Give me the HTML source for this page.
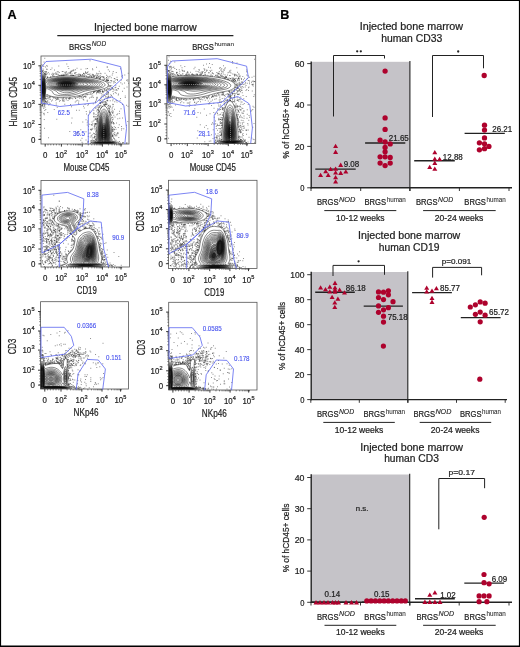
<!DOCTYPE html><html><head><meta charset="utf-8"><style>html,body{margin:0;padding:0;background:#fff}svg{display:block;will-change:transform}</style></head><body>
<svg width="520" height="647" viewBox="0 0 520 647" font-family="Liberation Sans" fill="#222">
<rect x="0" y="0" width="520" height="647" fill="#fff"/>
<clipPath id="c1"><rect x="41" y="56" width="88" height="88"/></clipPath>
<g clip-path="url(#c1)">
<path d="M44.5 58h0m45.25 2.5h0m-46 1.25h0m22.75 2h0m-25 .75h0m1 .5h0m4 .25h0m12 .5h0m-11.5 .25h0m-3.5 .25h0m24.25 0h0m-22.5 .5h0m61.5 0h0m.5 0h0m-66 .25h0m55 0h0m-44.5 .75h0m25 .25h0m-8.25 .25h0m18.75 0h0m-1.5 .25h0m6.5 0h0m28 0h0m-77.5 .25h0m3.75 0h0m34.25 .25h0m-34 .25h0m3.75 0h0m24.75 .25h0m17.25 0h0m15.5 0h0m-66.75 .25h0m13 0h0m18.75 0h0m.75 0h0m-30.75 .25h0m-1.25 .5h0m.75 0h0m29.5 0h0m1 0h0m-1.5 .25h0m-29.25 .25h0m28.25 0h0m28.5 0h0m10.25 0h0m-64 .25h0m1 0h0m15.75 0h0m.75 0h0m50.25 0h0m-68.75 .25h0m12.75 0h0m1 0h0m8.25 0h0m5 0h0m14 0h0m2.5 0h0m-46.75 .25h0m.5 0h0m1.5 0h0m27 0h0m-5.5 .25h0m.75 0h0m-24 .25h0m6.75 0h0m11 0h0m11.25 0h0m5.5 0h0m9.5 0h0m2 0h0m28.75 0h0m-70 .25h0m9.5 0h0m19.25 0h0m11.25 0h0m-40.75 .25h0m21.25 0h0m1.75 0h0m1 0h0m.5 0h0m5 0h0m-30.75 .25h0m1.5 0h0m7 0h0m30.75 0h0m13 0h0m3.75 0h0m4.75 0h0m7.75 0h0m15.5 0h0m-83.5 .25h0m9.25 0h0m11.25 0h0m5.5 0h0m4 0h0m9 0h0m2.5 0h0m-42 .25h0m3 0h0m9.5 0h0m27 0h0m1.25 0h0m12.75 0h0m1 0h0m2.25 0h0m-51.75 .25h0m6.25 0h0m12 0h0m4.75 0h0m6.5 0h0m11.25 0h0m-38.25 .25h0m4.75 0h0m1.5 0h0m5 0h0m16.75 0h0m7.75 0h0m1.25 0h0m3.5 0h0m-47.5 .25h0m.5 0h0m.5 0h0m.5 0h0m18 0h0m12.75 0h0m5.5 0h0m6.5 0h0m3.75 0h0m-39.5 .25h0m.5 0h0m12 0h0m.25 0h0m.5 0h0m1.5 0h0m3 0h0m7.25 0h0m1.75 0h0m.5 0h0m3.75 0h0m9.25 0h0m-48 .25h0m12.5 0h0m3.25 0h0m2 0h0m12.5 0h0m6.25 0h0m14.75 0h0m15.5 0h0m12.5 0h0m-72.25 .25h0m6.25 0h0m2.5 0h0m12.75 0h0m6.25 0h0m15.25 0h0m2.25 0h0m8.75 0h0m-47 .25h0m1.5 0h0m1 0h0m.5 0h0m8.75 0h0m1.5 0h0m.25 0h0m7.75 0h0m.25 0h0m1.75 0h0m2.25 0h0m6 0h0m31.25 0h0m-62.25 .25h0m3.5 0h0m.25 0h0m.25 0h0m.75 0h0m6 0h0m2.25 0h0m.25 0h0m.25 0h0m4.75 0h0m5 0h0m9.25 0h0m1 0h0m1 0h0m2.75 0h0m3 0h0m-54.25 .25h0m15 0h0m1.25 0h0m1.25 0h0m16.25 0h0m6.75 0h0m3.25 0h0m.5 0h0m3.75 0h0m-48.5 .25h0m7.25 0h0m1.25 0h0m11 0h0m9.75 0h0m3.25 0h0m6.5 0h0m9 0h0m6.25 0h0m7.75 0h0m2.5 0h0m-59.25 .25h0m3.25 0h0m3.25 0h0m21.75 0h0m7.25 0h0m3.5 0h0m1.75 0h0m3.25 0h0m3.75 0h0m3.25 0h0m-20 .25h0m2.25 0h0m3.75 0h0m9 0h0m6 0h0m.25 0h0m6 0h0m12.75 0h0m-74.25 .25h0m35.25 0h0m5.75 0h0m3.25 0h0m1.5 0h0m1 0h0m9.75 0h0m-56.5 .25h0m.25 0h0m3 0h0m1.25 0h0m32 0h0m3.75 0h0m1 0h0m2.75 0h0m5 0h0m.75 0h0m1.5 0h0m2 0h0m2.5 0h0m13.75 0h0m-25 .25h0m4.25 0h0m7.5 0h0m2.75 0h0m-56.25 .25h0m46.5 0h0m1 0h0m2.75 0h0m6.25 0h0m4.5 0h0m-19.25 .25h0m8.25 0h0m.25 0h0m8.25 0h0m-62 .25h0m46.75 0h0m.5 0h0m5 0h0m.25 0h0m-3.5 .25h0m1 0h0m2.75 0h0m14.75 0h0m.5 0h0m-9.75 .25h0m-1 .25h0m3.25 0h0m-4.25 .25h0m1.5 0h0m2 0h0m-6.25 .25h0m16.75 0h0m.25 0h0m-10.5 .25h0m21 0h0m-19.75 .25h0m7.25 0h0m6 0h0m-18.25 .25h0m3.75 0h0m.25 0h0m1.5 0h0m18 0h0m-23.25 .25h0m2.75 0h0m2 0h0m.5 0h0m2.25 0h0m6.75 0h0m-10 .25h0m3.75 0h0m-4.25 .25h0m.75 0h0m4 0h0m16 0h0m-22 .25h0m8.25 0h0m0 .5h0m-7.25 .25h0m2.5 .25h0m-1 .25h0m7 0h0m-4.5 .25h0m10 0h0m-7 .25h0m10.75 0h0m4 .25h0m-6.25 .75h0m-13.75 .25h0m1.75 1.25h0m-.5 .25h0m2 0h0m4 0h0m-7 .25h0m1.5 0h0m9 .25h0m-10.25 .5h0m1.25 0h0m16.75 .25h0m-15.25 .5h0m4 0h0m-3.25 .25h0m2.5 0h0m-7.5 .25h0m16.75 .25h0m-11.75 .25h0m5.5 0h0m-9.25 .25h0m.75 0h0m9 0h0m-11 .25h0m6 0h0m-6.75 .25h0m1.75 0h0m1.75 0h0m.75 0h0m1 0h0m-7.5 .25h0m-3.75 .25h0m15.75 0h0m-11.5 .25h0m1.25 0h0m4.25 0h0m3.5 0h0m1.75 0h0m-15.5 .25h0m6 0h0m10.75 0h0m-18.25 .25h0m.5 0h0m-2 .25h0m1.25 0h0m1 0h0m3.25 0h0m1.75 0h0m1.5 0h0m-7 .25h0m3.25 0h0m-7 .25h0m1 0h0m6.25 0h0m4.5 0h0m.5 0h0m15 0h0m-27.75 .25h0m2.75 0h0m.25 0h0m.5 0h0m2.25 0h0m2.25 0h0m10.25 0h0m-19.25 .25h0m.5 0h0m5 0h0m1.5 0h0m3 0h0m-10 .25h0m.25 0h0m5 0h0m1 0h0m2.5 0h0m.25 0h0m.5 0h0m-9.75 .25h0m4 0h0m.5 0h0m10.25 0h0m-11.75 .25h0m18.75 0h0m-24.25 .25h0m2.5 0h0m4.75 0h0m10 0h0m-1.5 .25h0m1.75 0h0m-8.5 .25h0m7.75 0h0m8.5 0h0m-24 .25h0m-2 .25h0m6.25 0h0m5 0h0m12 0h0m-26.75 .25h0m31.75 0h0m-30.25 .25h0m14.75 0h0m3.5 0h0m-19.5 .25h0m3 0h0m17 0h0m-23.5 .25h0m1.75 0h0m2 0h0m4.5 0h0m16.5 0h0m2.5 0h0m-63.5 .25h0m71 0h0m-14 .25h0m-21.75 .25h0m22.5 0h0m6.5 0h0m-9.5 .25h0m-9.25 .25h0m32.5 0h0m-77.75 .25h0m31.75 0h0m5.5 0h0m.25 0h0m1 0h0m22.5 0h0m-61.75 .25h0m33.5 0h0m1.5 0h0m2 0h0m1.25 0h0m-36 .25h0m.75 0h0m.75 0h0m.5 0h0m28 0h0m.75 0h0m1 0h0m22.5 0h0m2.5 0h0m6.5 0h0m-59.75 .25h0m25.75 0h0m3.5 0h0m10 0h0m9.5 0h0m4.75 0h0m1.75 0h0m1.25 0h0m1.5 0h0m-61.5 .25h0m.75 0h0m4 0h0m16 0h0m7.75 0h0m6 0h0m2.25 0h0m5.25 0h0m6 0h0m11.5 0h0m-51.25 .25h0m17 0h0m19 0h0m14.5 0h0m17.5 0h0m-71 .25h0m4.75 0h0m4.25 0h0m12.75 0h0m21 0h0m-49.25 .25h0m6 0h0m2 0h0m2 0h0m3.25 0h0m2 0h0m.75 0h0m6 0h0m.75 0h0m5 0h0m6.25 0h0m1.25 0h0m6.5 0h0m11.5 0h0m-55.25 .25h0m9.75 0h0m2.75 0h0m8.25 0h0m3.25 0h0m2 0h0m8 0h0m17.25 0h0m-51.25 .25h0m20 0h0m2.5 0h0m7.25 0h0m31.5 0h0m13.5 0h0m-75 .25h0m2.5 0h0m9.25 0h0m11.5 0h0m.5 0h0m3.5 0h0m-26.25 .25h0m2.75 0h0m7.75 0h0m5.25 0h0m.75 0h0m6.75 0h0m-19.25 .25h0m6 0h0m.75 0h0m39.25 0h0m8 0h0m8.5 0h0m-54.25 .25h0m24.5 0h0m21 0h0m-38 .25h0m35.75 0h0m-49.5 .25h0m10.5 0h0m1.25 0h0m19.5 0h0m16.25 0h0m7.25 0h0m-51.5 .25h0m21.5 0h0m10 0h0m9 0h0m3 0h0m-39 .25h0m2.75 0h0m5 0h0m32.5 0h0m6.75 0h0m9 0h0m-70.75 .25h0m2.25 0h0m59.25 0h0m.75 0h0m2.5 0h0m2.5 0h0m7.25 0h0m-68.5 .25h0m11.25 0h0m13.5 0h0m2.5 0h0m-33.25 .25h0m1.75 0h0m12.25 0h0m27.75 0h0m-42 .25h0m.5 0h0m18.25 0h0m31.5 0h0m8.5 0h0m-1.25 .25h0m2.5 0h0m.5 0h0m9 0h0m-69.75 .25h0m1.25 0h0m.5 0h0m28.5 0h0m26 0h0m15.75 0h0m-68 .25h0m51 0h0m1.75 0h0m3.25 0h0m-58 .25h0m48.5 0h0m5 0h0m.25 0h0m-55.75 .25h0m57.5 0h0m.75 0h0m3.25 0h0m-50.25 .25h0m22.25 0h0m21.5 0h0m5.5 0h0m-61.5 .25h0m56.5 0h0m-53.25 .25h0m2.75 0h0m50 0h0m-55.5 .25h0m48.75 0h0m7.5 0h0m-56.75 .25h0m1.75 0h0m33 0h0m26 0h0m1 0h0m1.25 0h0m-62.25 .25h0m20 0h0m23.75 0h0m17.75 0h0m.5 0h0m6 0h0m-42.25 .25h0m14.5 0h0m18.5 0h0m1 0h0m.5 0h0m.5 0h0m7.75 0h0m9.25 0h0m-80.25 .25h0m.25 0h0m.75 0h0m62.75 0h0m-61.5 .25h0m4.25 0h0m7.5 0h0m31.5 .25h0m21.25 0h0m17.5 0h0m-84.5 .25h0m.5 0h0m66 0h0m-66.75 .25h0m3 0h0m53.5 0h0m2 0h0m.75 0h0m3.5 0h0m-5 .25h0m4.75 0h0m1 0h0m5.25 0h0m-68.25 .25h0m2 0h0m39.25 0h0m19 0h0m5.25 0h0m5.25 0h0m15 0h0m-18 .25h0m-38.5 .25h0m-28.25 .25h0m54 0h0m1.75 0h0m.5 0h0m2.5 0h0m7 0h0m-64 .25h0m12.25 0h0m44 0h0m9 0h0m-11.25 .25h0m2.5 0h0m10.75 .25h0m-28 .25h0m11 0h0m.75 0h0m2.5 0h0m9.75 0h0m1 .25h0m-65.5 .25h0m57 0h0m8 .25h0m.75 0h0m11.5 0h0m-22.75 .25h0m13.75 0h0m2.5 .25h0m-68.75 .25h0m8.5 0h0m43.75 0h0m-.75 .25h0m12.5 0h0m-11.75 .25h0m-21.5 .25h0m2.75 0h0m14.5 0h0m5 0h0m-54 .25h0m53.75 0h0m10.25 .25h0m.75 0h0m3.25 0h0m-45.5 .25h0m22.5 0h0m7 0h0m15 .25h0m7.75 0h0m-33.25 .25h0m13 0h0m10.25 0h0m-10.5 .25h0m10 0h0m-10 .25h0m14.5 0h0m-71.75 .25h0m47.75 0h0m9.25 0h0m11.5 0h0m2 0h0m-64.5 .25h0m61.75 0h0m2.75 0h0m-18.5 .25h0m4 0h0m11.75 0h0m.25 0h0m-65.75 .5h0m66.5 0h0m2.25 .25h0m6.5 0h0m-75.5 .25h0m50.25 0h0m-7.5 .25h0m7.25 0h0m4 0h0m12.75 0h0m7 0h0m-7.25 .25h0m-14.25 .25h0m15 0h0m-66.75 .25h0m72.5 0h0m-28.25 .5h0m25.25 0h0m-16.25 .25h0m12.5 0h0m1.25 0h0m-17.25 .75h0m2 .25h0m2 0h0m-4.25 .25h0m16.5 0h0m-16.25 .25h0m2 0h0m19 0h0m-3 .25h0m.75 0h0m-40.75 .75h0m39.5 0h0m11 0h0m-25.5 .25h0m22.75 0h0m-22.5 .25h0m.25 0h0m-2.25 .25h0m2.5 0h0m20 0h0m-22 .25h0m14.75 0h0m2.75 0h0m-56.5 .25h0m39 0h0m.25 0h0m-51.75 .25h0m52.75 0h0m-11 .25h0m26.5 0h0m-18.25 .25h0m2 0h0m1 0h0m14.75 0h0m-14.75 .75h0m-9.5 .25h0m5.5 0h0m3.25 .25h0m1 0h0m0 .25h0m14.75 0h0m15.5 0h0m-45 .5h0m9.25 0h0m19.75 0h0m-14.25 .25h0m14 0h0m-14 .25h0m16 0h0m-26.25 .25h0m10 0h0m13.75 0h0m-39.5 .25h0m41.25 0h0m.75 0h0m3 0h0m-5.25 .25h0m-16.25 .25h0m.5 0h0m1.5 0h0m.25 0h0m16.75 0h0m-21.25 .25h0m2.5 0h0m1.75 0h0m16.75 .25h0m-24.5 .25h0m5.75 0h0m.25 0h0m.5 0h0m1.25 0h0m-5.75 .25h0m28 .25h0m-32 .25h0m4.25 0h0m1 0h0m2.25 0h0m31.75 .25h0m-32 .5h0m1.25 .25h0m-7.25 .25h0m5.75 .25h0m27.25 0h0m-9.75 .25h0m2.5 0h0m-19.5 .5h0m2 .25h0m15.75 0h0m3 0h0m2.75 0h0m-5.75 .5h0m-68 .25h0m48.25 0h0m2.25 .25h0m26.75 0h0m-8 .25h0m10 0h0m-32 .25h0m4.5 0h0m15.5 0h0m-21 .25h0m25.25 0h0m-25.25 .25h0m1.25 0h0m21.75 0h0m.75 0h0m-33.75 .25h0m7.75 0h0m6.5 0h0m17.25 0h0m.25 0h0m0 .25h0m9 0h0m-30.25 .25h0m5.25 .25h0m15.75 .25h0m1.5 0h0m-17.75 .25h0m-26.25 .5h0m9 0h0m34 0h0m-26.75 .25h0m26.75 0h0m-17.25 .25h0m19.25 .5h0m3 0h0m-40.5 .25h0m0 .25h0m13 0h0m-1.25 .25h0m4.5 0h0m18.25 0h0m6.25 0h0m-23.25 .25h0m19 .25h0m3.25 0h0m.75 0h0m-38 .25h0m14.5 0h0m20.5 .25h0m-19.25 .25h0m-3.25 .25h0m4.25 0h0m16.25 0h0m1.75 0h0m1.75 0h0m-4 .5h0m-21 .25h0m21.25 0h0m3 .25h0m1.25 0h0m-22 .25h0m17.25 0h0m.5 0h0m1.25 0h0m-1 .25h0m-24.5 .25h0m6.5 0h0m1.5 0h0m15.75 0h0m-20.25 .25h0m3 0h0m-4.5 .25h0m4.5 .25h0m-1.75 .25h0m25.75 0h0m-70.25 .25h0m46 0h0m19 0h0m-19.5 .25h0m-12 .25h0m31.75 0h0m-17.75 .5h0m18.5 0h0m-22.25 .25h0m4 0h0m-.75 .25h0m.75 .25h0m-1 .25h0m17.25 0h0m2.25 0h0m-28.75 .25h0m-5.25 .25h0m12.25 0h0m23 0h0m-24.5 .25h0m1.5 0h0m1 0h0m2 .25h0m.5 0h0m16.25 0h0m-22.25 .25h0m4.25 0h0m.25 0h0m-7 .25h0m26.25 0h0m1 0h0m-27 .25h0m24.5 0h0m6.75 0h0m-28 .25h0m1.25 0h0m3 0h0m17.5 0h0m3.75 0h0m-23.75 .25h0m1.75 0h0m18 0h0m1 0h0m-32 .25h0m11.25 0h0m22.5 0h0m2.75 0h0m-26.75 .25h0m31 0h0m-35 .25h0m35.75 0h0m-32.25 .25h0m28.75 0h0m2.75 0h0m4 0h0m.25 0h0m-44.25 .25h0m7.75 0h0m29.75 0h0m6 0h0m-40.25 .25h0m33.75 0h0m2.25 0h0" stroke="#333" stroke-width=".55" stroke-linecap="square" transform="translate(.28 .28)"/>
<path d="M42.5 104.14L42 103.94L41.5 103.35L41.08 102.5L40.42 100.5L40 98.63L39.71 94.5L39.61 86L39.7 80.5L40.02 77L40.69 74.5L41.3 73L42 72.04L42.5 71.84L43 72.04L43.71 73L44.34 74.5L45 76.58L45.5 77.7L46 78.23L46.5 78.36L51.5 77.27L54 76.84L58 76.34L60.5 76.13L65 75.92L68.5 75.89L73.5 76.05L77.5 76.33L91.5 77.78L95 78.35L98.5 79.13L102.5 80.28L105 81.25L106 81.77L107.07 82.5L107.61 83L108.26 84L108.4 84.5L108.33 85.5L107.75 86.5L107.25 87L106.5 87.54L104.5 88.5L102 89.26L94.06 91L90.09 92L82 94.83L79 95.63L75.5 96.33L71.5 96.89L67 97.27L62.5 97.39L58 97.26L54 96.83L51 96.23L48.89 95.5L47 94.43L46.5 94.63L46 95.59L45.5 97.06L44.3 101.5L43.92 102.5L43.5 103.35L43 103.94L42.5 104.14ZM115 145.06L112 145.31L107.5 145.44L101 145.44L96.5 145.3L94 145.07L92 144.66L90.45 144L90.21 143.5L90.74 143L91 142.89L92.5 142.39L94.3 142L95.97 141.5L96.49 141L96.55 140.5L96.3 136.5L96.44 132.5L97.3 122.5L97.74 119L98.27 116L99.32 112L99.86 110.5L100.55 109L101.14 108L102 106.91L103 106.16L103.5 105.98L104 105.91L104.5 105.98L105.5 106.47L106.08 107L107 108.21L107.7 109.5L108.33 111L109.13 113.5L109.62 115.5L110.18 118.5L110.64 122L111.38 130L111.7 135.5L111.65 138L111.45 140.5L111.56 141L112.25 141.5L116 142.28L117.5 142.71L118.23 143L118.77 143.5L118.52 144L117.5 144.49L116.5 144.79L115 145.06Z" fill="#fff" fill-rule="evenodd"/>
<path d="M42.5 95.06L42 94.59L41.5 92.97L41.18 90.5L41.04 87L41.15 84.5L41.46 82.5L42 81L42.5 80.59L43 80.89L43.5 81.96L43.65 82.5L43.98 84.5L44.06 86.5L43.89 90L43.52 93L43 94.63L42.5 95.06ZM69.5 87.03L67 87.16L64.5 87.11L62 86.87L60 86.51L58.24 86L57.1 85.5L56.36 85L55.96 84.5L55.84 84L56.01 83.5L56.47 83L57.29 82.5L59 81.87L60.58 81.5L62.5 81.22L66.5 81.01L70.5 81.26L72.5 81.56L74.37 82L75.84 82.5L76.87 83L77.51 83.5L77.78 84L77.66 84.5L77.15 85L76.25 85.5L75.5 85.79L73 86.5L69.5 87.03ZM104.5 145.01L103 144.97L101 144.63L99.07 144L98.67 143.5L99.3 143L101.67 142L102.29 141.5L102.34 141L101.61 139L101.25 137L101.14 134.5L101.29 131.5L101.82 127.5L102.5 124.57L103 123.37L103.5 122.71L104 122.5L104.5 122.71L105 123.37L105.5 124.57L106.18 127.5L106.71 131.5L106.86 134.5L106.75 137L106.39 139L105.67 141L105.73 141.5L106.41 142L109.15 143L109.92 143.5L109.47 144L108 144.45L106 144.87L104.5 145.01Z" fill="#888" fill-rule="evenodd"/>
<path d="M42.5 94.04L42 93.49L41.52 91.5L41.32 89.5L41.25 87L41.33 85L41.53 83.5L42 81.95L42.5 81.47L43 81.82L43.5 83.15L43.72 84.5L43.83 86.5L43.74 89L43.5 91.5L43 93.53L42.5 94.04ZM67 86.51L64 86.41L61 85.94L59.57 85.5L58.59 85L58.07 84.5L57.92 84L58.13 83.5L58.73 83L59.82 82.5L60.5 82.3L63 81.82L66.5 81.62L70 81.87L72.5 82.38L74.15 83L74.84 83.5L75.1 84L74.95 84.5L74.38 85L73 85.6L70.5 86.19L67 86.51ZM104.5 140.71L104 140.89L103.5 140.71L103 140.22L102.5 139.41L101.92 137.5L101.69 135L101.85 131.5L102.5 127.57L103 125.98L103.5 125.13L104 124.86L104.5 125.13L105 125.98L105.5 127.57L106.03 130.5L106.31 134L106.27 136L105.97 138L105.45 139.5L105 140.22L104.5 140.71ZM106.5 144.59L104.5 144.83L102.5 144.72L101 144.41L99.79 144L99.36 143.5L100 142.99L103.5 141.59L104 141.53L104.5 141.58L105.47 142L108.4 143L109.16 143.5L108.69 144L106.5 144.59Z" fill="#444" fill-rule="evenodd"/>
<path d="M42.5 92.95L42 92.24L41.83 91.5L41.55 89.5L41.46 87.5L41.53 85.5L41.74 84L42 83L42.5 82.4L43 82.82L43.35 84L43.52 85L43.6 87L43.5 89.24L43.27 91L43 92.29L42.5 92.95ZM69 85.57L66 85.75L63.17 85.5L61.4 85L60.61 84.5L60.39 84L60.7 83.5L61.61 83L62 82.88L64 82.47L66.5 82.35L68.79 82.5L71 83L71.98 83.5L72.31 84L72.09 84.5L71.27 85L69 85.57ZM104 139.16L103.5 138.97L103 138.32L102.86 138L102.45 136.5L102.31 134.5L102.5 131.56L102.92 129.5L103.5 128L104 127.64L104.5 128L105.08 129.5L105.5 131.56L105.69 134.5L105.55 136.5L105.14 138L105 138.32L104.5 138.97L104 139.16ZM105.5 144.56L103.5 144.63L102 144.43L100.5 144L100.03 143.5L100.66 143L101.5 142.67L103 142.22L104 142.11L105 142.2L106.5 142.61L107.68 143L108.43 143.5L107.92 144L105.5 144.56Z" fill="#111" fill-rule="evenodd"/>
<path d="M42.5 104.14L42 103.94L41.5 103.35L41.08 102.5L40.42 100.5L40 98.63L39.71 94.5L39.61 86L39.7 80.5L40.02 77L40.69 74.5L41.3 73L42 72.04L42.5 71.84L43 72.04L43.71 73L44.34 74.5L45 76.58L45.5 77.7L46 78.23L46.5 78.36L51.5 77.27L54 76.84L58 76.34L60.5 76.13L65 75.92L68.5 75.89L73.5 76.05L77.5 76.33L91.5 77.78L95 78.35L98.5 79.13L102.5 80.28L105 81.25L106 81.77L107.07 82.5L107.61 83L108.26 84L108.4 84.5L108.33 85.5L107.75 86.5L107.25 87L106.5 87.54L104.5 88.5L102 89.26L94.06 91L90.09 92L82 94.83L79 95.63L75.5 96.33L71.5 96.89L67 97.27L62.5 97.39L58 97.26L54 96.83L51 96.23L48.89 95.5L47 94.43L46.5 94.63L46 95.59L45.5 97.06L44.3 101.5L43.92 102.5L43.5 103.35L43 103.94L42.5 104.14ZM115 145.06L112 145.31L107.5 145.44L101 145.44L96.5 145.3L94 145.07L92 144.66L90.45 144L90.21 143.5L90.74 143L91 142.89L92.5 142.39L94.3 142L95.97 141.5L96.49 141L96.55 140.5L96.3 136.5L96.44 132.5L97.3 122.5L97.74 119L98.27 116L99.32 112L99.86 110.5L100.55 109L101.14 108L102 106.91L103 106.16L103.5 105.98L104 105.91L104.5 105.98L105.5 106.47L106.08 107L107 108.21L107.7 109.5L108.33 111L109.13 113.5L109.62 115.5L110.18 118.5L110.64 122L111.38 130L111.7 135.5L111.65 138L111.45 140.5L111.56 141L112.25 141.5L116 142.28L117.5 142.71L118.23 143L118.77 143.5L118.52 144L117.5 144.49L116.5 144.79L115 145.06ZM42.5 102.2L42 101.98L41.35 101L40.79 99.5L40.2 97L40 95.65L39.86 93.5L39.73 86L39.83 81.5L40 79.61L40.22 78.5L40.76 76.5L41.33 75L42 73.99L42.5 73.77L43 73.99L43.5 74.63L44.11 76L45 78.56L45.5 79.52L46 79.94L46.5 79.99L47 79.88L50 78.93L53 78.22L56 77.71L59.5 77.31L63 77.08L66.5 76.99L70.5 77.05L74 77.25L89 78.9L92 79.3L95 79.88L99.5 81.1L102.5 82.24L103.83 83L104.42 83.5L104.82 84L105.02 84.5L105.05 85L104.9 85.5L104.55 86L104 86.47L103 87.05L101 87.78L95 89.16L87.49 90.5L85.2 91L83 91.69L78.5 93.55L75 94.58L71.5 95.24L67.5 95.66L64 95.79L60.5 95.67L57.5 95.3L55.5 94.8L54.67 94.5L54 94.13L53.25 93.5L52.25 91.5L51.78 91L51.09 90.5L48 88.98L47 88.61L46.5 88.61L46 89.16L45.92 89.5L45.67 91L45.29 95L44.77 97.5L44.23 99.5L43.5 101.32L43 101.98L42.5 102.2ZM112.5 145.06L109.5 145.3L106 145.41L101.5 145.4L98 145.25L95.75 145L93.6 144.5L92.4 144L92.13 143.5L92.74 143L93 142.9L96.5 141.9L97.34 141.5L97.65 141L97.4 137L97.45 133.5L98.19 124.5L98.93 119L99.7 115.5L100.74 112.5L101.24 111.5L102 110.34L102.5 109.81L103 109.44L103.5 109.22L104 109.15L104.5 109.22L105 109.44L105.68 110L106.5 111.05L107.26 112.5L107.84 114L108.79 117.5L109.24 120L109.7 123.5L110.42 131.5L110.62 136L110.37 141L110.77 141.5L111 141.59L112.18 142L115.5 142.74L116.22 143L116.85 143.5L116.57 144L115.5 144.45L114 144.83L112.5 145.06ZM42.5 101.07L42 100.83L41.46 100L40.76 98L40.34 96L40 93L39.83 86L39.94 82L40.33 79.5L40.86 77.5L41.5 75.84L42 75.13L42.5 74.9L43 75.12L43.5 75.8L44.21 77.5L45 79.75L45.5 80.73L46 81.16L46.5 81.18L49 80.14L51.5 79.34L54 78.76L57 78.25L60.5 77.87L64 77.66L68 77.62L71.5 77.75L76.5 78.19L89 79.74L93.5 80.49L97 81.42L99.89 82.5L100.89 83L101.64 83.5L102.15 84L102.4 84.5L102.42 85L102.17 85.5L101.63 86L100 86.81L97.79 87.5L92.5 88.68L85 89.76L82.5 90.22L79.66 91L75 92.86L72.95 93.5L70 94.09L66.5 94.43L64.5 94.47L62.5 94.36L60.5 94.06L59.5 93.79L58.75 93.5L58 93.03L56.48 91.5L55.77 91L54.81 90.5L49.5 88.41L47 87.28L46.5 87.18L46 87.48L45.5 88.96L44.91 95L44.27 98L43.5 100.12L43 100.84L42.5 101.07ZM111.5 145.01L109 145.25L106 145.37L102 145.37L99 145.23L96.96 145L94.84 144.5L93.56 144L93.26 143.5L93.92 143L97.22 142L98.09 141.5L98.32 141L98.01 137L98.07 133L98.7 125.5L99.34 120.5L100.22 116.5L101.12 114L101.63 113L102.34 112L103 111.4L103.5 111.15L104 111.07L104.5 111.15L105 111.4L105.5 111.81L106.06 112.5L106.65 113.5L107.29 115L107.78 116.5L108.28 118.5L108.74 121L109.13 124L109.87 132L110 136.5L109.7 141L109.98 141.5L111 141.97L114.5 142.82L115.01 143L115.71 143.5L115.41 144L114.5 144.36L113 144.75L111.5 145.01ZM42.5 100.23L42 99.97L41.5 99.2L40.91 97.5L40.58 96L40.13 92.5L39.93 86L40.05 82.5L40.26 81L40.71 79L41.5 76.72L42 75.98L42.5 75.72L43 75.96L43.5 76.66L44.07 78L45 80.72L45.5 81.84L46 82.42L46.5 82.41L48.5 81.17L50.5 80.31L53 79.56L56 78.92L59.5 78.44L62.5 78.19L66 78.08L69.5 78.13L72.5 78.3L76 78.66L89 80.4L92 80.89L94.5 81.51L97.3 82.5L99.14 83.5L99.68 84L99.94 84.5L99.91 85L99.55 85.5L98.83 86L97 86.76L94.5 87.49L90.5 88.28L84.47 89L81.21 89.5L76.94 90.5L71 92.23L69 92.61L67 92.8L64.5 92.69L62.5 92.19L58.19 90.5L51 88.18L49 87.31L46.5 85.85L46 86.06L45.5 87.32L45.14 90L44.75 94.5L44.12 97.5L43.5 99.22L43 99.98L42.5 100.23ZM110.5 145.02L108 145.25L105 145.35L101.5 145.31L99 145.15L97.78 145L95.5 144.42L94.4 144L94.09 143.5L94.78 143L97.88 142L98.63 141.5L98.81 141L98.46 137L98.46 134L98.85 128.5L99.67 121.5L100.4 118L101.23 115.5L102 114L102.5 113.33L103 112.87L103.5 112.6L104 112.51L104.5 112.6L105 112.87L105.5 113.33L106 113.99L106.55 115L107.15 116.5L107.6 118L108.06 120L108.8 125L109.46 132.5L109.56 136.5L109.2 141L109.43 141.5L110.36 142L114 142.96L114.86 143.5L114.53 144L114 144.21L112.5 144.65L110.5 145.02ZM42.5 99.52L42 99.26L41.5 98.43L41.02 97L40.68 95.5L40.22 91.5L40.03 86L40.22 82.5L40.81 79.5L41.5 77.47L42 76.68L42.5 76.42L43 76.65L43.5 77.39L43.78 78L45.31 82.5L45.67 84L45.69 84.5L45.02 89L44.73 93L44.27 96L43.5 98.46L43 99.26L42.5 99.52ZM67.5 91L64.5 90.85L61 90.27L56.5 89.24L52 87.88L49.97 87L48.38 86L47.84 85.5L47.47 85L47.24 84.5L47.18 84L47.29 83.5L47.57 83L48 82.5L49.38 81.5L51.5 80.56L54 79.81L57 79.2L60.5 78.75L64 78.52L68 78.49L72 78.68L75.5 79.05L91 81.34L93.62 82L96 82.97L96.86 83.5L97.38 84L97.6 84.5L97.5 85L97.06 85.5L96.26 86L94.5 86.69L92 87.35L89.5 87.78L83.1 88.5L81 88.82L71 90.74L67.5 91ZM109.5 145.05L107 145.26L104.5 145.32L101.5 145.27L99.5 145.13L98.46 145L96 144.34L95.11 144L94.79 143.5L95.49 143L98.41 142L99.08 141.5L99.24 141L98.82 137L98.84 133.5L99.32 127.5L100.1 121.5L100.76 118.5L101.68 116L102.5 114.64L103 114.14L103.5 113.85L104 113.75L104.5 113.85L105 114.14L105.5 114.64L106.32 116L107.24 118.5L107.9 121.5L108.68 127.5L109.16 133.5L109.18 137L108.77 141L108.97 141.5L109.79 142L113.37 143L114.13 143.5L113.8 144L113 144.29L111.5 144.69L109.5 145.05ZM43 98.56L42.5 98.84L42 98.55L41.5 97.67L41.12 96.5L40.79 95L40.58 93.5L40.32 90.5L40.2 87.5L40.25 84L40.78 80.5L41.5 78.19L42 77.36L42.5 77.08L43 77.33L43.5 78.08L43.89 79L44.83 82L45.14 83.5L45.23 84.5L44.64 92L44.35 94.5L43.76 97L43.5 97.72L43 98.56ZM68.5 90.01L65 89.97L62 89.68L57 88.76L53.5 87.78L51 86.75L49.5 85.77L48.8 85L48.58 84.5L48.52 84L48.62 83.5L48.89 83L49.34 82.5L50.84 81.5L52.5 80.79L55 80.05L58 79.47L61 79.1L64.5 78.88L68 78.87L71.5 79.05L75 79.42L90 81.83L92 82.33L93.75 83L94.58 83.5L95.09 84L95.27 84.5L95.11 85L94.59 85.5L93.67 86L92.26 86.5L90.5 86.92L88 87.3L82 88L72.5 89.66L68.5 90.01ZM109 145.03L106.5 145.23L104 145.28L101.5 145.22L99.5 145.06L97.5 144.6L96 144.09L95.79 144L95.46 143.5L96.16 143L98.91 142L99.52 141.5L99.66 141L99.22 137.5L99.2 133.5L99.68 127.5L100.33 122.5L101.13 119L102 116.77L102.5 115.96L103 115.41L103.5 115.09L104 114.98L104.5 115.09L105 115.41L105.5 115.96L106 116.77L106.87 119L107.67 122.5L108.32 127.5L108.8 133.5L108.78 137.5L108.35 141L108.5 141.45L109.26 142L112.64 143L113.43 143.5L113.08 144L112.5 144.21L111 144.63L109 145.03ZM42.5 98.24L42 97.94L41.5 97L40.87 94.5L40.54 91.5L40.32 86.5L40.47 83.5L40.65 82L40.97 80.5L41.25 79.5L41.67 78.5L42 77.94L42.5 77.65L43 77.9L43.5 78.68L44.18 80.5L44.81 83L44.95 85L44.6 90.5L44.18 94.5L43.84 96L43.5 97.06L43 97.96L42.5 98.24ZM73 89.01L69 89.4L65 89.4L61.5 89.08L57 88.27L53.5 87.24L52 86.59L50.99 86L50.37 85.5L49.94 85L49.7 84.5L49.63 84L49.74 83.5L50.03 83L50.51 82.5L52 81.57L54 80.78L56 80.24L59 79.68L62 79.35L65 79.2L68 79.2L71.5 79.4L75 79.8L89 82.3L91.45 83L92.43 83.5L92.98 84L93.15 84.5L92.92 85L92.27 85.5L91.08 86L89.5 86.4L81.58 87.5L73 89.01ZM108.5 145.02L104.5 145.25L102 145.2L100 145.05L98 144.58L96.5 144.06L96.36 144L96.02 143.5L96.71 143L99.33 142L99.91 141.5L100.03 141L99.55 137.5L99.49 134L99.84 129L100.53 123.5L101.15 120.5L102 118.03L102.5 117.13L103 116.53L103.5 116.18L104 116.07L104.5 116.18L105 116.53L105.5 117.13L106 118.03L106.85 120.5L107.47 123.5L108.16 129L108.51 134L108.45 137.5L107.98 141L108.13 141.5L108.82 142L112.02 143L112.84 143.5L112.46 144L112 144.17L110.5 144.6L108.5 145.02ZM42.5 97.68L42 97.36L41.56 96.5L41.03 94.5L40.66 91.5L40.47 86.5L40.6 83.5L41.02 81L41.29 80L41.71 79L42 78.5L42.5 78.19L43 78.44L43.36 79L43.97 80.5L44.59 83L44.77 85L44.39 91.5L44.1 94L43.5 96.42L43 97.38L42.5 97.68ZM73 88.53L69.5 88.9L65.5 88.95L62 88.7L58.5 88.16L55.5 87.42L53 86.46L52.17 86L51.5 85.5L51.04 85L50.78 84.5L50.7 84L50.82 83.5L51.13 83L52 82.25L53.4 81.5L55.5 80.78L58 80.2L61 79.77L64 79.55L67 79.5L71 79.69L75 80.18L86.45 82.5L88.58 83L89.91 83.5L90.61 84L90.78 84.5L90.43 85L90 85.24L89.46 85.5L88 85.89L82 86.86L75.5 88.13L73 88.53ZM108 145.01L104 145.21L100.14 145L98.25 144.5L96.88 144L96.53 143.5L97.22 143L99.73 142L100.28 141.5L100.38 141L99.95 138.5L99.81 137L99.77 134L100.14 129L100.7 124.5L101.29 121.5L102 119.29L102.5 118.29L103 117.63L103.5 117.24L104 117.12L104.5 117.24L105 117.63L105.5 118.29L106 119.29L106.71 121.5L107.3 124.5L107.86 129L108.23 134L108.15 137.5L107.63 141L107.76 141.5L108.4 142L111.46 143L112.28 143.5L111.89 144L110.3 144.5L108 145.01ZM42.5 97.15L42 96.81L41.61 96L41.1 94L40.74 91L40.58 86.5L40.73 83.5L41.19 81L41.5 79.98L42 79.01L42.5 78.69L43.03 79L43.5 79.78L43.94 81L44.41 83L44.6 85.5L44.3 91L43.94 94L43.42 96L43 96.83L42.5 97.15ZM69 88.51L66 88.57L62.5 88.36L59 87.85L56.5 87.27L54.32 86.5L53.32 86L52.59 85.5L52.09 85L51.81 84.5L51.73 84L51.85 83.5L52.18 83L52.5 82.71L53.54 82L55.5 81.21L57.5 80.67L60 80.22L62.5 79.95L65 79.82L68 79.82L70.5 79.97L73 80.23L75.5 80.63L78 81.16L85.04 83L86.59 83.5L87.5 84L87.66 84.5L87.03 85L85.44 85.5L77 87.38L72.5 88.18L69 88.51ZM107.5 145.01L104 145.17L100.64 145L98.73 144.5L97.36 144L97.01 143.5L97.68 143L100.11 142L100.64 141.5L100.73 141L100.33 139L100.14 137.5L100.04 134.5L100.27 130.5L100.79 126L101.31 123L102.02 120.5L102.5 119.43L103 118.7L103.5 118.28L104 118.15L104.5 118.28L105 118.7L105.5 119.43L105.98 120.5L106.69 123L107.21 126L107.73 130.5L107.96 134.5L107.81 138L107.28 141L107.39 141.5L108 142L110.95 143L111.77 143.5L111.37 144L109.77 144.5L107.5 145.01ZM42.5 96.61L42 96.25L41.88 96L41.5 95.06L41.25 94L40.86 91L40.69 87L40.81 84L41.23 81.5L41.5 80.56L42 79.53L42.5 79.18L43 79.45L43.5 80.33L43.75 81L44.24 83L44.44 85.5L44.25 90L43.87 93.5L43.37 95.5L43 96.28L42.5 96.61ZM70.5 88.01L67.5 88.19L64.5 88.14L61.5 87.87L58.5 87.35L56.5 86.81L54.5 86L53.7 85.5L53.16 85L52.85 84.5L52.76 84L52.9 83.5L53.25 83L53.85 82.5L55 81.89L57 81.19L59 80.73L61.5 80.36L64 80.16L66.5 80.11L69 80.18L71.5 80.38L74 80.74L76 81.13L78.5 81.78L80.79 82.5L83.17 83.5L83.79 84L83.8 84.5L83.12 85L80.33 86L75 87.34L72.5 87.78L70.5 88.01ZM107 145L104 145.13L101.17 145L99.2 144.5L97.83 144L97.46 143.5L98.13 143L100.49 142L101.02 141.5L101.1 141L100.65 139L100.43 137.5L100.31 135L100.43 132L100.89 127.5L101.46 124L102.15 121.5L102.5 120.64L103 119.82L103.5 119.35L104 119.2L104.5 119.35L105 119.82L105.5 120.64L105.85 121.5L106.54 124L107.11 127.5L107.57 132L107.69 135L107.51 138L106.91 141L107.01 141.5L107.61 142L110.45 143L111.26 143.5L110.85 144L109.25 144.5L107 145ZM42.5 96.09L42 95.69L41.53 94.5L41.31 93.5L40.95 90.5L40.81 87L40.9 84.5L41.27 82L41.5 81.13L42 80.03L42.5 79.67L43 79.95L43.5 80.87L43.71 81.5L44.16 83.5L44.31 86L44.13 90L43.72 93.5L43.5 94.49L43.11 95.5L43 95.73L42.5 96.09ZM71.5 87.52L68.5 87.79L65.5 87.82L62.5 87.63L59.5 87.17L57 86.51L55.5 85.89L54.82 85.5L54.22 85L53.89 84.5L53.79 84L53.94 83.5L54.32 83L54.98 82.5L55.96 82L57.5 81.46L59.47 81L61.5 80.69L64 80.47L66.5 80.41L69 80.49L71.5 80.72L73.5 81.02L75.78 81.5L77.53 82L80.02 83L80.8 83.5L81.2 84L81.13 84.5L80.57 85L79.6 85.5L78.28 86L75 86.91L71.5 87.52ZM106 145.03L103.5 145.09L101.5 144.96L99.65 144.5L98.27 144L97.89 143.5L98.55 143L100.88 142L101.41 141.5L101.47 141L100.87 138.5L100.61 136L100.64 133L101 129L101.52 125.5L102.27 122.5L103 120.96L103.5 120.45L104 120.28L104.5 120.45L105 120.96L105.73 122.5L106.39 125L106.94 128.5L107.33 132.5L107.4 135.5L107.13 138.5L106.53 141L106.62 141.5L107.22 142L109.98 143L110.79 143.5L110.36 144L110 144.12L108 144.69L106 145.03ZM42.5 95.56L42 95.13L41.59 94L41.37 93L41.07 90.5L40.93 87L41.03 84.5L41.32 82.5L41.5 81.74L42 80.53L42.5 80.14L43 80.44L43.5 81.43L43.68 82L44.07 84L44.18 86L44.04 89.5L43.66 93L43.44 94L43 95.17L42.5 95.56ZM72 87.07L69 87.4L66 87.48L63 87.32L60.5 86.98L58 86.37L56.97 86L56 85.52L55.31 85L54.95 84.5L54.84 84L55 83.49L55.42 83L56 82.6L57.25 82L58.5 81.61L60 81.27L62 80.96L64 80.78L66.5 80.72L70.5 80.94L72.5 81.21L74.5 81.62L76.5 82.21L78.31 83L78.98 83.5L79.28 84L79.19 84.5L78.68 85L77.78 85.5L76.5 86L75 86.45L72 87.07ZM105.5 145.01L103 145.03L101.5 144.85L100.1 144.5L98.69 144L98.3 143.5L98.94 143L101.28 142L101.84 141.5L101.89 141L101.29 139L100.93 136.5L100.88 134L101.12 130.5L101.68 126.5L102 124.92L102.41 123.5L103 122.17L103.5 121.59L104 121.4L104.5 121.59L105 122.17L105.59 123.5L106.23 126L106.82 130L107.1 133.5L107.1 136L106.81 138.5L106.11 141L106.19 141.5L106.81 142L109.54 143L110.33 143.5L109.9 144L109 144.29L107 144.79L105.5 145.01ZM42.5 95.06L42 94.59L41.5 92.97L41.18 90.5L41.04 87L41.15 84.5L41.46 82.5L42 81L42.5 80.59L43 80.89L43.5 81.96L43.65 82.5L43.98 84.5L44.06 86.5L43.89 90L43.52 93L43 94.63L42.5 95.06ZM69.5 87.03L67 87.16L64.5 87.11L62 86.87L60 86.51L58.24 86L57.1 85.5L56.36 85L55.96 84.5L55.84 84L56.01 83.5L56.47 83L57.29 82.5L59 81.87L60.58 81.5L62.5 81.22L66.5 81.01L70.5 81.26L72.5 81.56L74.37 82L75.84 82.5L76.87 83L77.51 83.5L77.78 84L77.66 84.5L77.15 85L76.25 85.5L75.5 85.79L73 86.5L69.5 87.03ZM104.5 145.01L103 144.97L101 144.63L99.07 144L98.67 143.5L99.3 143L101.67 142L102.29 141.5L102.34 141L101.61 139L101.25 137L101.14 134.5L101.29 131.5L101.82 127.5L102.5 124.57L103 123.37L103.5 122.71L104 122.5L104.5 122.71L105 123.37L105.5 124.57L106.18 127.5L106.71 131.5L106.86 134.5L106.75 137L106.39 139L105.67 141L105.73 141.5L106.41 142L109.15 143L109.92 143.5L109.47 144L108 144.45L106 144.87L104.5 145.01ZM42.5 94.52L42 94.01L41.5 92.15L41.22 89.5L41.15 87L41.23 85L41.5 83L42 81.51L42.5 81.06L43 81.38L43.5 82.58L43.84 84.5L43.93 86.5L43.81 89.5L43.5 92.28L43 94.05L42.5 94.52ZM70.5 86.54L68.5 86.75L66 86.82L63.5 86.68L61.5 86.41L59.73 86L58.37 85.5L57.5 84.97L57.06 84.5L56.93 84L57.12 83.5L57.65 83L58.58 82.5L60 82.03L63 81.5L66.5 81.33L70 81.54L73 82.1L74.32 82.5L75.41 83L76.06 83.5L76.32 84L76.19 84.5L75.65 85L74.69 85.5L73 86.05L70.5 86.54ZM107 144.58L104.5 144.91L102.5 144.81L101 144.51L99.5 144.02L99.05 143.5L99.67 143L102.14 142L102.9 141.5L102.93 141L102.5 140.25L102 139.08L101.63 137.5L101.44 135.5L101.47 133L101.91 129L102.5 126.12L103 124.72L103.5 123.97L104 123.73L104.5 123.97L105 124.72L105.5 126.12L106.09 129L106.5 132.5L106.58 135L106.37 137.5L106 139.08L105.5 140.25L105.07 141L105.12 141.5L105.94 142L108.74 143L109.5 143.5L109.05 144L107 144.58ZM42.5 94.04L42 93.49L41.52 91.5L41.32 89.5L41.25 87L41.33 85L41.53 83.5L42 81.95L42.5 81.47L43 81.82L43.5 83.15L43.72 84.5L43.83 86.5L43.74 89L43.5 91.5L43 93.53L42.5 94.04ZM67 86.51L64 86.41L61 85.94L59.57 85.5L58.59 85L58.07 84.5L57.92 84L58.13 83.5L58.73 83L59.82 82.5L60.5 82.3L63 81.82L66.5 81.62L70 81.87L72.5 82.38L74.15 83L74.84 83.5L75.1 84L74.95 84.5L74.38 85L73 85.6L70.5 86.19L67 86.51ZM104.5 140.71L104 140.89L103.5 140.71L103 140.22L102.5 139.41L101.92 137.5L101.69 135L101.85 131.5L102.5 127.57L103 125.98L103.5 125.13L104 124.86L104.5 125.13L105 125.98L105.5 127.57L106.03 130.5L106.31 134L106.27 136L105.97 138L105.45 139.5L105 140.22L104.5 140.71ZM106.5 144.59L104.5 144.83L102.5 144.72L101 144.41L99.79 144L99.36 143.5L100 142.99L103.5 141.59L104 141.53L104.5 141.58L105.47 142L108.4 143L109.16 143.5L108.69 144L106.5 144.59ZM42.5 93.5L42 92.87L41.68 91.5L41.44 89.5L41.36 87L41.45 85L41.7 83.5L42 82.47L42.5 81.93L43 82.32L43.4 83.5L43.64 85L43.71 86.5L43.63 89L43.43 91L43 92.92L42.5 93.5ZM68.5 86.05L67 86.14L65 86.11L63.5 85.98L62 85.71L61.13 85.5L59.91 85L59.29 84.5L59.11 84L59.36 83.5L60 83.05L61.46 82.5L64 82.08L66.5 81.97L69 82.12L71.18 82.5L72.66 83L73.44 83.5L73.73 84L73.55 84.5L72.89 85L72.5 85.16L71 85.65L68.5 86.05ZM104.5 139.83L104 139.99L103.5 139.83L103 139.32L102.82 139L102.5 138.3L102.28 137.5L101.99 135L102.07 132.5L102.5 129.39L103.01 127.5L103.5 126.53L104 126.22L104.5 126.53L105 127.51L105.14 128L105.69 130.5L106 133.5L105.99 135.5L105.72 137.5L105.5 138.3L105.18 139L105 139.32L104.5 139.83ZM106 144.58L104 144.74L102.5 144.62L101.5 144.42L100.15 144L99.71 143.5L100.33 143L101 142.73L102.5 142.19L104 141.9L105.5 142.16L107 142.64L108.03 143L108.78 143.5L108.3 144L106 144.58ZM42.5 92.95L42 92.24L41.83 91.5L41.55 89.5L41.46 87.5L41.53 85.5L41.74 84L42 83L42.5 82.4L43 82.82L43.35 84L43.52 85L43.6 87L43.5 89.24L43.27 91L43 92.29L42.5 92.95ZM69 85.57L66 85.75L63.17 85.5L61.4 85L60.61 84.5L60.39 84L60.7 83.5L61.61 83L62 82.88L64 82.47L66.5 82.35L68.79 82.5L71 83L71.98 83.5L72.31 84L72.09 84.5L71.27 85L69 85.57ZM104 139.16L103.5 138.97L103 138.32L102.86 138L102.45 136.5L102.31 134.5L102.5 131.56L102.92 129.5L103.5 128L104 127.64L104.5 128L105.08 129.5L105.5 131.56L105.69 134.5L105.55 136.5L105.14 138L105 138.32L104.5 138.97L104 139.16ZM105.5 144.56L103.5 144.63L102 144.43L100.5 144L100.03 143.5L100.66 143L101.5 142.67L103 142.22L104 142.11L105 142.2L106.5 142.61L107.68 143L108.43 143.5L107.92 144L105.5 144.56ZM42.5 92.4L42 91.6L41.88 91L41.68 89.5L41.58 87.5L41.66 85.5L41.89 84L42 83.54L42.5 82.86L43 83.34L43.19 84L43.43 85.5L43.49 87L43.39 89L43.13 91L43 91.65L42.5 92.4ZM69 85.06L66.5 85.31L64 85.13L63.31 85L62.13 84.5L61.84 84L62.25 83.5L63.67 83L65 82.83L66.5 82.78L69 83.03L70.34 83.5L70.77 84L70.48 84.5L69 85.06ZM104 138.24L103.5 138L103 137.07L102.77 136L102.65 134.5L102.71 133L103 131L103.5 129.55L104 129.13L104.5 129.55L105 131L105.29 133L105.35 134.5L105.23 136L105 137.07L104.5 138L104 138.24ZM105 144.52L103.5 144.54L102 144.33L100.82 144L100.33 143.5L100.97 143L101.5 142.8L103 142.37L104 142.25L105 142.34L106.5 142.72L107.35 143L108.1 143.5L107.57 144L106.5 144.29L105 144.52ZM42.5 91.75L42 90.79L41.78 89L41.71 87.5L41.76 86L41.95 84.5L42 84.23L42.5 83.4L43.01 84L43.27 85.5L43.34 87L43.25 89L43 90.86L42.5 91.75ZM67 84.56L65.03 84.5L64.27 84L65.5 83.5L66.5 83.47L67.5 83.64L68.26 84L67.5 84.5L67 84.56ZM104 136.89L103.5 136.45L103.25 135.5L103.15 134.5L103.18 133.5L103.43 132L103.5 131.73L104 131.11L104.5 131.73L104.57 132L104.82 133.5L104.85 134.5L104.75 135.5L104.5 136.45L104 136.89ZM107 144.05L105 144.42L103.5 144.44L102.5 144.32L101.2 144L100.66 143.5L101.33 143L102 142.76L103.5 142.44L104.5 142.43L105.5 142.59L106.98 143L107.75 143.5L107.18 144L107 144.05Z" fill="none" stroke="#111" stroke-width="0.5"/>
<path d="M46 85L100 85" stroke="#eee" stroke-width="0.45" stroke-dasharray="1.2 0.9"/>
<path d="M103.8 113L103.8 142" stroke="#eee" stroke-width="0.45" stroke-dasharray="1.2 0.9"/>
</g>
<rect x="41" y="56" width="88" height="88" fill="none" stroke="#555" stroke-width="0.8"/>
<path d="M38.4 65.8L41 65.8" stroke="#222" stroke-width="0.9"/>
<text x="22.9" y="69.05" font-size="9.1" stroke="#222" stroke-width="0.22" textLength="8.7" lengthAdjust="spacingAndGlyphs">10</text>
<text x="31.8" y="65.15" font-size="5.9" stroke="#222" stroke-width="0.22" textLength="3.1" lengthAdjust="spacingAndGlyphs">5</text>
<path d="M38.4 85.3L41 85.3" stroke="#222" stroke-width="0.9"/>
<text x="22.9" y="88.55" font-size="9.1" stroke="#222" stroke-width="0.22" textLength="8.7" lengthAdjust="spacingAndGlyphs">10</text>
<text x="31.8" y="84.65" font-size="5.9" stroke="#222" stroke-width="0.22" textLength="3.1" lengthAdjust="spacingAndGlyphs">4</text>
<path d="M38.4 104.4L41 104.4" stroke="#222" stroke-width="0.9"/>
<text x="22.9" y="107.65" font-size="9.1" stroke="#222" stroke-width="0.22" textLength="8.7" lengthAdjust="spacingAndGlyphs">10</text>
<text x="31.8" y="103.75" font-size="5.9" stroke="#222" stroke-width="0.22" textLength="3.1" lengthAdjust="spacingAndGlyphs">3</text>
<path d="M38.4 124.5L41 124.5" stroke="#222" stroke-width="0.9"/>
<text x="22.9" y="127.75" font-size="9.1" stroke="#222" stroke-width="0.22" textLength="8.7" lengthAdjust="spacingAndGlyphs">10</text>
<text x="31.8" y="123.85" font-size="5.9" stroke="#222" stroke-width="0.22" textLength="3.1" lengthAdjust="spacingAndGlyphs">2</text>
<path d="M38.4 139.4L41 139.4" stroke="#222" stroke-width="0.9"/>
<text x="35.4" y="142.65" font-size="9.1" stroke="#222" stroke-width="0.22" text-anchor="end" textLength="4.4" lengthAdjust="spacingAndGlyphs">0</text>
<path d="M39.6 118.6h1.4M39.6 115.15h1.4M39.6 112.7h1.4M39.6 110.8h1.4M39.6 109.25h1.4M39.6 107.94h1.4M39.6 106.8h1.4M39.6 105.8h1.4M39.6 98.5h1.4M39.6 95.05h1.4M39.6 92.6h1.4M39.6 90.7h1.4M39.6 89.15h1.4M39.6 87.84h1.4M39.6 86.7h1.4M39.6 85.7h1.4M39.6 79.4h1.4M39.6 75.95h1.4M39.6 73.5h1.4M39.6 71.6h1.4M39.6 70.05h1.4M39.6 68.74h1.4M39.6 67.6h1.4M39.6 66.6h1.4M39.6 127.4h1.4M39.6 130.3h1.4M39.6 133.2h1.4M39.6 136.1h1.4M39.6 139h1.4" stroke="#333" stroke-width="0.6"/>
<text x="45.2" y="158.1" font-size="9.1" stroke="#222" stroke-width="0.22" text-anchor="middle" textLength="4.4" lengthAdjust="spacingAndGlyphs">0</text>
<path d="M45.2 144L45.2 146.6" stroke="#222" stroke-width="0.9"/>
<text x="55.2" y="158.1" font-size="9.1" stroke="#222" stroke-width="0.22" textLength="8.7" lengthAdjust="spacingAndGlyphs">10</text>
<text x="64.1" y="154.2" font-size="5.9" stroke="#222" stroke-width="0.22" textLength="3.1" lengthAdjust="spacingAndGlyphs">2</text>
<path d="M61.4 144L61.4 146.6" stroke="#222" stroke-width="0.9"/>
<text x="76" y="158.1" font-size="9.1" stroke="#222" stroke-width="0.22" textLength="8.7" lengthAdjust="spacingAndGlyphs">10</text>
<text x="84.9" y="154.2" font-size="5.9" stroke="#222" stroke-width="0.22" textLength="3.1" lengthAdjust="spacingAndGlyphs">3</text>
<path d="M82.2 144L82.2 146.6" stroke="#222" stroke-width="0.9"/>
<text x="96.2" y="158.1" font-size="9.1" stroke="#222" stroke-width="0.22" textLength="8.7" lengthAdjust="spacingAndGlyphs">10</text>
<text x="105.1" y="154.2" font-size="5.9" stroke="#222" stroke-width="0.22" textLength="3.1" lengthAdjust="spacingAndGlyphs">4</text>
<path d="M102.4 144L102.4 146.6" stroke="#222" stroke-width="0.9"/>
<text x="114.8" y="158.1" font-size="9.1" stroke="#222" stroke-width="0.22" textLength="8.7" lengthAdjust="spacingAndGlyphs">10</text>
<text x="123.7" y="154.2" font-size="5.9" stroke="#222" stroke-width="0.22" textLength="3.1" lengthAdjust="spacingAndGlyphs">5</text>
<path d="M121 144L121 146.6" stroke="#222" stroke-width="0.9"/>
<path d="M67.48 144v1.4M71.04 144v1.4M73.56 144v1.4M75.52 144v1.4M77.12 144v1.4M78.47 144v1.4M79.64 144v1.4M80.68 144v1.4M88.28 144v1.4M91.84 144v1.4M94.36 144v1.4M96.32 144v1.4M97.92 144v1.4M99.27 144v1.4M100.44 144v1.4M101.48 144v1.4M108.48 144v1.4M112.04 144v1.4M114.56 144v1.4M116.52 144v1.4M118.12 144v1.4M119.47 144v1.4M120.64 144v1.4M121.68 144v1.4M48 144v1.4M50.8 144v1.4M53.6 144v1.4M56.4 144v1.4M59.2 144v1.4" stroke="#333" stroke-width="0.6"/>
<text x="86.5" y="171.2" font-size="10.5" stroke="#222" stroke-width="0.22" text-anchor="middle" textLength="46" lengthAdjust="spacingAndGlyphs">Mouse CD45</text>
<text x="16.7" y="101.7" font-size="10.4" stroke="#222" stroke-width="0.22" text-anchor="middle" textLength="49.5" lengthAdjust="spacingAndGlyphs" transform="rotate(-90 16.7 101.7)">Human CD45</text>
<path d="M41.5 103L41.5 67.3L46 61.5L91.3 59.2L120.7 66.7L122.5 78.3L95.8 102.8L59.8 106.5L41.5 103" stroke="#5a66f0" stroke-width="0.8" fill="none" stroke-linejoin="round"/>
<path d="M88.3 144L88.3 115.4L93.7 108.4L104.9 98.9L111.8 97L122.6 103.7L123.9 105.8L126.5 128.3L124.8 144" stroke="#5a66f0" stroke-width="0.8" fill="none" stroke-linejoin="round"/>
<text x="57.8" y="115.2" font-size="7.2" stroke="#4450ee" stroke-width="0.12" fill="#4450ee" textLength="12.1" lengthAdjust="spacingAndGlyphs">62.5</text>
<text x="72.9" y="135.9" font-size="7.2" stroke="#4450ee" stroke-width="0.12" fill="#4450ee" textLength="12.1" lengthAdjust="spacingAndGlyphs">36.5</text>
<clipPath id="c2"><rect x="166.9" y="55.5" width="88.8" height="88"/></clipPath>
<g clip-path="url(#c2)">
<path d="M168.75 56.5h0m85.5 2.5h0m-86 1h0m2 1h0m62 .25h0m-57.75 .5h0m62.25 1h0m-67.75 .25h0m63.5 0h0m-23.25 .25h0m-3 .5h0m5.75 .5h0m-44.5 .75h0m35.75 0h0m-22.75 .5h0m42.75 0h0m-52.75 .5h0m-.75 .25h0m14.75 0h0m-15.5 .25h0m2.25 .25h0m2.25 0h0m-3.5 .25h0m24.75 0h0m13.5 0h0m-35.5 .25h0m47.25 0h0m-38.25 .25h0m28.5 0h0m14.75 0h0m11.5 0h0m-67 .25h0m1.75 .25h0m48 0h0m-44.75 .25h0m19.25 .25h0m10 0h0m17.75 0h0m3 0h0m-20 .5h0m16.25 0h0m-53.5 .25h0m9 0h0m22.5 0h0m-28 .25h0m8.25 0h0m44.5 0h0m-41.75 .25h0m24.75 0h0m39.75 0h0m-76.75 .25h0m29.5 0h0m5.25 0h0m7.25 0h0m12.5 0h0m6.5 0h0m-62.5 .25h0m38.75 0h0m3 0h0m11 0h0m-53.25 .25h0m14.75 0h0m-14 .25h0m.25 0h0m.25 0h0m.75 0h0m13.25 0h0m1.25 0h0m45.25 0h0m-61 .25h0m3.5 0h0m12.25 0h0m11.75 0h0m10.25 0h0m16.75 0h0m-51 .25h0m1 0h0m25 0h0m5 0h0m7.5 0h0m8.75 0h0m2.5 0h0m-42 .25h0m7.75 0h0m59 0h0m-79.25 .25h0m34 0h0m1 0h0m28 0h0m-53.25 .25h0m11 0h0m2.5 0h0m8.5 0h0m24 0h0m6 0h0m8.5 0h0m-67.5 .25h0m7 0h0m25.5 0h0m2.5 0h0m11.75 0h0m-40.25 .25h0m11 0h0m17.5 0h0m3.5 0h0m.75 0h0m3 0h0m15.75 0h0m-56.75 .25h0m5.25 0h0m10.25 0h0m13.5 0h0m17.75 0h0m13 0h0m-57.75 .25h0m28 0h0m11.25 0h0m6.75 0h0m2.25 0h0m-48.75 .25h0m10 0h0m19.5 0h0m16.25 0h0m-46.75 .25h0m7.5 0h0m13 0h0m21.25 0h0m4.5 0h0m20.75 0h0m-61.75 .25h0m9.25 0h0m2.75 0h0m7.25 0h0m1 0h0m26 0h0m9.5 0h0m-61.75 .25h0m3.25 0h0m14 0h0m3.75 0h0m8.25 0h0m1 0h0m3.5 0h0m6.25 0h0m7 0h0m1.75 0h0m1.25 0h0m13.25 0h0m.75 0h0m-57.5 .25h0m8.5 0h0m5.75 0h0m5.75 0h0m-25 .25h0m.5 0h0m7.75 0h0m2 0h0m3.5 0h0m1.5 0h0m2 0h0m2.5 0h0m1.25 0h0m.5 0h0m1.75 0h0m.75 0h0m1 0h0m1.75 0h0m2.25 0h0m4 0h0m19.5 0h0m9.75 0h0m4.25 0h0m-64.75 .25h0m1.25 0h0m2.5 0h0m14.5 0h0m7.5 0h0m.25 0h0m.5 0h0m15.25 0h0m11.5 0h0m8.25 0h0m1 0h0m10 0h0m-66.25 .25h0m1 0h0m4.25 0h0m3.25 0h0m4.25 0h0m1.25 0h0m8.5 0h0m4.25 0h0m-29.25 .25h0m6.75 0h0m1.75 0h0m1.25 0h0m10 0h0m5.5 0h0m12.25 0h0m1.5 0h0m3.5 0h0m9.25 0h0m.25 0h0m-51.75 .25h0m.25 0h0m21.5 0h0m3.5 0h0m5.25 0h0m2 0h0m1.5 0h0m9.75 0h0m12.5 0h0m.25 0h0m2 0h0m3.25 0h0m8 0h0m-74.5 .25h0m6 0h0m24.75 0h0m.5 0h0m.75 0h0m1.25 0h0m5 0h0m5.5 0h0m.75 0h0m3.25 0h0m.75 0h0m-49.75 .25h0m4.5 0h0m33.5 0h0m15.75 0h0m11.75 0h0m16.25 0h0m-81.75 .25h0m46 0h0m2.75 0h0m1.75 0h0m1 0h0m15.5 0h0m3.5 0h0m-30.25 .25h0m2.25 0h0m4.5 0h0m6.5 0h0m.5 0h0m13.75 0h0m-23 .25h0m2 0h0m-2.5 .25h0m9 0h0m.5 0h0m23.5 0h0m2.5 0h0m-34 .25h0m.75 0h0m1 0h0m4.75 0h0m2 0h0m.25 0h0m11.75 0h0m-17.75 .25h0m2 0h0m1 0h0m2 0h0m3.25 .25h0m3 0h0m1 0h0m-8.75 .25h0m.5 0h0m9 0h0m2.5 0h0m3.5 0h0m4.75 0h0m-14 .25h0m2.5 0h0m2.25 0h0m3.25 0h0m.25 0h0m2.75 0h0m5.75 0h0m-19.25 .25h0m2 0h0m.75 0h0m7.25 0h0m.25 0h0m-13.25 .25h0m.75 0h0m2 0h0m-2 .25h0m8.75 0h0m.25 0h0m-2.5 .25h0m1.5 0h0m.75 0h0m7 0h0m-13.75 .25h0m.25 0h0m.25 0h0m9.25 0h0m1.75 0h0m4.25 0h0m-11.25 .25h0m1.25 0h0m-4 .25h0m6 0h0m-3.75 .25h0m1.75 0h0m2 0h0m2.25 0h0m10.5 0h0m.75 0h0m-17 .25h0m1.25 0h0m.75 0h0m5.25 0h0m14 .25h0m-18.5 .25h0m.25 0h0m17.25 0h0m-20.25 .25h0m1.75 0h0m20.75 0h0m.5 0h0m-20 .25h0m1.75 0h0m5.25 0h0m11.75 0h0m-21 .25h0m16.75 0h0m-8.25 .25h0m1 0h0m3.25 0h0m6 0h0m-12 .5h0m-5.5 .25h0m.75 0h0m1.25 0h0m2.75 0h0m3.75 0h0m4.75 .25h0m-7.25 .25h0m-2.75 .25h0m8 0h0m4.25 0h0m-11.5 .5h0m1.75 0h0m1 0h0m.25 0h0m3 0h0m8 0h0m1.5 0h0m-18.25 .25h0m1.5 0h0m4.25 0h0m2 0h0m-6.5 .25h0m2.75 0h0m13 0h0m.25 0h0m-13.5 .5h0m-2.25 .25h0m1 0h0m8.25 0h0m-9 .25h0m2.75 .25h0m13.5 0h0m-11 .5h0m-5.25 .25h0m.75 0h0m-2.5 .25h0m5.5 0h0m4.5 0h0m3.75 0h0m-8 .25h0m2.25 0h0m-8.25 .25h0m.5 .25h0m1.25 0h0m.75 0h0m.25 0h0m.25 0h0m10.5 0h0m-11.75 .25h0m.75 0h0m.5 0h0m-.25 .5h0m-3.25 .25h0m4.5 0h0m2.75 0h0m-1.75 .5h0m-5.5 .25h0m5.25 0h0m7 0h0m-10.75 .25h0m-2 .25h0m2.25 0h0m3 .25h0m.5 0h0m1.75 0h0m-9.5 .25h0m2.25 0h0m7.75 0h0m4 0h0m2.5 0h0m-14.75 .25h0m3.5 0h0m1.25 0h0m-9.25 .25h0m8.5 0h0m14.5 0h0m-23.25 .25h0m2.25 0h0m8.75 0h0m-11.25 .25h0m5.25 0h0m3.75 0h0m-8.25 .25h0m.25 0h0m4.25 0h0m6.5 0h0m-8 .25h0m-10.25 .25h0m.25 0h0m.5 0h0m.75 0h0m-2.75 .25h0m8.75 0h0m1.75 0h0m5.5 0h0m-7 .25h0m12.25 0h0m-24.25 .25h0m-.25 .25h0m.25 0h0m5.5 0h0m3.75 .25h0m5.25 0h0m.5 0h0m1.25 0h0m1.75 0h0m-13.75 .25h0m6.5 0h0m4 0h0m-13 .25h0m10.5 0h0m4.75 0h0m4.25 0h0m-25 .25h0m8 0h0m1.25 0h0m14 0h0m.25 0h0m.5 0h0m-12.25 .25h0m2.25 0h0m.5 0h0m10 0h0m-20.5 .25h0m3.75 0h0m1 0h0m5 0h0m4.5 0h0m21.75 0h0m-37.75 .25h0m2.25 0h0m3.25 0h0m1.75 0h0m5.75 0h0m1.5 0h0m-15.25 .25h0m19 0h0m-25.5 .25h0m3.75 0h0m1.75 0h0m9.75 0h0m6.5 0h0m3.5 0h0m8.5 0h0m-30.5 .25h0m15.75 0h0m1.75 0h0m-15.25 .25h0m2.25 0h0m2.75 0h0m10.5 0h0m-22 .25h0m3.75 0h0m4 0h0m9.25 0h0m5.25 0h0m-18 .25h0m.5 0h0m15 0h0m1.5 0h0m5 0h0m11.75 0h0m7.5 0h0m-45 .25h0m4.75 0h0m17 0h0m.25 0h0m-58.25 .25h0m30.5 0h0m1.75 0h0m1 0h0m6.25 0h0m28.75 0h0m-36.75 .25h0m3 0h0m1.75 0h0m20 0h0m-26 .25h0m3.75 0h0m5 0h0m18.75 0h0m3.75 0h0m.5 0h0m-61.5 .25h0m.5 0h0m1 0h0m.5 0h0m23.25 0h0m.5 0h0m8.75 0h0m12.25 0h0m10 0h0m1.75 0h0m5.75 0h0m-64.75 .25h0m4 0h0m.25 0h0m1 0h0m20 0h0m36.5 0h0m-61.25 .25h0m1 0h0m2.5 0h0m17.75 0h0m2.5 0h0m7.5 0h0m20 0h0m6.25 0h0m-58.75 .25h0m4.25 0h0m5.25 0h0m.75 0h0m3.25 0h0m6.75 0h0m3.25 0h0m11.75 0h0m15.25 0h0m-43.75 .25h0m.25 0h0m1.25 0h0m9.5 0h0m4.25 0h0m5 0h0m.75 0h0m7.75 0h0m2.5 0h0m6.5 0h0m14 0h0m2.5 0h0m11 0h0m-71.75 .25h0m3 0h0m8.75 0h0m.5 0h0m2.5 0h0m3.5 0h0m5 0h0m6.25 0h0m-29.75 .25h0m7.75 0h0m10.75 0h0m10.25 0h0m14.25 0h0m15 0h0m9.75 0h0m-63.5 .25h0m.5 0h0m5.25 0h0m1.75 0h0m2.75 0h0m7.25 0h0m34.25 0h0m-46.75 .25h0m4 0h0m3 0h0m5.25 0h0m6.5 0h0m3 0h0m17.5 0h0m12.25 0h0m2.25 0h0m3.5 0h0m2 0h0m-63.75 .25h0m2.75 0h0m1 0h0m13.5 0h0m18.75 0h0m6.75 0h0m7 0h0m1.25 0h0m10.25 0h0m-32.5 .25h0m20 0h0m4.25 0h0m1 0h0m6.5 0h0m-60.75 .25h0m1 0h0m8.75 0h0m41.25 0h0m10.5 0h0m-65.25 .25h0m5.5 0h0m49 0h0m3 0h0m.5 0h0m4 0h0m-26.25 .25h0m22 0h0m.25 0h0m-19.5 .25h0m21 0h0m6.75 0h0m-67 .25h0m26.5 0h0m30 0h0m1.25 0h0m4 0h0m-59 .25h0m7.25 0h0m18.75 0h0m20.75 0h0m2.75 0h0m.25 0h0m7.75 0h0m2.75 0h0m-62.5 .25h0m17.75 0h0m29.5 0h0m1.5 0h0m6.25 0h0m5 0h0m2 0h0m6.75 0h0m1 0h0m-47.5 .25h0m.25 0h0m2.25 0h0m22.75 0h0m6 0h0m-52.75 .25h0m36.75 0h0m17.75 0h0m-47 .25h0m3.25 0h0m-13.25 .25h0m16.75 0h0m1 0h0m1 0h0m-17.75 .25h0m42.25 0h0m4.25 0h0m-21.75 .25h0m28 0h0m20 0h0m-35.75 .25h0m1 0h0m26.5 0h0m-11.25 .25h0m2.25 0h0m-57 .25h0m19.75 0h0m51 0h0m-14 .25h0m16.25 0h0m5.25 0h0m-80.25 .5h0m2 0h0m5.5 0h0m43.25 0h0m1.75 0h0m4.25 0h0m11.25 0h0m-41 .25h0m39.75 0h0m-23.25 .25h0m25.75 0h0m-2.5 .5h0m5 0h0m-68.75 .25h0m18.25 0h0m29.75 0h0m2 0h0m15.25 0h0m2 0h0m14.75 0h0m-83.5 .25h0m68.25 0h0m-69.25 .25h0m57 0h0m9.5 0h0m.75 0h0m1.75 0h0m2.5 0h0m.25 0h0m-69.75 .5h0m1.5 0h0m52.75 0h0m11 0h0m18.25 0h0m-31 .25h0m2.25 0h0m-4.25 .25h0m1.5 0h0m12.5 0h0m2 0h0m-69.25 .25h0m1.5 0h0m72.5 0h0m-27.75 .25h0m11.25 0h0m-2.25 .25h0m19.75 0h0m-48 .25h0m28.25 0h0m-18.75 .25h0m13.25 0h0m5.5 0h0m1.25 0h0m15 0h0m-17 .25h0m.25 0h0m14.5 0h0m-17 .25h0m.25 0h0m32.5 0h0m-12.5 .25h0m.75 0h0m6.25 0h0m-73.75 .25h0m63.5 0h0m3.75 0h0m-21.75 .25h0m4.25 0h0m14.75 0h0m13.75 0h0m-13.25 .5h0m0 .25h0m5.25 0h0m.25 0h0m7 .25h0m-26.5 .25h0m13.75 0h0m-70.25 .25h0m.5 .25h0m70.75 .25h0m2.75 0h0m-44 .25h0m15.75 0h0m3.25 .25h0m5 0h0m1.5 0h0m14.25 0h0m-37.25 .25h0m23.5 .25h0m19.5 0h0m-72.75 .25h0m46.75 0h0m24.75 0h0m-32.25 .25h0m-40.75 .25h0m46.25 0h0m5 .25h0m26.75 0h0m-10.25 .25h0m-17.25 .25h0m18.75 0h0m-20.5 .25h0m4.25 0h0m.5 0h0m.75 0h0m13.25 0h0m.25 0h0m-30.5 .25h0m16.5 0h0m14 0h0m3.5 0h0m-72.75 .25h0m1.75 0h0m79.5 0h0m-5 .5h0m-73 .5h0m52.75 0h0m16 0h0m-2.25 .25h0m-14 .25h0m.25 0h0m13.75 0h0m3.75 0h0m-44.5 .25h0m17.5 0h0m35.25 0h0m-28.5 .25h0m1 0h0m17.75 0h0m2.5 .25h0m-19.5 .25h0m14.5 0h0m-18.5 .25h0m25.25 0h0m3 0h0m-23.75 .25h0m14.5 0h0m-.25 .25h0m-18.5 .25h0m2 0h0m17 0h0m-15.25 .25h0m.75 0h0m14.75 0h0m-18 .25h0m.25 0h0m.5 0h0m1.75 0h0m-4.25 .25h0m.75 0h0m3.75 .25h0m-1.25 .25h0m16 0h0m3.5 0h0m7.5 0h0m-10.5 .25h0m4.75 0h0m-19.75 .25h0m-7.75 .25h0m23 .25h0m-18 .5h0m2.5 .25h0m16 0h0m-19 .25h0m23.75 0h0m-31.25 .5h0m9.5 0h0m16 0h0m.5 0h0m3.75 0h0m-21 .25h0m.25 0h0m18.75 0h0m-19.5 .25h0m2.25 0h0m-2.75 .25h0m27.5 0h0m6.25 0h0m-38.25 .25h0m22.25 0h0m-24.75 .25h0m1.5 0h0m27.75 0h0m-31 .25h0m6 0h0m4.5 0h0m15.75 .25h0m-37.5 .25h0m38.25 .25h0m9.5 0h0m-28.5 .25h0m2.75 0h0m18.5 0h0m-34.5 .25h0m10.75 0h0m.75 0h0m1 0h0m2.75 0h0m1.25 0h0m17.5 0h0m-19.25 .25h0m23 .25h0m-5.25 .25h0m.5 0h0m3.75 0h0m-26.75 .25h0m24.75 0h0m2 0h0m-4.5 .5h0m-34 .25h0m33.5 0h0m14.75 0h0m-30.75 .25h0m18.25 0h0m-18.75 .5h0m20 0h0m3 0h0m-1.25 .25h0m-27 .25h0m2.75 0h0m-11.25 .25h0m12.25 0h0m.5 0h0m18.75 0h0m0 .75h0m2.5 0h0m-28.5 .25h0m26.5 0h0m0 .25h0m1 0h0m5.25 0h0m.75 0h0m1.5 0h0m-30.75 .25h0m3.75 0h0m19 .25h0m2.75 0h0m3.25 0h0m-48.5 .25h0m24.75 0h0m-2.5 .25h0m19 .5h0m-18.75 .25h0m2 0h0m16.75 0h0m1.5 0h0m-18.75 .25h0m19 0h0m.25 0h0m0 .25h0m-21.25 .25h0m1.25 .25h0m19.25 0h0m2.75 .75h0m-25 .25h0m3.5 0h0m-6 .25h0m6.5 0h0m-1 .25h0m.75 0h0m24.75 0h0m-24.25 .25h0m-10.75 .25h0m10.25 0h0m20.75 0h0m-22.75 .25h0m2 .25h0m-4.75 .25h0m3.5 0h0m.5 0h0m22.25 0h0m-25 .5h0m20.75 0h0m-22 .25h0m2.25 0h0m-15 .25h0m35.25 .25h0m-23.25 .25h0m5.5 0h0m16.75 0h0m1.5 0h0m1 0h0m1.25 0h0m-3.75 .25h0m10.5 0h0m-34 .25h0m1.75 0h0m.25 0h0m-19.75 .5h0m17.25 0h0m5 0h0m19.75 0h0m12.5 0h0m-83.25 .25h0m44.5 .25h0m3.75 .25h0m3.25 0h0m19 0h0m4 0h0m-25.75 .25h0m1.75 .25h0m2.75 0h0m18.75 0h0m12.75 0h0m-31.75 .25h0m16.75 0h0m2.5 0h0m.25 0h0m2.75 0h0m-22.5 .25h0m24 0h0m9 0h0m-38.75 .25h0m4.5 0h0m20.75 0h0m.25 0h0m.25 0h0m-1.25 .25h0m-1 .25h0m-23.5 .25h0m1.75 0h0m1.25 0h0m1 0h0m22.75 0h0m.75 0h0m1.5 0h0m.25 0h0m-34 .25h0m6.25 0h0m.75 0h0m2 0h0m25.75 0h0m-36.25 .25h0m11 0h0m22 0h0m2.25 0h0m-39.75 .5h0m10 0h0m2.5 .25h0m30.75 0h0m-33 .25h0m1.25 0h0m38.25 0h0m-8 .25h0m-31 .25h0m30.75 0h0" stroke="#333" stroke-width=".55" stroke-linecap="square" transform="translate(.28 .28)"/>
<path d="M168.9 104.62L168.4 104.81L167.9 104.62L167.4 104.05L166.66 102.5L166.18 101L165.9 99.79L165.71 98L165.53 93L165.47 82L165.55 79L165.71 77L165.9 75.73L166.9 72.88L167.4 71.93L167.78 71.5L167.9 71.36L168.4 71.18L168.9 71.36L169.4 71.92L169.97 73L170.9 75.33L171.4 76.13L171.9 76.5L172.9 76.59L176.9 76.12L182.9 75.65L188.4 75.46L192.4 75.44L197.9 75.57L202.4 75.79L208.4 76.26L213.4 76.8L217.4 77.37L221.9 78.23L225.9 79.22L228.9 80.18L231.4 81.25L232.9 82.15L233.9 82.97L234.37 83.5L234.95 84.5L235.1 85L235.1 86L234.74 87L234.4 87.5L233.4 88.5L232.7 89L231.4 89.72L230.4 90.15L227.9 90.89L218.9 92.51L214.98 93.5L207.4 95.67L202.4 96.78L198.4 97.42L193.9 97.93L189.4 98.2L184.9 98.22L180.9 97.97L177.9 97.55L175.55 97L172.9 96.05L172.4 96.24L171.9 97.04L171.4 98.39L170.15 102.5L169.4 104.06L168.9 104.62ZM239.4 144.52L236.4 144.81L233.4 144.93L227.4 144.94L223.9 144.8L220.9 144.37L217.9 143.69L216.37 143L216.14 142.5L216.64 142L217.4 141.67L221.68 140.5L222.24 140L222.33 139.5L222.14 137L222.08 134.5L222.24 130L223.15 119L223.59 115.5L224.1 112.5L225.19 108L225.68 106.5L226.5 104.5L227.32 103L227.9 102.2L228.4 101.69L228.9 101.31L229.4 101.08L229.9 100.98L230.4 101.02L230.9 101.19L231.4 101.5L231.95 102L232.9 103.28L233.78 105L234.55 107L235.67 111L236.19 113.5L236.73 117L237.18 121L237.65 126.5L238 133L237.98 136L237.76 139.5L237.9 139.94L238.97 140.5L242.9 141.19L244.4 141.6L245.35 142L245.85 142.5L245.63 143L244.4 143.58L241.9 144.18L239.4 144.52Z" fill="#fff" fill-rule="evenodd"/>
<path d="M168.4 95.23L167.9 94.77L167.48 93.5L167.27 92.5L166.86 88.5L166.7 85L166.86 83L167.21 81.5L167.4 80.96L167.9 80.07L168.4 79.76L168.9 79.95L169.4 80.62L169.8 81.5L170.24 83L170.36 84.5L169.8 90.5L169.46 93L168.9 94.81L168.4 95.23ZM195.4 86.05L192.4 86.3L189.4 86.36L186.4 86.24L183.9 85.99L181.23 85.5L179.59 85L178.57 84.5L178.01 84L177.86 83.5L178.09 83L178.73 82.5L179.87 82L181.72 81.5L185.4 80.98L189.4 80.81L193.77 81L197.45 81.5L199.6 82L201.04 82.5L201.97 83L202.44 83.5L202.43 84L201.9 84.5L200.77 85L198.9 85.5L195.4 86.05ZM230.9 144.06L229.4 144.06L227.4 143.7L225.5 143L225.14 142.5L225.69 142L227.76 141L228.3 140.5L228.35 140L227.75 138L227.39 135.5L227.32 133L227.45 130.5L227.9 126.59L228.4 123.94L229.04 122L229.4 121.34L229.9 120.97L230.4 121.12L230.9 121.81L231.4 123.15L231.93 125.5L232.47 129.5L232.67 132.5L232.62 135.5L232.36 137.5L231.65 140L231.74 140.5L232.39 141L235.15 142L235.98 142.5L235.52 143L234.9 143.2L232.9 143.73L230.9 144.06Z" fill="#888" fill-rule="evenodd"/>
<path d="M168.4 94.26L167.9 93.73L167.4 91.78L167.1 89L166.93 85.5L167.04 83.5L167.35 82L167.9 80.79L168.4 80.44L168.9 80.65L169.45 81.5L169.91 83L170.08 84.5L169.98 86.5L169.4 91.89L168.9 93.77L168.4 94.26ZM193.4 85.53L191.4 85.66L188.9 85.7L186.9 85.61L184.9 85.39L182.85 85L181.4 84.5L180.66 84L180.46 83.5L180.75 83L181.61 82.5L183.27 82L186.4 81.55L189.4 81.43L192.4 81.55L195.74 82L197.6 82.5L198.65 83L199.09 83.5L198.97 84L197.9 84.61L196.4 85.06L193.4 85.53ZM232.9 143.52L230.9 143.85L228.9 143.8L227.51 143.5L226.4 143.11L226.15 143L225.77 142.5L226.31 142L228.61 141L229.4 140.56L229.68 140.5L229.84 140L229.4 139.71L228.9 139.03L228.4 137.86L228.01 136L227.85 133.5L228 130.5L228.4 127.47L229.02 125L229.4 124.1L229.9 123.63L230.4 123.82L230.9 124.71L231.4 126.44L231.91 129.5L232.15 133L232 136L231.55 138L230.9 139.34L230.4 139.91L230.05 140L230.42 140.5L231.52 141L234.4 142L235.2 142.5L234.73 143L232.9 143.52Z" fill="#444" fill-rule="evenodd"/>
<path d="M168.4 93.35L167.9 92.72L167.52 91L167.24 88.5L167.12 85.5L167.19 84L167.4 82.75L167.9 81.46L168.4 81.06L168.9 81.29L169.4 82.18L169.74 83.5L169.84 85L169.65 88L169.3 91L168.9 92.76L168.4 93.35ZM193.9 84.58L190.9 84.96L188.9 84.99L187.4 84.9L184.86 84.5L183.66 84L183.35 83.5L183.8 83L185.26 82.5L187.4 82.21L189.4 82.13L191.4 82.21L193.62 82.5L195.21 83L195.76 83.5L195.5 84L193.9 84.58ZM230.4 138.12L229.9 138.25L229.4 137.93L228.9 137L228.56 135.5L228.41 134L228.48 131.5L228.9 128.57L229.4 126.98L229.9 126.39L230.4 126.63L230.9 127.78L231.4 130.26L231.58 132.5L231.55 134.5L231.37 136L230.9 137.48L230.4 138.12ZM231.9 143.55L229.9 143.7L228.4 143.52L226.73 143L226.32 142.5L226.87 142L227.4 141.76L228.9 141.2L229.9 141.05L230.9 141.12L231.9 141.38L233.75 142L234.53 142.5L234.04 143L231.9 143.55Z" fill="#111" fill-rule="evenodd"/>
<path d="M168.9 104.62L168.4 104.81L167.9 104.62L167.4 104.05L166.66 102.5L166.18 101L165.9 99.79L165.71 98L165.53 93L165.47 82L165.55 79L165.71 77L165.9 75.73L166.9 72.88L167.4 71.93L167.78 71.5L167.9 71.36L168.4 71.18L168.9 71.36L169.4 71.92L169.97 73L170.9 75.33L171.4 76.13L171.9 76.5L172.9 76.59L176.9 76.12L182.9 75.65L188.4 75.46L192.4 75.44L197.9 75.57L202.4 75.79L208.4 76.26L213.4 76.8L217.4 77.37L221.9 78.23L225.9 79.22L228.9 80.18L231.4 81.25L232.9 82.15L233.9 82.97L234.37 83.5L234.95 84.5L235.1 85L235.1 86L234.74 87L234.4 87.5L233.4 88.5L232.7 89L231.4 89.72L230.4 90.15L227.9 90.89L218.9 92.51L214.98 93.5L207.4 95.67L202.4 96.78L198.4 97.42L193.9 97.93L189.4 98.2L184.9 98.22L180.9 97.97L177.9 97.55L175.55 97L172.9 96.05L172.4 96.24L171.9 97.04L171.4 98.39L170.15 102.5L169.4 104.06L168.9 104.62ZM239.4 144.52L236.4 144.81L233.4 144.93L227.4 144.94L223.9 144.8L220.9 144.37L217.9 143.69L216.37 143L216.14 142.5L216.64 142L217.4 141.67L221.68 140.5L222.24 140L222.33 139.5L222.14 137L222.08 134.5L222.24 130L223.15 119L223.59 115.5L224.1 112.5L225.19 108L225.68 106.5L226.5 104.5L227.32 103L227.9 102.2L228.4 101.69L228.9 101.31L229.4 101.08L229.9 100.98L230.4 101.02L230.9 101.19L231.4 101.5L231.95 102L232.9 103.28L233.78 105L234.55 107L235.67 111L236.19 113.5L236.73 117L237.18 121L237.65 126.5L238 133L237.98 136L237.76 139.5L237.9 139.94L238.97 140.5L242.9 141.19L244.4 141.6L245.35 142L245.85 142.5L245.63 143L244.4 143.58L241.9 144.18L239.4 144.52ZM168.4 102.7L167.9 102.48L167.4 101.85L167 101L166.5 99.5L165.95 97L165.69 93L165.53 84.5L165.61 80.5L165.9 77.78L166.74 75.5L167.4 74.1L167.9 73.49L168.4 73.28L168.9 73.48L169.4 74.07L170.9 77.11L171.4 77.67L171.9 77.91L172.9 77.91L177.4 77.29L181.9 76.89L185.9 76.68L189.9 76.61L194.4 76.67L198.4 76.85L203.4 77.23L208.4 77.76L212.9 78.38L217.4 79.19L220.4 79.9L223.9 80.91L226.84 82L228.77 83L230 84L230.38 84.5L230.61 85L230.71 85.5L230.66 86L230.46 86.5L229.9 87.18L229.4 87.6L228.4 88.17L226.4 88.9L223.9 89.46L217.66 90.5L212.61 91.5L208.78 92.5L203.4 94.15L200.4 94.89L196.9 95.51L193.4 95.91L189.9 96.07L186.94 96L184.4 95.73L182.4 95.3L180.9 94.69L179.98 94L178.84 92L178.26 91.5L177.3 91L174.12 90L172.9 89.79L172.4 89.88L171.9 90.53L171.19 96L170.63 98.5L170.19 100L169.4 101.86L168.9 102.48L168.4 102.7ZM236.4 144.58L234.4 144.79L231.4 144.9L227.4 144.87L224.9 144.7L223.63 144.5L219.74 143.5L218.58 143L218.32 142.5L218.92 142L219.4 141.81L222.26 141L222.9 140.7L223.3 140.5L223.59 140L223.38 135L223.52 130.5L224.26 121.5L224.65 118L225.11 115L226.01 111L227.09 108L227.9 106.53L228.4 105.88L228.9 105.43L229.4 105.14L229.9 105.02L230.4 105.07L230.9 105.28L231.4 105.66L231.9 106.21L232.69 107.5L233.71 110L234.74 114L235.18 116.5L235.64 120L236.53 130.5L236.68 135L236.41 139.5L236.48 140L236.97 140.5L238.79 141L240.9 141.36L242.4 141.76L243.06 142L243.67 142.5L243.39 143L241.9 143.59L236.4 144.58ZM168.9 101.28L168.4 101.49L167.9 101.28L167.4 100.58L166.78 99L166.29 97L165.89 94L165.61 86L165.65 81.5L165.9 78.92L166.83 76.5L167.4 75.3L167.9 74.66L168.4 74.45L168.9 74.64L169.4 75.25L170.9 78.06L171.4 78.55L171.9 78.74L172.9 78.7L176.4 78.13L180.4 77.68L184.4 77.4L187.9 77.28L191.9 77.28L195.9 77.42L200.4 77.71L204.9 78.17L209.4 78.76L212.9 79.32L216.4 80.04L219.4 80.83L222.86 82L225.11 83L226.63 84L227.1 84.5L227.38 85L227.46 85.5L227.34 86L226.9 86.58L226.36 87L225.4 87.48L223.86 88L219.9 88.85L207.18 91L204.91 91.5L197.9 93.4L195.4 93.84L193.4 94.05L190.4 94.06L188.4 93.78L187.4 93.5L186.9 93.26L184.44 91.5L183.24 91L179.37 90L173.4 88.78L172.4 88.73L171.9 89.04L171.4 90.42L170.78 96L170.21 98.5L169.45 100.5L168.9 101.28ZM235.4 144.56L233.4 144.77L230.4 144.86L227.4 144.81L225.4 144.63L224.6 144.5L220.9 143.44L219.84 143L219.55 142.5L220.19 142L223.29 141L224.08 140.5L224.31 140L224.03 135.5L224.14 131L224.79 123L225.16 119.5L225.61 116.5L226.51 112.5L227.4 110.02L227.9 109.04L228.4 108.3L228.9 107.78L229.4 107.46L229.9 107.32L230.4 107.38L230.9 107.62L231.4 108.05L231.9 108.69L232.4 109.55L233.02 111L233.52 112.5L234.32 116L235.09 121.5L235.82 130L236 135L235.75 140L236.1 140.5L236.9 140.82L237.4 141L240.9 141.73L241.74 142L242.41 142.5L242.12 143L240.77 143.5L235.4 144.56ZM168.4 100.63L167.9 100.39L167.33 99.5L166.67 97.5L166.28 95.5L165.9 91.66L165.66 84.5L165.71 82L165.9 79.8L166.77 77.5L167.4 76.15L167.9 75.5L168.4 75.27L168.9 75.48L169.4 76.08L170.9 78.75L171.4 79.21L171.9 79.38L172.4 79.39L175.9 78.75L179.4 78.28L186.4 77.79L189.9 77.74L193.9 77.81L201.4 78.35L205.9 78.89L210.9 79.67L213.9 80.26L216.9 81.02L219.85 82L222.11 83L223.66 84L224.14 84.5L224.39 85L224.4 85.5L224.13 86L223.4 86.56L222.48 87L221.4 87.36L218.4 88.1L214.9 88.76L211.4 89.28L198.9 90.88L195.4 91.21L192.9 91.2L189.4 90.8L179.4 89.22L173.05 88L172.4 87.96L171.9 88.19L171.4 89.06L171.09 91L170.68 95L170.04 98L169.4 99.69L168.9 100.4L168.4 100.63ZM234.9 144.51L232.9 144.74L230.4 144.82L227.9 144.77L225.9 144.6L225.29 144.5L221.4 143.28L220.74 143L220.44 142.5L221.09 142L223.96 141L224.63 140.5L224.82 140L224.51 136L224.57 131.5L225.21 123.5L225.98 117.5L226.75 114L227.63 111.5L228.4 110.1L228.9 109.52L229.4 109.17L229.9 109.02L230.4 109.08L230.9 109.34L231.4 109.82L232.15 111L233.13 113.5L233.65 115.5L234.04 117.5L234.76 123L235.47 132L235.52 135.5L235.23 140L235.5 140.5L236.56 141L240.4 141.88L240.76 142L241.49 142.5L241.17 143L239.9 143.45L234.9 144.51ZM168.9 99.55L168.4 99.8L167.9 99.54L167.3 98.5L166.7 96.5L166.14 92.5L165.74 85.5L165.77 82.5L165.97 80.5L166.69 78.5L167.4 76.94L167.9 76.27L168.4 76.05L168.9 76.24L169.4 76.84L170.9 79.44L171.4 79.89L171.9 80.06L172.4 80.04L175.9 79.31L178.9 78.85L184.9 78.32L188.4 78.21L191.9 78.22L195.4 78.36L198.9 78.62L203.4 79.13L207.4 79.73L210.9 80.37L213.9 81.07L216.4 81.82L218.13 82.5L219.95 83.5L220.56 84L220.94 84.5L221.07 85L220.9 85.5L220.39 86L219.49 86.5L218.13 87L215.4 87.69L212.4 88.23L208.9 88.66L196.9 89.68L193.9 89.78L191.4 89.75L184.9 89.28L177.9 88.32L172.4 87.23L171.9 87.38L171.4 88.04L170.9 90.34L170.57 94L170.14 96.5L169.52 98.5L168.9 99.55ZM233.9 144.55L231.9 144.73L229.9 144.77L227.9 144.71L225.96 144.5L221.9 143.14L221.59 143L221.28 142.5L221.94 142L224.57 141L225.16 140.5L225.31 140L224.97 136L224.99 132L225.57 124.5L226.17 119.5L226.85 116L227.27 114.5L227.82 113L228.4 111.89L228.9 111.25L229.4 110.85L229.9 110.69L230.4 110.76L230.9 111.05L231.4 111.59L231.96 112.5L232.4 113.5L232.9 115L233.68 118.5L234.12 121.5L234.49 125L235.03 132L235.05 136L234.73 140L234.95 140.5L235.83 141L239.8 142L240.6 142.5L240.25 143L239.4 143.3L233.9 144.55ZM168.4 99.04L167.9 98.77L167.4 97.9L166.96 96.5L166.64 95L166.28 92L165.9 87.36L165.81 84.5L165.9 81.78L166.24 80.5L166.77 79L167.4 77.63L167.9 76.96L168.4 76.71L168.9 76.91L169.4 77.51L170.9 80.09L171.4 80.56L171.9 80.74L172.4 80.71L175.4 79.94L177.9 79.47L183.4 78.84L186.4 78.67L189.9 78.62L193.4 78.69L196.9 78.91L200.4 79.25L204.4 79.8L208.4 80.52L211.9 81.32L214.15 82L216.46 83L217.23 83.5L217.76 84L218.03 84.5L218.01 85L217.67 85.5L216.96 86L215.4 86.63L212.9 87.25L210.4 87.66L206.9 88.06L196.4 88.91L190.4 88.99L184.9 88.68L178.9 87.94L175.9 87.37L172.9 86.59L172.4 86.52L171.9 86.62L171.4 87.18L170.9 88.87L170.28 94.5L169.74 97L169.4 97.96L168.9 98.79L168.4 99.04ZM233.4 144.53L229.9 144.72L226.58 144.5L222.33 143L222.01 142.5L222.66 142L225.09 141L225.63 140.5L225.75 140L225.37 136L225.36 132.5L225.73 127L226.48 120.5L227.15 117L227.9 114.61L228.4 113.56L228.9 112.84L229.4 112.4L229.9 112.23L230.4 112.3L230.9 112.62L231.4 113.22L231.9 114.13L232.4 115.4L232.86 117L233.54 120.5L234.19 126L234.66 132.5L234.65 136L234.27 140L234.46 140.5L235.23 141L238.94 142L239.79 142.5L239.41 143L238.9 143.18L233.4 144.53ZM168.9 98.12L168.4 98.4L167.9 98.1L167.4 97.17L167.05 96L166.54 93L165.89 85L165.98 82.5L166.64 80L167.4 78.21L167.9 77.52L168.4 77.27L168.9 77.47L169.4 78.06L170.9 80.7L171.4 81.23L171.9 81.43L172.4 81.38L174.9 80.58L176.9 80.1L179.4 79.66L182.4 79.3L185.4 79.08L188.9 78.98L192.4 79.03L195.4 79.18L199.4 79.56L202.9 80.04L206.9 80.78L209.97 81.5L212.4 82.27L214.08 83L214.84 83.5L215.32 84L215.5 84.5L215.35 85L214.9 85.44L213.9 85.99L212.3 86.5L210.4 86.9L207.4 87.33L202.9 87.81L197.9 88.25L194.4 88.43L190.9 88.48L187.9 88.41L184.9 88.22L181.9 87.91L177.4 87.19L175.4 86.72L172.4 85.81L171.9 85.87L171.4 86.39L170.9 87.84L170.01 95L169.48 97L168.9 98.12ZM232.9 144.51L229.9 144.66L227.16 144.5L222.94 143L222.61 142.5L223.25 142L225.54 141L226.04 140.5L226.14 140L225.82 137.5L225.68 135.5L225.69 132.5L226.07 127L226.64 122L227.27 118.5L227.9 116.25L228.4 115.07L228.9 114.26L229.4 113.78L229.9 113.58L230.4 113.66L230.9 114.02L231.4 114.69L231.9 115.7L232.63 118L233.29 121.5L233.98 127.5L234.32 132.5L234.3 136L233.9 140.09L234.04 140.5L234.73 141L238.22 142L239.1 142.5L238.7 143L238.4 143.1L232.9 144.51ZM168.4 97.77L167.9 97.45L167.43 96.5L166.92 94.5L166.58 92L166.03 84.5L166.18 82.5L166.69 80.5L167.4 78.76L167.9 78.05L168.4 77.79L168.9 77.99L169.4 78.58L170.9 81.36L171.4 82.04L171.9 82.35L172.4 82.26L173.94 81.5L175.9 80.83L177.9 80.35L180.4 79.92L183.4 79.58L186.4 79.39L189.4 79.33L192.4 79.38L195.9 79.59L198.9 79.9L201.9 80.34L205.35 81L208.4 81.77L210.59 82.5L211.66 83L212.42 83.5L212.85 84L212.93 84.5L212.63 85L211.86 85.5L210.48 86L208.4 86.46L204.4 87.05L199.4 87.6L195.9 87.88L192.4 88.02L189.4 88.02L185.9 87.87L180.4 87.27L176.4 86.45L174.4 85.81L172.4 84.91L171.9 84.92L171.4 85.49L170.9 86.91L170.49 89.5L170.08 93.5L169.56 96L168.9 97.47L168.4 97.77ZM231.9 144.54L229.9 144.61L227.78 144.5L223.9 143.17L223.5 143L223.17 142.5L223.79 142L225.97 141L226.44 140.5L226.53 140L226.04 136L226 133L226.23 129L226.81 123.5L227.38 120L228.05 117.5L228.4 116.58L228.9 115.68L229.4 115.14L229.9 114.93L230.4 115.02L230.9 115.42L231.4 116.16L231.78 117L232.52 119.5L233.06 122.5L233.65 127.5L234 132.5L233.97 136L233.49 140L233.63 140.5L234.27 141L237.54 142L238.43 142.5L238.02 143L237.4 143.2L232.4 144.49L231.9 144.54ZM168.4 97.24L167.9 96.89L167.48 96L166.98 94L166.61 91L166.19 84.5L166.37 82.5L166.88 80.5L167.55 79L167.9 78.5L168.4 78.23L168.9 78.42L169.68 79.5L171.15 82.5L171.43 83.5L171.34 84.5L170.9 86.04L170.55 88L170 93L169.64 95L169.4 95.88L168.9 96.92L168.4 97.24ZM195.4 87.51L191.4 87.67L187.4 87.6L183.4 87.3L179.9 86.8L177.4 86.26L175.1 85.5L174.1 85L173.43 84.5L173.02 84L172.91 83.5L173.09 83L173.56 82.5L174.31 82L175.9 81.32L178.4 80.64L180.9 80.2L183.9 79.86L186.9 79.68L190.4 79.64L193.9 79.76L196.9 80.02L199.9 80.4L203.18 81L205.9 81.66L208.46 82.5L209.53 83L210.25 83.5L210.61 84L210.58 84.5L210.09 85L209.02 85.5L207.19 86L201.9 86.86L195.4 87.51ZM231.4 144.52L228.9 144.53L227.9 144.38L224.4 143.19L223.96 143L223.62 142.5L224.23 142L226.33 141L226.79 140.5L226.87 140L226.54 138L226.33 136L226.27 133.5L226.47 129.5L226.99 124.5L227.55 121L228.21 118.5L228.9 116.95L229.4 116.35L229.9 116.11L230.4 116.21L230.9 116.65L231.61 118L232.35 120.5L232.95 124L233.5 129L233.73 133L233.64 136.5L233.14 140L233.27 140.5L233.88 141L236.98 142L237.87 142.5L237.45 143L236.9 143.18L232.4 144.34L231.4 144.52ZM168.4 96.72L167.9 96.36L167.73 96L167.4 95.17L167.04 93.5L166.68 90.5L166.34 85L166.45 83L166.89 81L167.5 79.5L167.9 78.91L168.4 78.63L168.9 78.82L169.05 79L169.4 79.43L169.97 80.5L170.78 82.5L171.02 84L170.4 88L170 92L169.7 94L169.4 95.25L169.09 96L168.9 96.39L168.4 96.72ZM196.9 87.01L192.9 87.28L188.9 87.32L184.9 87.11L181.4 86.69L178.4 86.08L176.4 85.45L175.43 85L174.7 84.5L174.29 84L174.17 83.5L174.35 83L174.83 82.5L175.64 82L176.84 81.5L178.9 80.93L181.4 80.47L184.4 80.13L187.4 79.96L190.4 79.93L193.9 80.07L196.9 80.35L199.9 80.78L202.4 81.28L205.09 82L206.47 82.5L207.49 83L208.15 83.5L208.42 84L208.25 84.5L207.55 85L206.21 85.5L204.11 86L201.9 86.39L196.9 87.01ZM230.4 144.51L228.9 144.44L226.4 143.77L224.38 143L224.04 142.5L224.62 142L226.68 141L227.14 140.5L227.21 140L226.64 136.5L226.53 134L226.66 130.5L227.09 126L227.71 122L228.35 119.5L228.9 118.21L229.4 117.54L229.9 117.28L230.4 117.39L230.9 117.88L231.47 119L232.19 121.5L232.85 125.5L233.31 130L233.47 133.5L233.31 137L232.8 140L232.92 140.5L233.51 141L236.47 142L237.36 142.5L236.92 143L235.9 143.32L231.9 144.32L230.4 144.51ZM168.4 96.23L167.9 95.84L167.4 94.55L167.17 93.5L166.75 90L166.47 85L166.58 83L167.05 81L167.4 80.09L167.9 79.29L168.4 79.01L168.9 79.2L169.4 79.82L169.76 80.5L170.54 82.5L170.76 84L170.71 85L169.65 93.5L169.4 94.64L169.07 95.5L168.9 95.87L168.4 96.23ZM190.9 87.01L187.9 86.97L184.9 86.79L182.4 86.49L179.73 86L177.94 85.5L176.72 85L175.9 84.47L175.48 84L175.35 83.5L175.54 83L175.9 82.65L176.9 82.03L178.3 81.5L179.9 81.09L182.4 80.65L184.9 80.38L187.4 80.24L190.4 80.21L193.4 80.33L196.4 80.61L199.06 81L201.47 81.5L203.27 82L204.63 82.5L205.61 83L206.19 83.5L206.36 84L206.05 84.5L205.18 85L203.67 85.5L201.4 86L196.4 86.7L190.9 87.01ZM232.4 144.05L230.4 144.38L228.9 144.3L226.9 143.8L225.4 143.28L224.76 143L224.42 142.5L224.99 142L227.02 141L227.49 140.5L227.55 140L227.04 137.5L226.79 134.5L226.85 131.5L227.19 127.5L227.76 123.5L228.4 120.74L228.9 119.46L229.4 118.73L229.9 118.43L230.4 118.55L230.81 119L231.4 120.14L232.15 123L232.76 127L233.13 131L233.22 134L233.04 137L232.46 140L232.57 140.5L233.16 141L236.01 142L236.89 142.5L236.44 143L234.77 143.5L232.4 144.05ZM168.4 95.73L167.9 95.31L167.43 94L167.22 93L166.82 89.5L166.58 85L166.72 83L167.05 81.5L167.4 80.52L167.69 80L167.9 79.68L168.4 79.39L168.9 79.58L169.24 80L170 81.5L170.42 83L170.54 84.5L169.81 91.5L169.51 93.5L168.9 95.35L168.4 95.73ZM194.4 86.52L190.9 86.68L187.9 86.65L184.9 86.45L181.9 86.05L179.5 85.5L178.11 85L177.21 84.5L176.72 84L176.58 83.5L176.79 83L177.36 82.5L178.35 82L180.4 81.38L182.37 81L184.4 80.74L186.9 80.56L189.4 80.5L194.4 80.73L196.75 81L198.9 81.37L201.45 82L202.82 82.5L203.76 83L204.28 83.5L204.35 84L203.92 84.5L202.4 85.17L201.26 85.5L198.75 86L194.4 86.52ZM231.9 144.03L230.9 144.2L229.9 144.25L228.4 144.04L226.9 143.67L225.4 143.12L225.13 143L224.78 142.5L225.34 142L227.37 141L227.86 140.5L227.93 140L227.33 137.5L227.08 135L227.09 132L227.31 129L227.83 125L228.4 122.27L228.9 120.82L229.4 119.99L229.9 119.66L230.4 119.8L230.9 120.41L231.4 121.58L232.09 124.5L232.65 128.5L232.92 132L232.93 135L232.67 137.5L232.08 140L232.18 140.5L232.78 141L235.57 142L236.42 142.5L235.98 143L233.9 143.6L231.9 144.03ZM168.4 95.23L167.9 94.77L167.48 93.5L167.27 92.5L166.86 88.5L166.7 85L166.86 83L167.21 81.5L167.4 80.96L167.9 80.07L168.4 79.76L168.9 79.95L169.4 80.62L169.8 81.5L170.24 83L170.36 84.5L169.8 90.5L169.46 93L168.9 94.81L168.4 95.23ZM195.4 86.05L192.4 86.3L189.4 86.36L186.4 86.24L183.9 85.99L181.23 85.5L179.59 85L178.57 84.5L178.01 84L177.86 83.5L178.09 83L178.73 82.5L179.87 82L181.72 81.5L185.4 80.98L189.4 80.81L193.77 81L197.45 81.5L199.6 82L201.04 82.5L201.97 83L202.44 83.5L202.43 84L201.9 84.5L200.77 85L198.9 85.5L195.4 86.05ZM230.9 144.06L229.4 144.06L227.4 143.7L225.5 143L225.14 142.5L225.69 142L227.76 141L228.3 140.5L228.35 140L227.75 138L227.39 135.5L227.32 133L227.45 130.5L227.9 126.59L228.4 123.94L229.04 122L229.4 121.34L229.9 120.97L230.4 121.12L230.9 121.81L231.4 123.15L231.93 125.5L232.47 129.5L232.67 132.5L232.62 135.5L232.36 137.5L231.65 140L231.74 140.5L232.39 141L235.15 142L235.98 142.5L235.52 143L234.9 143.2L232.9 143.73L230.9 144.06ZM168.4 94.77L167.9 94.28L167.39 92.5L167.03 89.5L166.81 85.5L166.91 83.5L167.2 82L167.4 81.36L167.9 80.41L168.4 80.08L168.9 80.28L169.4 80.99L169.63 81.5L170.09 83L170.22 84.5L170.11 86.5L169.43 92.5L168.9 94.32L168.4 94.77ZM191.9 86.01L187.4 86L185.4 85.84L183.03 85.5L181.03 85L179.86 84.5L179.23 84L179.06 83.5L179.31 83L180.04 82.5L181.9 81.86L183.69 81.5L185.4 81.29L189.4 81.1L193.4 81.28L196.9 81.79L199.44 82.5L200.4 83L200.84 83.5L200.78 84L200.15 84.5L198.87 85L195.9 85.62L191.9 86.01ZM233.4 143.51L230.9 143.95L228.9 143.9L227.4 143.59L226.4 143.25L225.81 143L225.45 142.5L225.99 142L228.13 141L228.77 140.5L228.83 140L228.07 138L227.7 136L227.57 134L227.63 131.5L227.9 128.62L228.41 125.5L228.97 123.5L229.4 122.61L229.9 122.2L230.4 122.37L230.9 123.15L231.4 124.66L231.9 127.16L232.34 131L232.44 133.5L232.3 136L231.9 138.15L231.17 140L231.27 140.5L232.01 141L234.78 142L235.6 142.5L235.14 143L233.4 143.51ZM168.4 94.26L167.9 93.73L167.4 91.78L167.1 89L166.93 85.5L167.04 83.5L167.35 82L167.9 80.79L168.4 80.44L168.9 80.65L169.45 81.5L169.91 83L170.08 84.5L169.98 86.5L169.4 91.89L168.9 93.77L168.4 94.26ZM193.4 85.53L191.4 85.66L188.9 85.7L186.9 85.61L184.9 85.39L182.85 85L181.4 84.5L180.66 84L180.46 83.5L180.75 83L181.61 82.5L183.27 82L186.4 81.55L189.4 81.43L192.4 81.55L195.74 82L197.6 82.5L198.65 83L199.09 83.5L198.97 84L197.9 84.61L196.4 85.06L193.4 85.53ZM232.9 143.52L230.9 143.85L228.9 143.8L227.51 143.5L226.4 143.11L226.15 143L225.77 142.5L226.31 142L228.61 141L229.4 140.56L229.68 140.5L229.84 140L229.4 139.71L228.9 139.03L228.4 137.86L228.01 136L227.85 133.5L228 130.5L228.4 127.47L229.02 125L229.4 124.1L229.9 123.63L230.4 123.82L230.9 124.71L231.4 126.44L231.91 129.5L232.15 133L232 136L231.55 138L230.9 139.34L230.4 139.91L230.05 140L230.42 140.5L231.52 141L234.4 142L235.2 142.5L234.73 143L232.9 143.52ZM168.4 93.82L167.9 93.25L167.4 91.07L167.11 88L167.02 85.5L167.14 83.5L167.4 82.26L167.9 81.12L168.4 80.74L168.9 80.96L169.49 82L169.87 83.5L169.96 85L169.8 87.5L169.4 91.2L168.9 93.28L168.4 93.82ZM194.4 85.01L192.4 85.25L189.9 85.38L187.9 85.33L185.9 85.16L184.8 85L182.9 84.5L182.01 84L181.77 83.5L182.12 83L183.17 82.5L183.9 82.31L186.4 81.89L189.4 81.75L192.4 81.89L194.9 82.27L195.88 82.5L197.08 83L197.55 83.5L197.36 84L196.46 84.5L194.4 85.01ZM230.4 139.01L229.9 139.12L229.4 138.85L228.9 138.13L228.38 136.5L228.12 134L228.22 131L228.64 128L228.9 126.81L229.4 125.45L229.9 124.93L230.4 125.14L230.9 126.14L231.13 127L231.61 129.5L231.88 132.5L231.83 135L231.5 137L230.9 138.49L230.4 139.01ZM232.4 143.54L230.4 143.79L228.9 143.71L227.88 143.5L226.43 143L226.04 142.5L226.58 142L226.9 141.85L228.4 141.21L229.9 140.78L230.4 140.81L233.4 141.76L234.08 142L234.87 142.5L234.39 143L232.4 143.54ZM168.4 93.35L167.9 92.72L167.52 91L167.24 88.5L167.12 85.5L167.19 84L167.4 82.75L167.9 81.46L168.4 81.06L168.9 81.29L169.4 82.18L169.74 83.5L169.84 85L169.65 88L169.3 91L168.9 92.76L168.4 93.35ZM193.9 84.58L190.9 84.96L188.9 84.99L187.4 84.9L184.86 84.5L183.66 84L183.35 83.5L183.8 83L185.26 82.5L187.4 82.21L189.4 82.13L191.4 82.21L193.62 82.5L195.21 83L195.76 83.5L195.5 84L193.9 84.58ZM230.4 138.12L229.9 138.25L229.4 137.93L228.9 137L228.56 135.5L228.41 134L228.48 131.5L228.9 128.57L229.4 126.98L229.9 126.39L230.4 126.63L230.9 127.78L231.4 130.26L231.58 132.5L231.55 134.5L231.37 136L230.9 137.48L230.4 138.12ZM231.9 143.55L229.9 143.7L228.4 143.52L226.73 143L226.32 142.5L226.87 142L227.4 141.76L228.9 141.2L229.9 141.05L230.9 141.12L231.9 141.38L233.75 142L234.53 142.5L234.04 143L231.9 143.55ZM168.4 92.82L167.9 92.12L167.58 90.5L167.31 88L167.22 85.5L167.31 84L167.49 83L167.9 81.86L168.4 81.42L168.9 81.67L169.4 82.68L169.66 84L169.72 85L169.59 87.5L169.24 90.5L168.9 92.16L168.4 92.82ZM192.4 84.1L190.4 84.4L188.4 84.39L186.17 84L185.65 83.5L186.43 83L187.4 82.83L188.9 82.7L190.9 82.77L192.42 83L193.28 83.5L192.8 84L192.4 84.1ZM229.9 137.13L229.4 136.68L229 135.5L228.84 134.5L228.79 133L228.9 131.16L229.12 130L229.4 128.89L229.9 128.16L230.4 128.46L230.9 129.93L231.12 131.5L231.21 133L231.15 134.5L230.9 135.98L230.4 136.95L229.9 137.13ZM231.4 143.52L229.9 143.6L228.4 143.41L227.06 143L226.62 142.5L227.18 142L227.9 141.7L228.9 141.37L229.9 141.21L230.9 141.28L232.4 141.67L233.4 142L234.18 142.5L233.66 143L231.4 143.52ZM168.4 92.05L167.9 91.21L167.76 90.5L167.46 88L167.37 86L167.42 84.5L167.58 83.5L167.9 82.44L168.4 81.92L168.9 82.21L169.25 83L169.47 84L169.55 85.5L169.4 87.99L169.05 90.5L168.9 91.26L168.4 92.05ZM229.9 134.5L229.76 134L229.67 133L229.9 131.65L230.34 132.5L230.41 133L230.4 133.51L230.23 134L229.9 134.5ZM232.9 143.07L230.9 143.44L229.4 143.43L227.52 143L227.04 142.5L227.63 142L228.4 141.71L229.4 141.48L230.4 141.43L231.4 141.58L232.9 142L233.7 142.5L233.14 143L232.9 143.07Z" fill="none" stroke="#111" stroke-width="0.5"/>
<path d="M172 84.5L215 84.5" stroke="#eee" stroke-width="0.45" stroke-dasharray="1.2 0.9"/>
<path d="M230.5 115L230.5 141" stroke="#eee" stroke-width="0.45" stroke-dasharray="1.2 0.9"/>
</g>
<rect x="166.9" y="55.5" width="88.8" height="88" fill="none" stroke="#555" stroke-width="0.8"/>
<path d="M164.3 65.3L166.9 65.3" stroke="#222" stroke-width="0.9"/>
<text x="148.8" y="68.55" font-size="9.1" stroke="#222" stroke-width="0.22" textLength="8.7" lengthAdjust="spacingAndGlyphs">10</text>
<text x="157.7" y="64.65" font-size="5.9" stroke="#222" stroke-width="0.22" textLength="3.1" lengthAdjust="spacingAndGlyphs">5</text>
<path d="M164.3 84.8L166.9 84.8" stroke="#222" stroke-width="0.9"/>
<text x="148.8" y="88.05" font-size="9.1" stroke="#222" stroke-width="0.22" textLength="8.7" lengthAdjust="spacingAndGlyphs">10</text>
<text x="157.7" y="84.15" font-size="5.9" stroke="#222" stroke-width="0.22" textLength="3.1" lengthAdjust="spacingAndGlyphs">4</text>
<path d="M164.3 103.9L166.9 103.9" stroke="#222" stroke-width="0.9"/>
<text x="148.8" y="107.15" font-size="9.1" stroke="#222" stroke-width="0.22" textLength="8.7" lengthAdjust="spacingAndGlyphs">10</text>
<text x="157.7" y="103.25" font-size="5.9" stroke="#222" stroke-width="0.22" textLength="3.1" lengthAdjust="spacingAndGlyphs">3</text>
<path d="M164.3 124L166.9 124" stroke="#222" stroke-width="0.9"/>
<text x="148.8" y="127.25" font-size="9.1" stroke="#222" stroke-width="0.22" textLength="8.7" lengthAdjust="spacingAndGlyphs">10</text>
<text x="157.7" y="123.35" font-size="5.9" stroke="#222" stroke-width="0.22" textLength="3.1" lengthAdjust="spacingAndGlyphs">2</text>
<path d="M164.3 138.9L166.9 138.9" stroke="#222" stroke-width="0.9"/>
<text x="161.3" y="142.15" font-size="9.1" stroke="#222" stroke-width="0.22" text-anchor="end" textLength="4.4" lengthAdjust="spacingAndGlyphs">0</text>
<path d="M165.5 118.1h1.4M165.5 114.65h1.4M165.5 112.2h1.4M165.5 110.3h1.4M165.5 108.75h1.4M165.5 107.44h1.4M165.5 106.3h1.4M165.5 105.3h1.4M165.5 98h1.4M165.5 94.55h1.4M165.5 92.1h1.4M165.5 90.2h1.4M165.5 88.65h1.4M165.5 87.34h1.4M165.5 86.2h1.4M165.5 85.2h1.4M165.5 78.9h1.4M165.5 75.45h1.4M165.5 73h1.4M165.5 71.1h1.4M165.5 69.55h1.4M165.5 68.24h1.4M165.5 67.1h1.4M165.5 66.1h1.4M165.5 126.9h1.4M165.5 129.8h1.4M165.5 132.7h1.4M165.5 135.6h1.4M165.5 138.5h1.4" stroke="#333" stroke-width="0.6"/>
<text x="171.1" y="157.6" font-size="9.1" stroke="#222" stroke-width="0.22" text-anchor="middle" textLength="4.4" lengthAdjust="spacingAndGlyphs">0</text>
<path d="M171.1 143.5L171.1 146.1" stroke="#222" stroke-width="0.9"/>
<text x="181.1" y="157.6" font-size="9.1" stroke="#222" stroke-width="0.22" textLength="8.7" lengthAdjust="spacingAndGlyphs">10</text>
<text x="190" y="153.7" font-size="5.9" stroke="#222" stroke-width="0.22" textLength="3.1" lengthAdjust="spacingAndGlyphs">2</text>
<path d="M187.3 143.5L187.3 146.1" stroke="#222" stroke-width="0.9"/>
<text x="201.9" y="157.6" font-size="9.1" stroke="#222" stroke-width="0.22" textLength="8.7" lengthAdjust="spacingAndGlyphs">10</text>
<text x="210.8" y="153.7" font-size="5.9" stroke="#222" stroke-width="0.22" textLength="3.1" lengthAdjust="spacingAndGlyphs">3</text>
<path d="M208.1 143.5L208.1 146.1" stroke="#222" stroke-width="0.9"/>
<text x="222.1" y="157.6" font-size="9.1" stroke="#222" stroke-width="0.22" textLength="8.7" lengthAdjust="spacingAndGlyphs">10</text>
<text x="231" y="153.7" font-size="5.9" stroke="#222" stroke-width="0.22" textLength="3.1" lengthAdjust="spacingAndGlyphs">4</text>
<path d="M228.3 143.5L228.3 146.1" stroke="#222" stroke-width="0.9"/>
<text x="240.7" y="157.6" font-size="9.1" stroke="#222" stroke-width="0.22" textLength="8.7" lengthAdjust="spacingAndGlyphs">10</text>
<text x="249.6" y="153.7" font-size="5.9" stroke="#222" stroke-width="0.22" textLength="3.1" lengthAdjust="spacingAndGlyphs">5</text>
<path d="M246.9 143.5L246.9 146.1" stroke="#222" stroke-width="0.9"/>
<path d="M193.38 143.5v1.4M196.94 143.5v1.4M199.46 143.5v1.4M201.42 143.5v1.4M203.02 143.5v1.4M204.37 143.5v1.4M205.54 143.5v1.4M206.58 143.5v1.4M214.18 143.5v1.4M217.74 143.5v1.4M220.26 143.5v1.4M222.22 143.5v1.4M223.82 143.5v1.4M225.17 143.5v1.4M226.34 143.5v1.4M227.38 143.5v1.4M234.38 143.5v1.4M237.94 143.5v1.4M240.46 143.5v1.4M242.42 143.5v1.4M244.02 143.5v1.4M245.37 143.5v1.4M246.54 143.5v1.4M247.58 143.5v1.4M173.9 143.5v1.4M176.7 143.5v1.4M179.5 143.5v1.4M182.3 143.5v1.4M185.1 143.5v1.4" stroke="#333" stroke-width="0.6"/>
<text x="212.8" y="170.7" font-size="10.5" stroke="#222" stroke-width="0.22" text-anchor="middle" textLength="46" lengthAdjust="spacingAndGlyphs">Mouse CD45</text>
<text x="141.4" y="101.7" font-size="10.4" stroke="#222" stroke-width="0.22" text-anchor="middle" textLength="49.5" lengthAdjust="spacingAndGlyphs" transform="rotate(-90 141.4 101.7)">Human CD45</text>
<path d="M167.4 102.5L167.4 66.8L171.9 61L217.2 58.7L246.6 66.2L248.4 77.8L221.7 102.3L185.7 106L167.4 102.5" stroke="#5a66f0" stroke-width="0.8" fill="none" stroke-linejoin="round"/>
<path d="M214.2 143.5L214.2 114.9L219.6 107.9L230.8 98.4L237.7 96.5L248.5 103.2L249.8 105.3L252.4 127.8L250.7 143.5" stroke="#5a66f0" stroke-width="0.8" fill="none" stroke-linejoin="round"/>
<text x="183.4" y="115.2" font-size="7.2" stroke="#4450ee" stroke-width="0.12" fill="#4450ee" textLength="12.1" lengthAdjust="spacingAndGlyphs">71.6</text>
<text x="198.4" y="135.9" font-size="7.2" stroke="#4450ee" stroke-width="0.12" fill="#4450ee" textLength="12.1" lengthAdjust="spacingAndGlyphs">28.1</text>
<clipPath id="c3"><rect x="41" y="180.5" width="88.5" height="86.5"/></clipPath>
<g clip-path="url(#c3)">
<path d="M53.5 195h0m5.5 5.75h0m0 .25h0m-1.5 5h0m2.75 .25h0m-16.5 .25h0m12 .5h0m-12.25 .5h0m15.5 0h0m3.25 0h0m5 0h0m-17.5 .25h0m1.25 .25h0m5 0h0m11.75 0h0m1 0h0m-16.5 .25h0m32.75 0h0m-34.75 .25h0m5.75 0h0m23.75 0h0m-26.25 .25h0m6 0h0m9.25 0h0m.25 0h0m-24 .25h0m14 0h0m13 0h0m-27 .25h0m1 0h0m7.75 0h0m20.75 0h0m-.25 .25h0m10 0h0m-39.5 .25h0m9.75 0h0m1.75 0h0m2.25 0h0m26.25 0h0m-18.25 .25h0m10.75 0h0m-31 .25h0m.75 0h0m2.5 0h0m2.5 0h0m.75 0h0m.5 0h0m.5 0h0m10.5 0h0m10.5 0h0m-24.25 .25h0m8.75 0h0m5 0h0m8.75 0h0m2.25 0h0m1 0h0m-26.75 .25h0m15 0h0m2.25 0h0m2.25 0h0m9.25 0h0m-33.75 .25h0m9.25 0h0m5.25 0h0m5.25 0h0m.75 0h0m2.5 0h0m6.5 0h0m3 0h0m-18.25 .25h0m-15.5 .25h0m8 0h0m9 0h0m1.25 0h0m-10.25 .25h0m5 0h0m6.5 0h0m13.75 0h0m.5 0h0m.75 0h0m-30.25 .25h0m6.5 0h0m5 0h0m17.75 0h0m1 0h0m9.5 0h0m2 0h0m-37 .25h0m2.75 0h0m4 0h0m18 0h0m8 0h0m1.75 0h0m-43.75 .25h0m2.5 0h0m14.75 0h0m.25 0h0m19.75 0h0m3 0h0m-25.25 .25h0m21.5 0h0m-24.75 .25h0m.75 0h0m1.25 0h0m.5 0h0m24.75 0h0m1.5 0h0m1.5 0h0m-33.75 .25h0m3.75 0h0m2.25 0h0m24.5 0h0m-34.25 .25h0m2.5 0h0m29.75 0h0m.5 .25h0m-31.5 .25h0m.5 0h0m3.25 0h0m4.75 .25h0m-14.25 .25h0m1 0h0m3.5 0h0m1.75 0h0m30.75 0h0m.25 0h0m-36.25 .25h0m.25 0h0m2.5 0h0m4.75 0h0m2.75 0h0m1.25 0h0m.5 0h0m-12 .25h0m36.25 0h0m.5 0h0m1.25 0h0m-33 .25h0m7 0h0m-13 .25h0m8.5 0h0m32 0h0m3.5 0h0m-37.5 .25h0m4.5 0h0m27 0h0m1 0h0m7 0h0m-8.75 .25h0m2.5 0h0m.25 .25h0m-29 .25h0m30.25 0h0m.5 0h0m.5 0h0m2.5 0h0m-35.25 .25h0m1.5 0h0m-7.25 .25h0m7.5 0h0m26 0h0m0 .25h0m-34.75 .25h0m4 0h0m4.75 0h0m26.25 0h0m-33.75 .25h0m5.75 0h0m2 0h0m28.25 0h0m-35.5 .25h0m6.25 0h0m-8.5 .25h0m.5 0h0m.75 0h0m6.5 0h0m28.25 0h0m-28.25 .25h0m.25 0h0m40.5 0h0m-43.75 .25h0m30.25 0h0m-36.5 .25h0m43.75 0h0m-36.75 .25h0m31.25 0h0m.5 0h0m-28.25 .25h0m34.5 0h0m-45.25 .25h0m2 0h0m4 0h0m-5.75 .25h0m5 0h0m31.25 0h0m-36.5 .25h0m1.75 0h0m6.25 0h0m31.75 0h0m-33.25 .25h0m.5 0h0m31.25 0h0m-37.5 .25h0m8.25 0h0m-.25 .25h0m31.25 0h0m1.75 0h0m3.75 0h0m2 0h0m-47 .25h0m2.75 0h0m32.25 0h0m2 0h0m-33.5 .25h0m4.75 0h0m30.5 0h0m3.5 0h0m7.75 0h0m2 0h0m-48 .25h0m2 0h0m3 0h0m-1 .25h0m-8.5 .25h0m8.5 0h0m26.25 0h0m-35.5 .25h0m4.25 0h0m31.25 0h0m10.5 0h0m-46.25 .25h0m1.75 0h0m1.25 0h0m8 0h0m.25 0h0m24.75 0h0m6.75 0h0m7.25 0h0m-13.75 .25h0m6 0h0m4 0h0m-46.25 .25h0m5.5 0h0m1.5 0h0m2 0h0m30.5 0h0m-35.75 .25h0m4 0h0m30.5 0h0m2.25 0h0m10.25 0h0m-45.25 .25h0m5.75 0h0m4.75 0h0m29 0h0m-44.25 .25h0m.75 0h0m10.25 0h0m.75 0h0m1.75 0h0m20.75 0h0m1.25 0h0m.25 0h0m8 0h0m-34.75 .25h0m6.25 0h0m20 0h0m.75 0h0m3.75 0h0m-36.5 .25h0m5.25 0h0m27.25 0h0m1.25 0h0m-37 .25h0m6.5 0h0m39.5 0h0m4.5 0h0m.25 0h0m-47.25 .25h0m10.25 0h0m1.5 0h0m4.75 0h0m-19.25 .25h0m3 0h0m.25 0h0m5.5 0h0m5 0h0m4.25 0h0m27.25 0h0m1.25 0h0m.75 0h0m-35.5 .25h0m8.75 0h0m18.25 0h0m7.75 0h0m1.25 0h0m-48.75 .25h0m11 0h0m2.75 0h0m2.25 0h0m25.25 0h0m8.25 0h0m-44 .25h0m2 0h0m.25 0h0m6.5 0h0m23.75 0h0m1.5 0h0m8.5 0h0m-43 .25h0m.5 0h0m17.5 0h0m1 0h0m-25.75 .25h0m3.75 0h0m3 0h0m2.5 0h0m7.75 0h0m.5 0h0m27 0h0m4.25 0h0m-29.75 .25h0m5.25 0h0m14.75 0h0m3.5 0h0m-35.25 .25h0m4.75 0h0m6.25 0h0m7.75 0h0m22.5 0h0m4.5 0h0m-49.25 .25h0m40.5 0h0m3.75 0h0m2.5 0h0m-47.5 .25h0m41.25 0h0m13.5 0h0m2.75 0h0m-52 .25h0m3.5 0h0m5 0h0m1 0h0m2.25 0h0m5.25 0h0m.5 0h0m17.25 0h0m1.5 0h0m.75 0h0m7.25 0h0m-49 .25h0m9.25 0h0m3.5 0h0m4.5 0h0m22.25 0h0m.75 0h0m6 0h0m-41 .25h0m34.75 0h0m2.75 0h0m8 0h0m-49 .25h0m2.25 0h0m12.5 0h0m3.25 0h0m13.75 0h0m7.5 0h0m.25 0h0m-38.75 .25h0m13 0h0m19.25 0h0m4.25 0h0m.25 0h0m-34.25 .25h0m5.5 0h0m1.75 0h0m2.5 0h0m1.75 0h0m5.75 0h0m25 0h0m.25 0h0m-44.25 .25h0m7.25 0h0m37.5 0h0m.5 0h0m3.75 0h0m-46.75 .25h0m.5 0h0m28.75 0h0m14.5 0h0m-46.75 .25h0m5.75 0h0m.5 0h0m.5 0h0m2.75 0h0m1.75 0h0m1.5 0h0m-9.5 .25h0m27.5 0h0m-31.5 .25h0m7.25 0h0m.25 0h0m5.25 0h0m8.5 0h0m10.75 0h0m-31 .25h0m6.75 0h0m3.75 0h0m1 0h0m8.5 0h0m11 0h0m.25 0h0m1.75 0h0m16.75 0h0m-53.25 .25h0m7.5 0h0m7.75 0h0m21 0h0m14 0h0m-42.75 .25h0m3.75 0h0m.25 0h0m1.5 0h0m2.25 0h0m35.75 0h0m4 0h0m-20 .25h0m-27.5 .25h0m3.25 0h0m40 0h0m.5 0h0m-48.5 .25h0m7 0h0m14 0h0m30 0h0m-46.5 .25h0m-5.5 .25h0m1.75 0h0m12.5 0h0m1.25 0h0m-8.5 .25h0m.5 0h0m1.75 0h0m.75 0h0m1.75 0h0m-13.75 .25h0m8.5 0h0m3.25 0h0m12 0h0m28.75 0h0m-53.25 .25h0m4.75 0h0m14 0h0m8 0h0m28.5 0h0m-53 .25h0m1.75 0h0m13 0h0m3.25 0h0m6.5 0h0m.25 0h0m-27.25 .25h0m16.25 0h0m11.75 0h0m24.5 0h0m3.25 0h0m1.25 0h0m-55.5 .25h0m5.75 0h0m.25 0h0m2.75 0h0m6 0h0m36.5 0h0m-53 .25h0m8 0h0m10.25 0h0m10.25 0h0m.25 0h0m28.25 0h0m3.25 0h0m-53 .25h0m6 0h0m9 0h0m2.25 0h0m-19 .25h0m3 0h0m9.75 0h0m1 0h0m36.75 0h0m-51 .25h0m3.25 0h0m1.5 0h0m8.25 0h0m-17.75 .25h0m5 0h0m7.5 0h0m2.25 0h0m-15.5 .25h0m6.25 0h0m1.5 0h0m1.5 0h0m4.75 0h0m1.25 0h0m4.25 0h0m-12.75 .25h0m9.25 0h0m.5 0h0m2 0h0m-10.5 .25h0m7.5 0h0m6.25 0h0m32.5 0h0m-45.25 .25h0m6 0h0m7.25 0h0m33.75 0h0m-55.25 .25h0m2.25 0h0m2.25 0h0m20 0h0m5 0h0m.25 0h0m24.75 0h0m2.25 0h0m-50 .25h0m5.25 0h0m.75 0h0m42 .25h0m-38 .25h0m9.25 0h0m3.75 0h0m29 0h0m-58.25 .25h0m10.5 0h0m1.5 0h0m3.75 0h0m1.75 0h0m39.5 0h0m-57 .25h0m8.75 0h0m4 0h0m-7 .25h0m10.25 0h0m38.25 0h0m.25 0h0m-43 .25h0m1.75 0h0m1.25 0h0m2 0h0m4 0h0m3 0h0m-20.75 .25h0m52 0h0m-55.5 .25h0m1.5 0h0m2.25 0h0m11.75 0h0m16.25 0h0m27 0h0m-56 .25h0m2 0h0m4.25 0h0m4.75 0h0m15.25 0h0m30.75 0h0m-61 .25h0m9.75 0h0m6 0h0m15 0h0m-26 .25h0m1.75 0h0m.75 0h0m8 0h0m43 0h0m-51.5 .25h0m.25 0h0m10.25 0h0m.25 0h0m-15.75 .25h0m8.25 0h0m2.5 0h0m17.75 0h0m.25 0h0m-29 .25h0m13 0h0m10.25 0h0m-19.75 .25h0m4 0h0m.75 0h0m3.25 0h0m.25 0h0m19 0h0m25.75 0h0m-47.75 .25h0m6.5 0h0m14.75 0h0m.75 0h0m-29.25 .25h0m2.25 0h0m5.5 0h0m2 0h0m2.5 0h0m16 0h0m-30 .25h0m.25 0h0m13.25 0h0m1 0h0m14.25 0h0m-25.5 .25h0m3 0h0m2.75 0h0m23 0h0m-27.75 .25h0m5 0h0m21.75 0h0m-27.25 .25h0m2.75 0h0m.25 0h0m1.75 0h0m4.75 0h0m.5 0h0m.25 0h0m-.75 .25h0m.75 .25h0m1.25 0h0m1.75 0h0m39 0h0m-52.25 .25h0m.5 0h0m4.75 0h0m2.75 0h0m19.75 0h0m31.75 0h0m-52.5 .25h0m46.75 0h0m-50.5 .25h0m2 0h0m11.75 0h0m-20.25 .25h0m12.25 0h0m49.25 0h0m-4.5 .25h0m1.5 0h0m-53.5 .25h0m1.25 0h0m1.75 0h0m3 0h0m14 0h0m5.25 0h0m-21.25 .25h0m2.75 0h0m17 0h0m1.25 0h0m26.25 0h0m-45 .25h0m1 0h0m-3 .25h0m47.25 0h0m-42 .25h0m.75 0h0m-8.5 .25h0m3.25 0h0m1.75 0h0m4.5 0h0m-13.25 .25h0m25 0h0m-13.25 .25h0m14.25 0h0m28 0h0m.25 0h0m-45.25 .25h0m-8.25 .25h0m.5 0h0m5.5 0h0m4.5 0h0m-13.25 .25h0m4.25 0h0m3 0h0m1.5 0h0m1.5 0h0m4 0h0m-15 .25h0m2 0h0m.5 0h0m7 0h0m46.75 0h0m-55 .25h0m2.25 0h0m6.5 0h0m-4.5 .25h0m6.25 0h0m10.75 0h0m33.5 0h0m.5 0h0m-53.75 .25h0m1 0h0m8.5 0h0m15.5 0h0m-13.25 .25h0m2.25 0h0m13.25 0h0m-31 .25h0m7.25 0h0m8.5 0h0m1.25 0h0m-8.25 .25h0m7 0h0m14.75 0h0m27 0h0m-53.75 .25h0m4.25 0h0m5.25 0h0m45.75 0h0m-54.75 .25h0m.25 0h0m6.5 0h0m-.75 .25h0m1.75 0h0m5.25 0h0m-13 .25h0m7.5 0h0m.5 0h0m46 0h0m1.75 0h0m-57.5 .25h0m.25 0h0m10.75 0h0m.25 0h0m2.25 0h0m.75 0h0m44 0h0m-52 .25h0m4.5 0h0m9.75 0h0m6.75 0h0m-25.25 .25h0m.5 0h0m1 0h0m.25 0h0m3.75 0h0m4 0h0m14.75 0h0m29 0h0m7 0h0m-60.25 .25h0m1.5 0h0m5.5 0h0m2.25 0h0m2.75 0h0m-11 .25h0m.25 0h0m.75 0h0m1.75 0h0m20.25 0h0m-26.5 .25h0m1 0h0m5.25 0h0m17.5 0h0m31.75 0h0m2 0h0m-57.5 .5h0m6 0h0m20.25 0h0m31 0h0m.75 0h0m-57.75 .25h0m11.75 0h0m1.75 0h0m2.25 0h0m8 0h0m-24.5 .25h0m.5 0h0m5.75 0h0m.25 0h0m5 0h0m9.5 0h0m4 0h0m1.5 0h0m-17.25 .25h0m.25 0h0m2.5 0h0m45.5 0h0m-57.25 .25h0m4 0h0m.5 0h0m53.5 0h0m-50.25 .25h0m5 0h0m13 0h0m31.25 0h0m12.75 0h0m-58 .25h0m.75 0h0m2.75 0h0m1 0h0m9.5 0h0m-17.75 .25h0m7.5 0h0m43.5 0h0m-43.75 .25h0m2.25 0h0m40.5 0h0m-58.25 .25h0m3.25 0h0m4.25 0h0m3 0h0m2 0h0m2.5 0h0m9.5 0h0m-24.5 .25h0m7.25 0h0m.25 0h0m7.75 0h0m42 0h0m.25 0h0m.75 0h0m-57 .25h0m.25 0h0m1.25 0h0m6.25 0h0m4.75 0h0m7.75 0h0m.75 0h0m-23.75 .25h0m2 .25h0m22.5 0h0m39.75 0h0m-63.75 .25h0m2.5 0h0m3 0h0m9 0h0m4.25 0h0m4.5 0h0m35.5 0h0m.75 0h0m-45.75 .25h0m-6 .25h0m6.75 0h0m-4.25 .25h0m6 0h0m.75 0h0m.5 0h0m42.5 0h0m1.5 0h0m-56.75 .25h0m5.5 0h0m13.25 0h0m1.25 0h0m-24.75 .25h0m16 0h0m1.75 0h0m2.25 0h0m2.25 0h0m-15.25 .25h0m-1.25 .25h0m1 0h0m3.75 0h0m10.5 0h0m38 0h0m1 0h0m1.25 0h0m14.5 0h0m-72.75 .25h0m2 0h0m8.25 0h0m7.25 0h0m3.75 0h0m-25.25 .25h0m3.25 0h0m15.5 0h0m3.5 0h0m1 0h0m1.5 0h0m-7.75 .25h0m3.75 0h0m40.75 0h0m4.25 0h0m-59 .25h0m1.5 0h0m8.5 0h0m43.75 0h0m2 0h0m-55.5 .25h0m.75 0h0m2.25 0h0m3.75 0h0m1.25 0h0m2.5 0h0m42.5 0h0m-52 .25h0m1 0h0m1.25 0h0m6.25 0h0m-11.5 .25h0m2.75 0h0m52.25 0h0m-37 .25h0m-10.25 .25h0m7.25 0h0m3.75 0h0m36.5 0h0m-54.25 .25h0m.5 0h0m3.5 0h0m11 0h0m1.25 0h0m1.75 0h0m.25 0h0m36.5 0h0m3 0h0m-43 .25h0m39.25 0h0m-54 .25h0m1 0h0m3.5 0h0m50.5 0h0m1.5 0h0m-51.75 .25h0m2.75 0h0m.75 0h0m45.75 0h0m1 0h0m1.5 0h0m.5 0h0m-58.5 .5h0m2.75 0h0m8.75 0h0m1.75 0h0m5.75 0h0m38.25 0h0m-61.25 .25h0m9.25 0h0m3 0h0m-7.5 .25h0m5.5 0h0m12 0h0m-19.25 .25h0m2 0h0m56.5 0h0m-54.75 .25h0m3.5 0h0m3.5 0h0m7 0h0m-18.25 .25h0m13.25 0h0m.25 0h0m.75 0h0m1.75 0h0m-18.5 .25h0m21.25 0h0m42.25 0h0m-56 .25h0m51.5 0h0m-56.5 .25h0m.75 .25h0m4.75 0h0m.25 0h0m3 0h0m10.75 0h0m38.75 0h0m-57.75 .25h0m7.75 0h0m2 0h0m9 0h0m1.5 0h0m35.75 0h0m4.25 0h0m-63.25 .25h0m11.5 0h0m49.25 0h0m6.75 0h0m-6 .25h0m-54.75 .25h0m.5 0h0m1.5 0h0m56.5 0h0m-55.75 .25h0m-3.75 .25h0m3 0h0m8.75 0h0m-16.5 .25h0m.25 0h0m12 0h0m8.25 0h0m1.25 0h0m.5 0h0m-3 .25h0m44.5 0h0m6 0h0m-3 .25h0m-51.25 .25h0m2 0h0m47.75 0h0m2.5 0h0m-58.75 .25h0m9.25 0h0m49.5 0h0m10 0h0m-69 .25h0m8.5 0h0m51.5 0h0m2.75 0h0m-5.25 .25h0m2 0h0m-50.25 .25h0m-4 .25h0m2.25 0h0m.25 0h0m52 0h0m-67.5 .25h0m7.5 0h0m5 0h0m56 0h0" stroke="#333" stroke-width=".55" stroke-linecap="square" transform="translate(.28 .28)"/>
<path d="M101.5 268.01L97.5 268.28L91 268.42L79.5 268.41L72.5 268.24L69 267.95L65.5 267.29L63.08 266.5L62.43 266L62.45 265.5L63.09 265L66.95 263.5L67.51 263L67.55 262.5L66.85 260.5L66.68 259.5L66.73 258L66.97 257L67.37 256L68.29 254.5L69.12 253.5L71.94 250.5L73 248.86L73.5 247.65L74 245.78L74.83 241.5L74.96 240.5L74.95 239.5L74.71 238.5L74.49 238L73.8 237L71.74 234.5L70.35 232.5L69.21 230.5L67.5 226.87L66.86 226L66.2 225.5L65.5 225.23L61.5 224.64L60 224.31L58.5 223.83L57.5 223.4L56.5 222.83L55.5 222.01L55.05 221.5L54.71 221L54.32 220L54.23 219.5L54.27 218.5L54.56 217.5L55.1 216.5L56.45 215L58 213.85L60 212.8L61.5 212.21L63 211.75L65.5 211.24L68.5 211.02L71.5 211.16L74 211.64L76 212.34L77.5 213.14L78.5 213.91L79.08 214.5L79.75 215.5L80.09 216.5L80.15 217L80.16 217.5L79.96 218.5L79.77 219L79.18 220L78.3 221L76.5 222.49L76.01 223L75.75 223.5L75.66 224L75.69 224.5L76 225.61L77.5 229.03L78.5 230.85L79 231.3L79.5 231.43L80 231.3L80.5 231.04L82.5 229.71L84 229.03L86 228.53L88.5 228.36L90 228.56L91 228.93L92 229.57L93.42 231L94.79 233L96.28 236L97.24 238.5L98.23 242L98.72 244.5L99.59 250L100 251.69L101.25 255.5L101.68 257.5L101.7 259.5L101.01 262.5L101.39 263L102.68 263.5L107.5 264.65L108.46 265L109.23 265.5L109.29 266L108.64 266.5L107.5 266.92L104 267.68L101.5 268.01Z" fill="#fff" fill-rule="evenodd"/>
<path d="M89.5 260.55L88 260.92L86.5 260.98L85 260.82L84 260.51L83.12 260L82.5 259.39L82 258.5L81.81 257.5L81.87 256.5L82.26 255L84.46 249L85.13 247.5L86.35 245.5L87.5 244L88.5 243.01L89 242.69L89.5 242.53L90 242.55L90.5 242.8L91 243.31L91.62 244.5L92 245.69L92.33 247.5L92.54 251L92.36 255L91.88 257.5L91.5 258.51L91 259.34L90.38 260L89.5 260.55ZM91.5 266.57L89.5 266.8L87.5 266.9L85 266.9L82.5 266.78L80 266.5L79 266.26L78.14 266L78.03 265.5L79.35 265L81 264.67L83.5 264.33L86 264.2L88.5 264.29L90.5 264.56L92.46 265L93.66 265.5L93.61 266L91.5 266.57Z" fill="#aaa" fill-rule="evenodd"/>
<path d="M88.5 259.57L87.5 259.63L86 259.51L84.58 259L84 258.5L83.69 258L83.51 257.5L83.46 256.5L83.65 255.5L83.97 254.5L86.3 248.5L87.2 246.5L88 245.19L88.58 244.5L89 244.15L89.5 243.94L90 243.95L90.5 244.25L91 244.91L91.45 246L91.7 247L91.92 248.5L92.02 250L91.92 253.5L91.55 256L91 257.63L90.5 258.43L90 258.93L89.5 259.25L88.5 259.57ZM90 266.52L86 266.7L82.02 266.5L79.62 266L79.47 265.5L81.03 265L82 264.84L84 264.62L86 264.55L88 264.6L90 264.81L91.04 265L92.4 265.5L92.29 266L90 266.52Z" fill="#777" fill-rule="evenodd"/>
<path d="M88.5 258.01L87.5 257.86L86.5 257.36L86.14 257L85.91 256.5L85.86 255.5L87.27 249.5L87.92 247.5L88.5 246.37L89 245.76L89.5 245.45L90 245.46L90.5 245.86L90.84 246.5L91.27 248L91.5 250.5L91.37 253L91 255.24L90.5 256.59L90 257.31L89.5 257.72L89 257.93L88.5 258.01ZM90.5 266.1L87.5 266.46L84.5 266.45L83 266.31L81.16 266L80.94 265.5L82.5 265.1L84 264.91L86 264.83L88 264.89L89.5 265.06L91.12 265.5L90.93 266L90.5 266.1Z" fill="#333" fill-rule="evenodd"/>
<path d="M101.5 268.01L97.5 268.28L91 268.42L79.5 268.41L72.5 268.24L69 267.95L65.5 267.29L63.08 266.5L62.43 266L62.45 265.5L63.09 265L66.95 263.5L67.51 263L67.55 262.5L66.85 260.5L66.68 259.5L66.73 258L66.97 257L67.37 256L68.29 254.5L69.12 253.5L71.94 250.5L73 248.86L73.5 247.65L74 245.78L74.83 241.5L74.96 240.5L74.95 239.5L74.71 238.5L74.49 238L73.8 237L71.74 234.5L70.35 232.5L69.21 230.5L67.5 226.87L66.86 226L66.2 225.5L65.5 225.23L61.5 224.64L60 224.31L58.5 223.83L57.5 223.4L56.5 222.83L55.5 222.01L55.05 221.5L54.71 221L54.32 220L54.23 219.5L54.27 218.5L54.56 217.5L55.1 216.5L56.45 215L58 213.85L60 212.8L61.5 212.21L63 211.75L65.5 211.24L68.5 211.02L71.5 211.16L74 211.64L76 212.34L77.5 213.14L78.5 213.91L79.08 214.5L79.75 215.5L80.09 216.5L80.15 217L80.16 217.5L79.96 218.5L79.77 219L79.18 220L78.3 221L76.5 222.49L76.01 223L75.75 223.5L75.66 224L75.69 224.5L76 225.61L77.5 229.03L78.5 230.85L79 231.3L79.5 231.43L80 231.3L80.5 231.04L82.5 229.71L84 229.03L86 228.53L88.5 228.36L90 228.56L91 228.93L92 229.57L93.42 231L94.79 233L96.28 236L97.24 238.5L98.23 242L98.72 244.5L99.59 250L100 251.69L101.25 255.5L101.68 257.5L101.7 259.5L101.01 262.5L101.39 263L102.68 263.5L107.5 264.65L108.46 265L109.23 265.5L109.29 266L108.64 266.5L107.5 266.92L104 267.68L101.5 268.01ZM76 234.89L75.5 234.98L75 234.9L74 234.42L73 233.63L72 232.54L71.23 231.5L70.34 230L68.35 225.5L68 224.96L67.5 224.44L66.8 224L66 223.72L63 223.15L61 222.55L59.5 221.8L58.5 220.99L57.78 220L57.58 219.5L57.47 218.5L57.69 217.5L57.93 217L58.5 216.2L59.2 215.5L61 214.29L63 213.43L65.5 212.79L68 212.54L70.5 212.65L73 213.16L75 214.02L75.72 214.5L76.5 215.23L77.03 216L77.35 217L77.32 218L77.18 218.5L76.64 219.5L76.25 220L74.3 222L74 222.53L73.86 223.5L74.09 224.5L75.8 228.5L76.28 230L76.61 231.5L76.75 233L76.64 234L76.43 234.5L76 234.89ZM96 268.04L92 268.26L86.5 268.33L80 268.26L75.5 268.06L73 267.8L69.5 267.2L67.05 266.5L66.29 266L66.3 265.5L67.02 265L71.07 263.5L71.56 263L71.53 262.5L70.8 261L70.5 260L70.39 259L70.58 257.5L70.94 256.5L71.47 255.5L74.4 251.5L75 250.44L75.4 249.5L76 247.53L76.75 244L77.62 240.5L78.42 238L78.68 237.5L79.49 236.5L81.62 234.5L82.5 233.81L83.5 233.2L85 232.57L86.5 232.19L88 231.94L89 231.88L90 232L91 232.39L92 233.13L92.77 234L93.45 235L94.25 236.5L94.89 238L95.72 240.5L96.22 242.5L96.76 245.5L97.5 251.22L98.58 256.5L98.71 258L98.66 259L98.37 260.5L97.67 262.5L97.81 263L98.66 263.5L103.5 264.69L104.46 265L105.34 265.5L105.4 266L104.63 266.5L103.5 266.85L101 267.38L96 268.04ZM75 232.51L74.5 232.76L74 232.7L73.5 232.47L73 232.11L72 231.04L71.3 230L70.52 228.5L69.22 225L68.55 224L68 223.55L66.5 222.89L63.5 222.24L62 221.75L61 221.24L60.06 220.5L59.37 219.5L59.17 218.5L59.23 218L59.65 217L60.5 216L61.91 215L63.5 214.27L65.5 213.71L68 213.43L70 213.53L72 213.93L73.5 214.53L74.26 215L74.85 215.5L75.54 216.5L75.7 217L75.7 218L75.31 219L74.97 219.5L73.5 221.15L73 221.86L72.74 222.5L72.67 223L72.83 224L74.5 227.5L75.17 229.5L75.34 230.5L75.36 231.5L75.26 232L75 232.51ZM93.5 268.01L90.5 268.17L86 268.22L81.5 268.16L78.03 268L75 267.67L71.5 267.11L69.21 266.5L68.37 266L68.36 265.5L69.13 265L72.17 264L73.41 263.5L73.87 263L73.78 262.5L72.94 261L72.58 260L72.44 259L72.62 257.5L73.22 256L75.5 252.43L76.46 250.5L77 248.88L77.88 245L78.55 242.5L79.28 240.5L80.05 239L80.74 238L81.61 237L82.5 236.17L83.5 235.46L84.5 234.93L85.5 234.55L88.5 233.8L89.5 233.76L90.5 234L91.5 234.61L92.35 235.5L93.03 236.5L93.8 238L94.38 239.5L95.11 242L95.77 245.5L96.5 252.22L97.16 257L97.15 258.5L97.01 259.5L96.76 260.5L95.95 262.5L95.98 263L96.62 263.5L98.26 264L102 264.91L103.22 265.5L103.28 266L102.42 266.5L101.5 266.77L99 267.28L93.5 268.01ZM74 230.74L73.5 230.89L73 230.67L72.5 230.23L71.93 229.5L71.5 228.77L70.96 227.5L70.3 224.5L70 224L69.53 223.5L68.78 223L67.65 222.5L64 221.59L63 221.26L62 220.76L61.07 220L60.71 219.5L60.51 219L60.43 218.5L60.48 218L60.93 217L61.9 216L63 215.31L64.5 214.68L66 214.3L68 214.1L70 214.23L71.5 214.59L73 215.28L73.88 216L74.23 216.5L74.44 217L74.52 217.5L74.34 218.5L73.75 219.5L72.49 221L71.83 222L71.47 223L71.43 223.5L71.78 224.5L73 226.26L73.5 227.17L74 228.41L74.22 229.5L74.23 230L74 230.74ZM91 268.03L84 268.1L80.72 268L78.5 267.82L74.5 267.32L72.5 266.96L70.73 266.5L69.81 266L69.8 265.5L70.61 265L73.81 264L75.08 263.5L75.52 263L75.39 262.5L74.44 261L74.04 260L73.87 259L74.03 257.5L74.6 256L76.5 252.69L77.28 251L77.92 249L79.27 243.5L80.03 241.5L80.82 240L81.52 239L82.41 238L84 236.77L85 236.26L86.5 235.7L88 235.24L89 235.06L90 235.12L91 235.55L91.57 236L92.41 237L93 238L93.68 239.5L94.19 241L94.71 243L95.33 247L96.22 257L96.16 258.5L95.99 259.5L95.71 260.5L94.84 262.5L94.8 263L95.29 263.5L96.72 264L100.75 265L101.75 265.5L101.81 266L100.87 266.5L98.5 267.06L93.5 267.79L91 268.03ZM70 222.23L69 222.17L65 221.2L63.09 220.5L62.35 220L61.88 219.5L61.62 219L61.51 218.5L61.54 218L61.71 217.5L62.03 217L62.5 216.5L63.17 216L64.5 215.33L66 214.89L67.5 214.69L69 214.71L70.5 214.97L71.88 215.5L72.62 216L73.09 216.5L73.36 217L73.48 217.5L73.33 218.5L72.75 219.5L71 221.57L70.5 222L70 222.23ZM88.5 268L84.5 268.01L82 267.91L79.5 267.72L75.5 267.24L73.5 266.89L71.94 266.5L70.95 266L70.93 265.5L71.78 265L75.14 264L76.43 263.5L76.84 263L76.68 262.5L75.63 261L75.19 260L75 259L75.12 257.5L75.65 256L77.47 252.5L78 251.26L78.56 249.5L79.38 246L79.94 244L80.74 242L81.5 240.65L82.37 239.5L83 238.86L84.5 237.77L86 237.06L88 236.31L89.5 236.07L90.5 236.29L91 236.57L91.96 237.5L92.5 238.29L93.11 239.5L93.68 241L94.23 243L94.61 245L95.07 249.5L95.49 255.5L95.52 257.5L95.36 259L95.11 260L94.74 261L93.99 262.5L93.92 263L94.3 263.5L95.56 264L99.55 265L100.59 265.5L100.65 266L99.64 266.5L96.5 267.16L91.5 267.82L88.5 268ZM70 221L69 221.24L68 221.16L65.5 220.61L64 220.02L63.29 219.5L62.9 219L62.74 218.5L62.75 218L62.94 217.5L63.5 216.82L64.5 216.14L65.5 215.72L66.5 215.46L68 215.32L69 215.39L70 215.59L71 215.98L71.73 216.5L72.12 217L72.31 217.5L72.33 218L72.21 218.5L71.64 219.5L70.72 220.5L70 221ZM92 267.55L89.5 267.78L87 267.86L84 267.83L81.5 267.69L77.5 267.29L75 266.91L73.18 266.5L72.11 266L72.09 265.5L72.98 265L76.52 264L77.85 263.5L78.24 263L78.03 262.5L76.86 261L76.36 260L76.13 259L76.13 258L76.33 257L76.69 256L78.12 253L78.92 251L80.34 245.5L81.04 243.5L81.79 242L82.46 241L83 240.36L83.95 239.5L85 238.81L86 238.3L88 237.41L89 237.14L90 237.15L90.5 237.32L91 237.62L91.5 238.07L92.2 239L92.74 240L93.32 241.5L93.87 243.5L94.24 245.5L94.71 251L94.91 255.5L94.87 257.5L94.66 259L94.38 260L93.97 261L93.16 262.5L93.02 263L93.32 263.5L94.44 264L98.34 265L99.42 265.5L99.46 266L98.39 266.5L95.5 267.09L92 267.55ZM69.5 220.22L68.5 220.43L67.5 220.36L66 220.02L65 219.59L64.26 219L64 218.5L63.99 218L64.2 217.5L64.66 217L65.47 216.5L67 216.05L68.5 216.01L69.5 216.22L70.18 216.5L70.83 217L71.13 217.5L71.21 218L71.12 218.5L70.51 219.5L70 219.94L69.5 220.22ZM90.5 267.52L88 267.67L85 267.68L82.5 267.57L78.5 267.23L76 266.87L74.27 266.5L73.12 266L73.08 265.5L74.02 265L77.75 264L79.13 263.5L79.52 263L79.25 262.5L78.32 261.5L77.61 260.5L77.21 259.5L77.08 258L77.25 257L77.57 256L79.5 251.41L80.8 246.5L81.46 244.5L82.5 242.46L83.22 241.5L84 240.73L85.5 239.68L87.5 238.61L88.5 238.18L89.5 237.99L90.5 238.21L91 238.53L91.87 239.5L92.44 240.5L92.87 241.5L93.34 243L93.78 245L94.05 247L94.25 249.5L94.4 253.5L94.43 256L94.34 257.5L94.08 259L93.78 260L93.33 261L92.4 262.5L92.2 263L92.46 263.5L93.51 264L97.3 265L98.41 265.5L98.45 266L97.31 266.5L96 266.79L93 267.27L90.5 267.52ZM68 219.53L67 219.39L66 218.96L65.57 218.5L65.5 218.03L65.8 217.5L66.66 217L68 216.83L68.93 217L69.66 217.5L69.88 218L69.81 218.5L69.5 218.97L69 219.31L68.5 219.49L68 219.53ZM87.5 267.51L82 267.39L77.5 266.92L75.29 266.5L74.5 266.19L74.06 266L74.01 265.5L75 265L78.94 264L80.42 263.5L80.81 263L80.46 262.5L79.39 261.5L78.6 260.5L78.13 259.5L77.95 258L78.22 256.5L80.15 251.5L81.86 245.5L82.5 244.05L83 243.21L83.53 242.5L84.5 241.53L85.94 240.5L88 239.28L89 238.89L89.5 238.82L90 238.87L90.5 239.05L91 239.38L91.5 239.91L92.18 241L92.79 242.5L93.22 244L93.59 246L93.81 248L94.03 254.5L93.97 256.5L93.8 258L93.42 259.5L93 260.5L92.5 261.37L91.62 262.5L91.34 263L91.58 263.5L92.64 264L96.35 265L97.48 265.5L97.51 266L96.3 266.5L93.5 267.03L90.5 267.38L87.5 267.51ZM92.5 267L90 267.27L87 267.39L84 267.36L81 267.17L78.5 266.89L76.31 266.5L74.98 266L74.92 265.5L75.96 265L76.5 264.85L80.2 264L81.89 263.5L82.33 263L81.83 262.5L80.5 261.5L80 261.01L79.28 260L78.9 259L78.8 258L78.9 257L79.17 256L80.84 251.5L82.28 246.5L82.91 245L83.49 244L84.5 242.79L86.07 241.5L88 240.18L89 239.73L89.5 239.65L90 239.68L90.5 239.87L91 240.23L91.62 241L92.37 242.5L92.85 244L93.26 246L93.48 248L93.63 250.5L93.62 255.5L93.49 257L93.22 258.5L92.69 260L92.11 261L91.5 261.75L90.23 263L90.5 263.5L91.73 264L95.43 265L96.59 265.5L96.6 266L95.5 266.44L92.5 267ZM91 267.04L88.5 267.22L86 267.27L83.5 267.21L81 267.03L77.26 266.5L75.82 266L75.75 265.5L76.85 265L77.5 264.83L83.77 263.5L84.51 263L82 261.74L81.01 261L80.5 260.46L79.91 259.5L79.63 258.5L79.6 257.5L79.76 256.5L81.34 252L82.86 247L83.82 245L85 243.52L86.71 242L88.5 240.72L89.5 240.4L90 240.44L90.5 240.64L91 241.03L91.38 241.5L92 242.59L92.64 244.5L93.02 246.5L93.27 249L93.35 252L93.3 255L93.17 256.5L92.91 258L92.5 259.3L92 260.3L91.49 261L90.5 261.89L89 262.7L88.19 263L88.84 263.5L94.61 265L95.78 265.5L95.78 266L94.43 266.5L91 267.04ZM88.5 262.06L86.5 262.26L85 262.16L83.5 261.75L82.5 261.26L81.51 260.5L80.76 259.5L80.41 258.5L80.33 257.5L80.46 256.5L80.73 255.5L81.99 252L83.25 248L84.15 246L85.22 244.5L87.21 242.5L88.5 241.49L89.5 241.13L90 241.16L90.5 241.37L91 241.79L91.76 243L92.31 244.5L92.74 246.5L92.96 248.5L93.06 251L93.02 254L92.74 257L92.36 258.5L91.94 259.5L91.27 260.5L90.5 261.23L89.5 261.78L88.5 262.06ZM90 267L87.5 267.13L85 267.14L80.5 266.84L78.17 266.5L77 266.14L76.62 266L76.54 265.5L77.7 265L80.5 264.38L84 263.83L86 263.69L88 263.77L90.5 264.16L93.86 265L95.03 265.5L95.01 266L93.59 266.5L90 267ZM88 261.56L86.5 261.64L85 261.53L84 261.27L83 260.82L81.97 260L81.32 259L81.05 258L81.05 257L81.5 255.09L83.5 249.32L84 247.97L84.73 246.5L86.18 244.5L88 242.59L89 241.93L89.5 241.79L90 241.82L90.5 242.04L91 242.5L91.5 243.28L92 244.5L92.38 246L92.67 248L92.8 250L92.79 253L92.63 255.5L92.4 257L92.14 258L91.74 259L91.11 260L90.5 260.61L90 260.96L89 261.37L88 261.56ZM87.5 267.02L83.5 266.97L79.5 266.58L77.35 266L77.25 265.5L78.48 265L81.5 264.4L83.5 264.13L86 264.01L88 264.06L90 264.27L93.19 265L94.37 265.5L94.33 266L92.82 266.5L90.5 266.84L87.5 267.02ZM89.5 260.55L88 260.92L86.5 260.98L85 260.82L84 260.51L83.12 260L82.5 259.39L82 258.5L81.81 257.5L81.87 256.5L82.26 255L84.46 249L85.13 247.5L86.35 245.5L87.5 244L88.5 243.01L89 242.69L89.5 242.53L90 242.55L90.5 242.8L91 243.31L91.62 244.5L92 245.69L92.33 247.5L92.54 251L92.36 255L91.88 257.5L91.5 258.51L91 259.34L90.38 260L89.5 260.55ZM91.5 266.57L89.5 266.8L87.5 266.9L85 266.9L82.5 266.78L80 266.5L79 266.26L78.14 266L78.03 265.5L79.35 265L81 264.67L83.5 264.33L86 264.2L88.5 264.29L90.5 264.56L92.46 265L93.66 265.5L93.61 266L91.5 266.57ZM89 260.08L88 260.26L86.5 260.29L85.5 260.17L84.5 259.88L83.5 259.23L83 258.6L82.74 258L82.62 257L82.74 256L83.19 254.5L85.34 249L86.27 247L87.14 245.5L88.31 244L89 243.44L89.5 243.26L90 243.28L90.5 243.54L91 244.12L91.5 245.16L91.87 246.5L92.12 248L92.24 249.5L92.22 253L91.88 256L91.64 257L91.26 258L90.5 259.16L90 259.6L89 260.08ZM91 266.51L87 266.79L82.5 266.66L81 266.5L78.91 266L78.78 265.5L80.21 265L81.5 264.76L84 264.47L86 264.39L88 264.45L90 264.65L91.74 265L93 265.5L92.92 266L91 266.51ZM88.5 259.57L87.5 259.63L86 259.51L84.58 259L84 258.5L83.69 258L83.51 257.5L83.46 256.5L83.65 255.5L83.97 254.5L86.3 248.5L87.2 246.5L88 245.19L88.58 244.5L89 244.15L89.5 243.94L90 243.95L90.5 244.25L91 244.91L91.45 246L91.7 247L91.92 248.5L92.02 250L91.92 253.5L91.55 256L91 257.63L90.5 258.43L90 258.93L89.5 259.25L88.5 259.57ZM90 266.52L86 266.7L82.02 266.5L79.62 266L79.47 265.5L81.03 265L82 264.84L84 264.62L86 264.55L88 264.6L90 264.81L91.04 265L92.4 265.5L92.29 266L90 266.52ZM89.5 258.52L89 258.72L88 258.85L87 258.76L85.94 258.5L85 257.88L84.74 257.5L84.55 257L84.5 256.5L84.79 255L85.91 252L87.36 247.5L87.82 246.5L88.46 245.5L89 244.94L89.5 244.69L90 244.7L90.5 245.03L91.07 246L91.58 248L91.76 251L91.57 254L91.17 256L91 256.55L90.5 257.56L90 258.15L89.5 258.52ZM88.5 266.52L85.5 266.59L83 266.46L80.39 266L80.21 265.5L82.5 264.92L86 264.69L89.5 264.89L90.5 265.08L91.76 265.5L91.61 266L90 266.35L88.5 266.52ZM88.5 258.01L87.5 257.86L86.5 257.36L86.14 257L85.91 256.5L85.86 255.5L87.27 249.5L87.92 247.5L88.5 246.37L89 245.76L89.5 245.45L90 245.46L90.5 245.86L90.84 246.5L91.27 248L91.5 250.5L91.37 253L91 255.24L90.5 256.59L90 257.31L89.5 257.72L89 257.93L88.5 258.01ZM90.5 266.1L87.5 266.46L84.5 266.45L83 266.31L81.16 266L80.94 265.5L82.5 265.1L84 264.91L86 264.83L88 264.89L89.5 265.06L91.12 265.5L90.93 266L90.5 266.1ZM89.5 256.6L89 256.79L88.5 256.76L87.98 256.5L87.57 256L87.38 255.5L87.28 254.5L87.56 251.5L88.04 249L88.6 247.5L89 246.86L89.5 246.45L90 246.47L90.5 247L91 248.6L91.14 250.5L91 253L90.69 254.5L90.5 255.15L90.07 256L89.5 256.6ZM90 266.01L87.5 266.29L84.5 266.28L82.13 266L81.86 265.5L84.5 265.04L87.5 265.03L89 265.21L90.29 265.5L90 266.01ZM89.5 254.92L89 254.95L88.64 254.5L88.45 254L88.31 252.5L88.39 251L88.65 249.5L89 248.45L89.5 247.83L90 247.87L90.35 248.5L90.53 249L90.66 250.5L90.6 252L90.44 253L90 254.33L89.5 254.92ZM88.5 266.03L86 266.15L84 266.06L83.42 266L83 265.5L84.5 265.29L86 265.21L87.5 265.27L89.19 265.5L88.77 266L88.5 266.03Z" fill="none" stroke="#111" stroke-width="0.5"/>
</g>
<rect x="41" y="180.5" width="88.5" height="86.5" fill="none" stroke="#555" stroke-width="0.8"/>
<path d="M38.4 190.3L41 190.3" stroke="#222" stroke-width="0.9"/>
<text x="22.9" y="193.55" font-size="9.1" stroke="#222" stroke-width="0.22" textLength="8.7" lengthAdjust="spacingAndGlyphs">10</text>
<text x="31.8" y="189.65" font-size="5.9" stroke="#222" stroke-width="0.22" textLength="3.1" lengthAdjust="spacingAndGlyphs">5</text>
<path d="M38.4 209.8L41 209.8" stroke="#222" stroke-width="0.9"/>
<text x="22.9" y="213.05" font-size="9.1" stroke="#222" stroke-width="0.22" textLength="8.7" lengthAdjust="spacingAndGlyphs">10</text>
<text x="31.8" y="209.15" font-size="5.9" stroke="#222" stroke-width="0.22" textLength="3.1" lengthAdjust="spacingAndGlyphs">4</text>
<path d="M38.4 228.9L41 228.9" stroke="#222" stroke-width="0.9"/>
<text x="22.9" y="232.15" font-size="9.1" stroke="#222" stroke-width="0.22" textLength="8.7" lengthAdjust="spacingAndGlyphs">10</text>
<text x="31.8" y="228.25" font-size="5.9" stroke="#222" stroke-width="0.22" textLength="3.1" lengthAdjust="spacingAndGlyphs">3</text>
<path d="M38.4 249L41 249" stroke="#222" stroke-width="0.9"/>
<text x="22.9" y="252.25" font-size="9.1" stroke="#222" stroke-width="0.22" textLength="8.7" lengthAdjust="spacingAndGlyphs">10</text>
<text x="31.8" y="248.35" font-size="5.9" stroke="#222" stroke-width="0.22" textLength="3.1" lengthAdjust="spacingAndGlyphs">2</text>
<path d="M38.4 263.9L41 263.9" stroke="#222" stroke-width="0.9"/>
<text x="35.4" y="267.15" font-size="9.1" stroke="#222" stroke-width="0.22" text-anchor="end" textLength="4.4" lengthAdjust="spacingAndGlyphs">0</text>
<path d="M39.6 243.1h1.4M39.6 239.65h1.4M39.6 237.2h1.4M39.6 235.3h1.4M39.6 233.75h1.4M39.6 232.44h1.4M39.6 231.3h1.4M39.6 230.3h1.4M39.6 223h1.4M39.6 219.55h1.4M39.6 217.1h1.4M39.6 215.2h1.4M39.6 213.65h1.4M39.6 212.34h1.4M39.6 211.2h1.4M39.6 210.2h1.4M39.6 203.9h1.4M39.6 200.45h1.4M39.6 198h1.4M39.6 196.1h1.4M39.6 194.55h1.4M39.6 193.24h1.4M39.6 192.1h1.4M39.6 191.1h1.4M39.6 251.9h1.4M39.6 254.8h1.4M39.6 257.7h1.4M39.6 260.6h1.4M39.6 263.5h1.4" stroke="#333" stroke-width="0.6"/>
<text x="45.2" y="281.1" font-size="9.1" stroke="#222" stroke-width="0.22" text-anchor="middle" textLength="4.4" lengthAdjust="spacingAndGlyphs">0</text>
<path d="M45.2 267L45.2 269.6" stroke="#222" stroke-width="0.9"/>
<text x="55.2" y="281.1" font-size="9.1" stroke="#222" stroke-width="0.22" textLength="8.7" lengthAdjust="spacingAndGlyphs">10</text>
<text x="64.1" y="277.2" font-size="5.9" stroke="#222" stroke-width="0.22" textLength="3.1" lengthAdjust="spacingAndGlyphs">2</text>
<path d="M61.4 267L61.4 269.6" stroke="#222" stroke-width="0.9"/>
<text x="76" y="281.1" font-size="9.1" stroke="#222" stroke-width="0.22" textLength="8.7" lengthAdjust="spacingAndGlyphs">10</text>
<text x="84.9" y="277.2" font-size="5.9" stroke="#222" stroke-width="0.22" textLength="3.1" lengthAdjust="spacingAndGlyphs">3</text>
<path d="M82.2 267L82.2 269.6" stroke="#222" stroke-width="0.9"/>
<text x="96.2" y="281.1" font-size="9.1" stroke="#222" stroke-width="0.22" textLength="8.7" lengthAdjust="spacingAndGlyphs">10</text>
<text x="105.1" y="277.2" font-size="5.9" stroke="#222" stroke-width="0.22" textLength="3.1" lengthAdjust="spacingAndGlyphs">4</text>
<path d="M102.4 267L102.4 269.6" stroke="#222" stroke-width="0.9"/>
<text x="114.8" y="281.1" font-size="9.1" stroke="#222" stroke-width="0.22" textLength="8.7" lengthAdjust="spacingAndGlyphs">10</text>
<text x="123.7" y="277.2" font-size="5.9" stroke="#222" stroke-width="0.22" textLength="3.1" lengthAdjust="spacingAndGlyphs">5</text>
<path d="M121 267L121 269.6" stroke="#222" stroke-width="0.9"/>
<path d="M67.48 267v1.4M71.04 267v1.4M73.56 267v1.4M75.52 267v1.4M77.12 267v1.4M78.47 267v1.4M79.64 267v1.4M80.68 267v1.4M88.28 267v1.4M91.84 267v1.4M94.36 267v1.4M96.32 267v1.4M97.92 267v1.4M99.27 267v1.4M100.44 267v1.4M101.48 267v1.4M108.48 267v1.4M112.04 267v1.4M114.56 267v1.4M116.52 267v1.4M118.12 267v1.4M119.47 267v1.4M120.64 267v1.4M121.68 267v1.4M48 267v1.4M50.8 267v1.4M53.6 267v1.4M56.4 267v1.4M59.2 267v1.4" stroke="#333" stroke-width="0.6"/>
<text x="86.75" y="294.2" font-size="10.5" stroke="#222" stroke-width="0.22" text-anchor="middle" textLength="20" lengthAdjust="spacingAndGlyphs">CD19</text>
<text x="16.2" y="221.5" font-size="10.4" stroke="#222" stroke-width="0.22" text-anchor="middle" textLength="20" lengthAdjust="spacingAndGlyphs" transform="rotate(-90 16.2 221.5)">CD33</text>
<path d="M42 253L59.3 244.5L76.6 229.1L83.1 214.2L83.8 198.8L67.6 192.4L42 195.1L42 253" stroke="#5a66f0" stroke-width="0.8" fill="none" stroke-linejoin="round"/>
<path d="M59.3 267L59.3 244.5L76.6 229.1L90.1 221L101.2 222.2L103.9 249.6L108.6 267" stroke="#5a66f0" stroke-width="0.8" fill="none" stroke-linejoin="round"/>
<text x="86.7" y="196.7" font-size="7.2" stroke="#4450ee" stroke-width="0.12" fill="#4450ee" textLength="12.1" lengthAdjust="spacingAndGlyphs">8.38</text>
<text x="112.2" y="240" font-size="7.2" stroke="#4450ee" stroke-width="0.12" fill="#4450ee" textLength="12.1" lengthAdjust="spacingAndGlyphs">90.9</text>
<clipPath id="c4"><rect x="168.5" y="180.3" width="88.5" height="88.2"/></clipPath>
<g clip-path="url(#c4)">
<path d="M171.5 198.75h0m-.5 2.75h0m-2.25 1.25h0m-.25 1h0m.25 0h0m31.75 .25h0m-15.5 .25h0m-13.25 1.25h0m17.75 .25h0m-2 .25h0m2.25 0h0m6.5 0h0m6.5 0h0m5.75 0h0m-29 .75h0m11.75 0h0m-3.25 .25h0m6.25 0h0m5 0h0m-10 .25h0m.75 0h0m-8.5 .25h0m1.75 0h0m5 0h0m9.75 0h0m4.75 0h0m3.5 0h0m-14 .25h0m1.25 0h0m4.25 0h0m-23.75 .25h0m.25 0h0m17.25 0h0m.25 0h0m-18.25 .25h0m1.25 0h0m3.75 0h0m11.25 0h0m2.5 0h0m.75 0h0m8.25 0h0m-22 .25h0m17 0h0m3.75 0h0m7 .25h0m-30.25 .5h0m21 0h0m1.25 .25h0m4.25 0h0m1.25 0h0m-5.25 .25h0m3 0h0m4 .25h0m-4.5 .25h0m0 .25h0m4 0h0m2.25 .25h0m.5 0h0m-1 .25h0m3.25 .25h0m1.25 .25h0m-1.5 .5h0m2.5 0h0m-8 .25h0m.75 0h0m-.25 .25h0m3.25 .25h0m-2.75 .25h0m.25 .25h0m.25 0h0m1 0h0m.5 .25h0m4.75 0h0m-3.5 .5h0m1.25 0h0m-2.5 .5h0m1.75 0h0m-1.5 .25h0m4 .5h0m-3.75 .25h0m.5 0h0m4 0h0m7.75 0h0m-9.75 .25h0m2.75 0h0m-5.5 .25h0m4 0h0m1.25 0h0m-6.5 .25h0m.25 0h0m4.25 .5h0m.5 0h0m2.75 0h0m-4 .25h0m0 .5h0m1.75 0h0m-6.25 .25h0m11.5 0h0m1.5 0h0m-10.5 .25h0m5.5 0h0m3.25 0h0m-10.75 .25h0m8.25 0h0m-2.75 .25h0m.5 0h0m4 0h0m8 0h0m-12 .25h0m-8.25 .5h0m8.25 0h0m15.25 .5h0m-22 .25h0m.75 0h0m3 0h0m6.25 0h0m1.5 0h0m-13 .25h0m1.75 0h0m-3.25 .25h0m4.25 .25h0m-1.25 .25h0m2.25 .25h0m20 0h0m-14.75 .25h0m-37.25 .25h0m50.25 0h0m1.25 0h0m-54.5 .25h0m.75 0h0m.5 0h0m.75 0h0m2.25 0h0m23.5 0h0m4.5 0h0m1 0h0m7.25 0h0m16.5 0h0m-35.25 .25h0m2.5 0h0m7.25 0h0m-28.25 .25h0m27.75 0h0m12 0h0m5 0h0m-46.25 .25h0m1.5 0h0m1.25 0h0m2.75 0h0m1 0h0m3 0h0m9.75 0h0m3.5 0h0m1.25 0h0m1 0h0m9 0h0m.25 0h0m7.75 0h0m1.25 0h0m5 0h0m-50 .25h0m4.5 0h0m9.25 0h0m9 0h0m18 0h0m8.75 0h0m-43.25 .25h0m8.75 0h0m2.5 0h0m3.5 0h0m2 0h0m1.25 0h0m16.75 0h0m5.25 0h0m.75 0h0m-28.25 .25h0m.5 0h0m4.25 0h0m1 0h0m6.25 0h0m17.5 0h0m-48 .25h0m8 0h0m16.25 0h0m7.25 0h0m4.5 0h0m14.5 0h0m-41 .25h0m2.25 0h0m16.75 0h0m11 0h0m6 0h0m-37.75 .25h0m2.5 0h0m.5 0h0m.5 0h0m11.75 0h0m4.25 0h0m7 0h0m11.5 0h0m-43 .25h0m6.75 0h0m1.5 0h0m9 0h0m13.25 0h0m2.5 0h0m11.5 0h0m5.5 0h0m-54.25 .25h0m1.25 0h0m.25 0h0m31.25 0h0m4.25 0h0m.25 0h0m1 0h0m8.5 0h0m-39.5 .25h0m20.5 0h0m7.75 0h0m10.25 0h0m13.25 0h0m-59 .25h0m11.75 0h0m14.75 0h0m-26.25 .25h0m17.25 0h0m2.25 0h0m8.5 0h0m3.75 0h0m.25 0h0m1 0h0m6.75 0h0m6 0h0m-46.5 .25h0m11.25 0h0m1 0h0m1.75 0h0m11.25 0h0m1 0h0m23.5 0h0m-47.75 .25h0m7.25 0h0m27 0h0m11.25 0h0m2.5 0h0m2 0h0m-46 .25h0m32.25 0h0m10 0h0m-47.5 .25h0m5.25 0h0m1.25 0h0m3.75 0h0m1.25 0h0m14.75 0h0m3.5 0h0m6 0h0m4 0h0m8.5 0h0m5.75 0h0m-23 .25h0m-34.75 .25h0m1 0h0m27.5 0h0m9.5 0h0m13.75 0h0m-45.75 .25h0m20.25 0h0m8.5 0h0m18.5 0h0m.5 0h0m4.5 0h0m-55.5 .25h0m8 0h0m2.5 0h0m2.5 0h0m1.25 0h0m17.5 0h0m.5 0h0m1 0h0m2.5 0h0m14.5 0h0m3.5 0h0m-55.25 .25h0m29.75 0h0m5 0h0m-32.75 .25h0m5.25 0h0m16.75 0h0m11.5 0h0m2.5 0h0m-28.5 .25h0m.25 0h0m19.5 0h0m24.5 0h0m1 0h0m-28.5 .25h0m7.25 0h0m24.5 0h0m-55.75 .25h0m9 0h0m13 0h0m.25 0h0m2 0h0m3.25 0h0m3.5 0h0m3.75 0h0m27.75 0h0m-65.25 .25h0m1.75 0h0m14.75 0h0m6.5 0h0m9.5 0h0m-32.75 .25h0m2 0h0m3.25 0h0m8.5 0h0m12.5 0h0m-18.5 .25h0m1.25 0h0m2.5 0h0m22.25 0h0m1.75 0h0m2 0h0m-3.5 .25h0m2.25 0h0m.5 0h0m17.75 0h0m.25 0h0m-22.25 .25h0m3.25 0h0m.25 0h0m.25 0h0m22.5 0h0m-55 .25h0m4.5 0h0m2.5 0h0m16.5 0h0m8 0h0m30.5 0h0m-61 .25h0m11.25 0h0m7.25 0h0m3 0h0m3.25 0h0m5.5 0h0m22 0h0m1.25 0h0m-55.25 .25h0m7.5 0h0m7.5 0h0m9.25 0h0m7.5 0h0m20.25 0h0m4.5 0h0m-54.25 .25h0m5.25 0h0m5.25 0h0m.75 0h0m14 0h0m.25 0h0m4.5 0h0m21.25 0h0m1.25 0h0m2.5 0h0m-34 .25h0m7.25 0h0m21.75 0h0m.25 0h0m-46.75 .25h0m.25 0h0m1.5 0h0m19.25 0h0m3 0h0m2.75 0h0m.25 0h0m20 0h0m-51.25 .25h0m3.25 0h0m26.75 0h0m21 0h0m3.75 0h0m3.5 0h0m-58.25 .25h0m2.75 .25h0m15.75 0h0m36.5 0h0m-54.5 .25h0m3.75 0h0m19.75 0h0m4 0h0m-30 .25h0m4.75 0h0m1 0h0m.5 0h0m47.75 0h0m-53 .25h0m.75 0h0m6.25 0h0m5 0h0m.25 0h0m41.75 0h0m-43.25 .25h0m9 0h0m3.5 0h0m-23.25 .25h0m6.5 0h0m5.5 0h0m16.25 0h0m-21.75 .25h0m46.25 0h0m3.75 0h0m-55 .25h0m4 0h0m5 0h0m9 0h0m7 0h0m-1.75 .25h0m-23.75 .25h0m19 0h0m8 0h0m-16 .25h0m8.5 0h0m7.25 0h0m1.5 0h0m25.5 0h0m3.75 0h0m-56.5 .25h0m4.5 0h0m5.75 0h0m8.75 0h0m2.75 0h0m31 0h0m-44 .25h0m16 0h0m29.25 0h0m-53.5 .25h0m6 0h0m45.75 0h0m2.75 0h0m12.25 0h0m-64.25 .25h0m13.5 0h0m8 0h0m-15.75 .25h0m2.5 0h0m12.75 0h0m3 0h0m.5 0h0m-27 .25h0m6.25 0h0m4.75 0h0m40.75 0h0m3.75 0h0m-54.5 .25h0m3.5 0h0m-8.75 .25h0m10.5 0h0m18.75 0h0m27.25 0h0m.25 0h0m-56.5 .25h0m6.75 0h0m8 0h0m42 0h0m.75 0h0m1 0h0m10.5 0h0m-63.75 .25h0m3 0h0m4.5 0h0m-4 .25h0m-11.25 .25h0m12.75 0h0m1.75 0h0m2.75 0h0m14.75 0h0m26.5 0h0m-52.25 .5h0m5 0h0m1 0h0m2 0h0m46 0h0m-59.5 .25h0m27.75 0h0m31.25 0h0m.25 0h0m3 0h0m-49.5 .25h0m.25 0h0m18 0h0m30 0h0m-58.75 .25h0m1.5 0h0m.75 0h0m3.75 0h0m13 0h0m6.5 0h0m-14.25 .25h0m7.25 0h0m3.75 0h0m4 0h0m30.75 0h0m1.5 0h0m-49.75 .25h0m2 0h0m16.25 0h0m-20.5 .25h0m50.25 0h0m-56.75 .25h0m.5 0h0m5.25 0h0m22.5 0h0m-23.25 .25h0m3.25 0h0m19.5 0h0m29.5 0h0m-54 .25h0m11.25 0h0m5.5 0h0m-19.5 .25h0m3.5 0h0m9.25 0h0m1.25 0h0m11.5 0h0m.25 0h0m-26 .25h0m1.5 0h0m9.5 0h0m16.5 0h0m-20 .25h0m50 0h0m.5 0h0m-53.75 .25h0m8.75 0h0m2 0h0m2.75 0h0m4.25 0h0m35.25 0h0m-56.25 .25h0m6.5 0h0m9.5 0h0m39.25 0h0m-52.5 .25h0m7.5 0h0m14 0h0m.5 0h0m-14.25 .25h0m.5 0h0m12.5 0h0m1.25 0h0m2.25 0h0m34.5 0h0m-64 .25h0m22.75 0h0m-22 .25h0m1 0h0m3.5 0h0m19.5 0h0m-17.75 .25h0m3 0h0m18.25 0h0m-28 .25h0m8 0h0m3.25 0h0m.5 0h0m2.25 0h0m2.25 0h0m5.25 0h0m6.75 .25h0m-18.25 .25h0m3.5 0h0m6.5 0h0m5.5 0h0m.75 0h0m31.5 0h0m2.25 0h0m.75 0h0m.25 0h0m-50.25 .25h0m1 0h0m13 0h0m-24.75 .25h0m1 0h0m5 0h0m7 0h0m2.25 0h0m2 0h0m4.25 0h0m-16.75 .25h0m4 0h0m1.5 0h0m.25 0h0m.5 0h0m1 0h0m51 0h0m-59.75 .25h0m6.25 0h0m.5 0h0m3.25 0h0m5.25 0h0m5.25 0h0m34.75 0h0m-49.5 .25h0m1.75 0h0m10 0h0m1 0h0m7.5 0h0m-22.75 .25h0m20.25 0h0m.75 0h0m-26.5 .25h0m8.5 0h0m2 0h0m3.75 0h0m4.25 0h0m2 0h0m5.5 0h0m-23.75 .25h0m.25 0h0m9 0h0m5.25 0h0m7 0h0m34.75 0h0m-51 .25h0m1.25 0h0m5 0h0m1.25 0h0m.25 0h0m2.75 0h0m9 0h0m31.5 0h0m-52.75 .25h0m4.25 0h0m5.25 0h0m2.25 0h0m-17.5 .25h0m9.25 0h0m2.5 0h0m2 0h0m11 0h0m.25 0h0m37.5 0h0m-41.75 .25h0m6.75 0h0m.25 0h0m-27.5 .25h0m.25 0h0m6 0h0m2.25 0h0m17.25 .25h0m1 0h0m-17.25 .25h0m11 0h0m-19.75 .25h0m1 0h0m1.75 0h0m1.75 0h0m2.5 0h0m4.75 0h0m-14.25 .25h0m.5 0h0m1 0h0m4.5 0h0m1 0h0m5.5 0h0m2.5 0h0m1.75 0h0m-8.75 .25h0m.75 0h0m12 0h0m-18.5 .25h0m5.75 0h0m1 0h0m11 0h0m5.75 0h0m37.5 0h0m-57.75 .25h0m23.5 0h0m-23.75 .25h0m12.25 0h0m10 0h0m31.25 0h0m-57.5 .25h0m2.75 0h0m5.25 0h0m2.75 0h0m7.25 0h0m7.5 0h0m.25 0h0m.5 0h0m-24.5 .25h0m9 0h0m16 0h0m-22 .25h0m4.25 0h0m9 0h0m2 0h0m.5 0h0m6.25 0h0m35 0h0m-57.5 .25h0m7.75 0h0m2.75 0h0m12.75 0h0m30.25 0h0m-58.25 .25h0m7.5 0h0m2 0h0m6.5 0h0m6.25 0h0m2.5 0h0m1.5 0h0m32 0h0m-51.25 .25h0m2.75 0h0m1.75 0h0m3.75 0h0m10.5 0h0m1.25 0h0m-2 .25h0m2 0h0m-24 .25h0m20.75 0h0m-22.5 .25h0m22.75 0h0m34.5 0h0m-56.75 .25h0m1.5 0h0m.5 0h0m55 0h0m9.75 0h0m-65.5 .25h0m13.5 0h0m5.75 0h0m37.75 0h0m-59.75 .25h0m17.25 0h0m-9.25 .25h0m7.75 0h0m5 0h0m3.75 0h0m33.75 0h0m-55.25 .25h0m13 0h0m8.5 0h0m.25 0h0m.75 0h0m1 0h0m35.5 0h0m.25 0h0m-58.75 .25h0m9.25 0h0m4.5 0h0m4 0h0m-18 .25h0m2.5 0h0m3.75 0h0m7.5 0h0m6.25 0h0m35.75 0h0m-38.25 .25h0m1 0h0m38 0h0m-54.5 .25h0m5 0h0m13.75 0h0m-20.25 .25h0m8.5 0h0m54 0h0m-67.75 .25h0m16 0h0m10 0h0m34.25 0h0m2.5 0h0m-54.5 .25h0m17.5 0h0m.75 0h0m-20 .25h0m2.5 0h0m7.5 0h0m9 0h0m1.25 0h0m35.25 0h0m-56.25 .25h0m2.5 0h0m.75 0h0m12.75 0h0m43 0h0m-59.25 .25h0m1 0h0m4.75 0h0m-4.25 .25h0m2.5 0h0m13.75 0h0m41.5 0h0m-56.5 .25h0m11.5 0h0m1.25 0h0m48 0h0m-67.75 .25h0m9.5 0h0m9.25 0h0m1 0h0m4.75 0h0m-21.25 .25h0m8.5 0h0m10.75 0h0m.75 0h0m1 0h0m-12.25 .25h0m7.25 .25h0m-9 .25h0m.5 0h0m6.25 0h0m6.75 0h0m38.5 0h0m-61 .25h0m.75 0h0m5.75 0h0m2.5 0h0m4.75 0h0m8.25 0h0m-19.5 .25h0m8.25 0h0m.25 0h0m7 0h0m-17.5 .25h0m10.75 0h0m7.5 0h0m43.75 0h0m-64 .25h0m17 0h0m1.75 0h0m2 0h0m45.25 0h0m-62 .25h0m18.5 0h0m38.25 0h0m.75 0h0m-60.5 .25h0m9.5 0h0m7 0h0m44.25 0h0m11 0h0m-50 .25h0m.5 0h0m39.25 0h0m-60.25 .25h0m-2.25 .25h0m19 0h0m2 0h0m-15.5 .25h0m2.25 0h0m2.75 0h0m11.5 0h0m1 0h0m37 0h0m-57 .25h0m8 0h0m8.75 0h0m-15.75 .25h0m3.25 0h0m15 0h0m-8.25 .25h0m46.25 0h0m1 0h0m-47.5 .25h0m7 0h0m48.75 0h0m-65 .25h0m63 0h0m4.5 0h0m-67.5 .25h0m8.75 0h0m54.75 0h0m-65 .25h0m18.75 0h0m42.25 0h0m-62 .25h0m7.25 0h0m2.75 0h0m4.75 0h0m3 .5h0m1.75 0h0m3.5 0h0m-21.75 .25h0m1 0h0m3.75 0h0m8 0h0m1.75 0h0m2.25 0h0m4.5 0h0m42 0h0m-62 .25h0m6 0h0m12.75 0h0m44 0h0m-60 .25h0m17 0h0m1 0h0m-11.25 .25h0m9.5 0h0m1 0h0m39.75 0h0m-57.25 .25h0m7 0h0m44.5 0h0m.75 0h0m.5 0h0m1.5 0h0m2.5 0h0m-61.5 .25h0m2.75 0h0m8.25 0h0m11 0h0m37.25 0h0m-57.25 .25h0m1.75 0h0m10.5 0h0m5 0h0m2.75 0h0m-20.25 .25h0m7.25 0h0m7 0h0m7.75 0h0m32.25 0h0m1.25 0h0m5.5 0h0m-59.75 .25h0m9.5 0h0m.75 0h0m6.5 0h0m1.5 0h0m39.25 0h0m.75 0h0m-55.5 .25h0m3 0h0m2.25 0h0m8 0h0m2 0h0m-22 .25h0m4.25 0h0m10.75 0h0m5.25 0h0m3.5 0h0m36.25 0h0m5 0h0m-61 .25h0m6.5 0h0m.75 0h0m2.5 0h0m5.5 .25h0m1.25 0h0m44.75 0h0m.25 0h0m-67.25 .25h0m.25 0h0m21 0h0m-15.75 .25h0m5.5 0h0m54 0h0m1.75 0h0m-66 .25h0m2.75 0h0m5.75 0h0m1.75 0h0m9 0h0m.25 0h0m45 0h0m-51.75 .25h0m3.75 0h0m6.25 0h0m43.25 0h0m-61.25 .25h0m67.25 0h0m-68.75 .25h0m11.25 0h0m5 0h0m47.25 0h0m1.25 0h0m-59.75 .25h0m11.25 0h0m54.75 0h0m-55.75 .25h0m3 0h0m-15.75 .25h0m13.5 0h0m49.25 0h0m1.75 0h0m-51.75 .25h0m50.75 0h0m-47.25 .25h0m46.5 0h0" stroke="#333" stroke-width=".55" stroke-linecap="square" transform="translate(.28 .28)"/>
<path d="M170.5 226.41L170 226.63L169.5 226.58L169 226.26L168.27 225.3L167.5 223.47L167.31 222.3L167.16 220.3L167.1 211.8L167.19 209.3L167.39 207.3L167.61 206.3L168.27 204.8L169 203.86L169.5 203.56L170 203.53L170.5 203.78L171 204.29L171.83 205.8L173 209.04L173.5 209.71L174 209.88L179 208.92L181.5 208.6L184 208.41L187 208.35L190 208.43L192.5 208.62L195 208.94L197.5 209.41L199.5 209.91L201.5 210.55L203 211.18L204.5 212L205.6 212.8L206.53 213.8L207.03 214.8L207.14 215.8L206.86 216.8L206.17 217.8L205 218.8L203.5 219.69L201.5 220.56L198.5 221.49L196.5 221.93L193.5 222.39L191 222.63L187.5 222.77L184 222.76L180 222.47L177.5 222.06L174.5 221.32L174 221.24L173.5 221.34L173 221.81L171.41 225.3L171 225.92L170.5 226.41ZM223.5 269.83L219.5 270.04L213.5 270.11L208 270.03L204 269.8L199 268.99L195.5 268.26L194.07 267.8L193.5 267.47L193.22 267.3L193.08 266.8L193.56 266.3L194 266.07L196.84 264.8L197.24 264.3L197.13 263.8L196.14 262.3L195.43 260.8L195.12 259.3L195.18 257.8L195.42 256.8L195.8 255.8L198.03 251.8L198.51 250.8L199 249.47L199.5 247.32L200.13 243.3L200.65 240.8L201.38 238.3L202.37 235.8L203.39 233.8L204.33 232.3L205.48 230.8L206.5 229.71L208 228.43L209 227.77L210.5 227.03L211.5 226.69L213 226.4L214.5 226.35L219 226.95L220 227.19L221 227.63L222 228.38L222.83 229.3L223.52 230.3L224.36 231.8L225.26 233.8L226.35 236.8L227.2 239.8L227.91 243.3L228.85 251.3L229.81 256.3L229.94 258.3L229.78 259.8L229.35 261.3L228.39 263.3L228.28 263.8L228.65 264.3L230 264.8L234.5 265.84L235.81 266.3L236.48 266.8L236.39 267.3L235.52 267.8L233.5 268.37L229.5 269.06L223.5 269.83Z" fill="#fff" fill-rule="evenodd"/>
<path d="M170 219.77L169.5 219.68L168.94 218.8L168.54 217.3L168.36 215.3L168.47 213.3L168.94 211.3L169.5 210.4L170 210.33L170.5 210.86L171 212.23L171.28 213.8L171.35 215.3L171.24 216.8L171 217.97L170.5 219.26L170 219.77ZM214.5 260.84L213.5 260.97L212.5 260.92L211 260.46L210 259.8L209.53 259.3L208.98 258.3L208.78 257.3L208.87 255.8L210.84 248.3L211.5 246.52L212 245.69L212.5 245.13L213 244.76L213.5 244.53L215.5 244.19L216 243.92L216.5 243.4L218.08 240.8L219 239.59L219.5 239.2L220 239.04L220.5 239.13L221 239.51L221.21 239.8L221.5 240.25L221.93 241.3L222.31 242.8L222.59 244.8L222.68 246.8L222.57 249.3L222.23 251.8L221.78 253.8L221 255.98L220.5 256.86L220 257.49L219 258.35L216.86 259.8L215.5 260.52L214.5 260.84ZM217.5 267.84L214 267.93L211 267.79L208.11 267.3L207.62 266.8L208.77 266.3L210 266.07L212 265.84L214 265.76L216.5 265.85L219 266.12L220.1 266.3L221.51 266.8L221.09 267.3L219.5 267.61L217.5 267.84Z" fill="#999" fill-rule="evenodd"/>
<path d="M170 219.19L169.5 219.09L169 218.25L168.67 216.8L168.54 215.3L168.67 213.3L169 211.86L169.5 211L170 210.91L170.5 211.52L170.9 212.8L171.08 213.8L171.15 215.3L171.03 216.8L170.8 217.8L170.5 218.61L170 219.19ZM214.5 259.39L213.5 259.57L212.5 259.47L211.5 259.03L210.77 258.3L210.5 257.8L210.3 256.8L210.36 255.8L210.73 254.3L212 250.76L212.5 249.58L213 248.74L213.5 248.23L214 247.99L215.5 247.76L216 247.28L216.5 246.29L217.82 242.8L218.58 241.3L219 240.7L219.5 240.22L220 240.03L220.5 240.12L221 240.56L221.63 241.8L222.04 243.3L222.29 245.3L222.34 247.3L222.21 249.3L222 250.8L221.5 252.88L221 254.2L220.5 255.1L220 255.7L219.5 256.09L218 256.76L217.5 257.08L215.64 258.8L214.5 259.39ZM219 267.36L216 267.66L213 267.66L209.77 267.3L209.13 266.8L211 266.26L214.5 266.05L218.12 266.3L219.97 266.8L219.39 267.3L219 267.36Z" fill="#666" fill-rule="evenodd"/>
<path d="M170 218.79L169.5 218.68L169 217.71L168.8 216.8L168.67 215.3L168.74 213.8L169 212.41L169.5 211.42L170 211.32L170.5 212L170.74 212.8L170.93 213.8L171.02 215.3L170.87 216.8L170.62 217.8L170.5 218.14L170 218.79ZM220 254.48L219.5 254.73L219 254.76L218.5 254.58L218.13 254.3L217.72 253.8L217.29 252.8L217.18 252.3L216.97 249.8L217.19 246.8L217.93 243.8L218.5 242.37L219 241.5L219.5 240.95L220 240.71L220.5 240.81L221 241.3L221.5 242.34L221.95 244.3L222.12 246.8L221.96 249.3L221.5 251.64L221 253.06L220.5 253.94L220 254.48ZM214 258.01L213.5 258.1L213 258.05L212.44 257.8L211.99 257.3L211.76 256.3L212 254.96L212.5 253.89L213 253.19L213.5 252.78L214 252.65L214.5 252.82L215.02 253.3L215.56 254.3L215.72 255.3L215.57 256.3L215.36 256.8L215 257.34L214.5 257.79L214 258.01ZM217.5 267.35L215 267.5L212.5 267.43L211.18 267.3L210.32 266.8L212.5 266.33L214.5 266.25L216.5 266.36L218.73 266.8L217.93 267.3L217.5 267.35Z" fill="#222" fill-rule="evenodd"/>
<path d="M170.5 226.41L170 226.63L169.5 226.58L169 226.26L168.27 225.3L167.5 223.47L167.31 222.3L167.16 220.3L167.1 211.8L167.19 209.3L167.39 207.3L167.61 206.3L168.27 204.8L169 203.86L169.5 203.56L170 203.53L170.5 203.78L171 204.29L171.83 205.8L173 209.04L173.5 209.71L174 209.88L179 208.92L181.5 208.6L184 208.41L187 208.35L190 208.43L192.5 208.62L195 208.94L197.5 209.41L199.5 209.91L201.5 210.55L203 211.18L204.5 212L205.6 212.8L206.53 213.8L207.03 214.8L207.14 215.8L206.86 216.8L206.17 217.8L205 218.8L203.5 219.69L201.5 220.56L198.5 221.49L196.5 221.93L193.5 222.39L191 222.63L187.5 222.77L184 222.76L180 222.47L177.5 222.06L174.5 221.32L174 221.24L173.5 221.34L173 221.81L171.41 225.3L171 225.92L170.5 226.41ZM223.5 269.83L219.5 270.04L213.5 270.11L208 270.03L204 269.8L199 268.99L195.5 268.26L194.07 267.8L193.5 267.47L193.22 267.3L193.08 266.8L193.56 266.3L194 266.07L196.84 264.8L197.24 264.3L197.13 263.8L196.14 262.3L195.43 260.8L195.12 259.3L195.18 257.8L195.42 256.8L195.8 255.8L198.03 251.8L198.51 250.8L199 249.47L199.5 247.32L200.13 243.3L200.65 240.8L201.38 238.3L202.37 235.8L203.39 233.8L204.33 232.3L205.48 230.8L206.5 229.71L208 228.43L209 227.77L210.5 227.03L211.5 226.69L213 226.4L214.5 226.35L219 226.95L220 227.19L221 227.63L222 228.38L222.83 229.3L223.52 230.3L224.36 231.8L225.26 233.8L226.35 236.8L227.2 239.8L227.91 243.3L228.85 251.3L229.81 256.3L229.94 258.3L229.78 259.8L229.35 261.3L228.39 263.3L228.28 263.8L228.65 264.3L230 264.8L234.5 265.84L235.81 266.3L236.48 266.8L236.39 267.3L235.52 267.8L233.5 268.37L229.5 269.06L223.5 269.83ZM170 224.82L169.5 224.78L169 224.44L168.5 223.75L167.85 222.3L167.46 220.8L167.21 217.3L167.24 212.3L167.5 209.11L167.85 207.8L168.5 206.31L169 205.62L169.5 205.28L170 205.25L170.5 205.52L171 206.12L171.78 207.8L172.5 210.09L173 211.34L173.5 211.9L174 211.98L177 211.01L179 210.52L182.5 210L187 209.78L191.5 210L195.5 210.64L197.5 211.16L199.27 211.8L200.5 212.38L201.87 213.3L202.5 213.95L203.01 214.8L203.14 215.3L203.15 215.8L202.81 216.8L201.98 217.8L201 218.55L199.5 219.38L197.5 220.15L195.5 220.68L193.5 221.04L191.5 221.24L188.5 221.36L185 221.28L182.5 221.1L178.5 220.46L176.5 219.93L174 219.06L173.5 219.08L173 219.52L172.5 220.51L171.63 222.8L171.12 223.8L170.5 224.57L170 224.82ZM216.5 269.81L210.5 269.78L208 269.55L203.5 268.96L200.5 268.47L198 267.86L196.81 267.3L196.62 266.8L197.17 266.3L200.78 264.8L201.16 264.3L201 263.8L199.81 262.3L198.97 260.8L198.58 259.3L198.59 257.8L198.8 256.8L199.13 255.8L200.72 252.3L201.43 250.3L201.87 248.3L202.81 242.8L203.35 240.8L204.27 238.3L205.29 236.3L206.27 234.8L207.5 233.33L208.5 232.4L209.5 231.66L211 230.86L212 230.52L213.5 230.27L214.5 230.25L217 230.42L219.5 230.31L220.5 230.52L221.5 231.13L222 231.62L223.13 233.3L223.83 234.8L224.69 237.3L225.2 239.3L225.68 241.8L226.1 245.3L226.5 251.61L227.08 256.8L227.01 258.8L226.68 260.3L226.06 261.8L225.17 263.3L224.94 263.8L225 264.01L225.09 264.3L226.09 264.8L231 265.95L232.08 266.3L232.85 266.8L232.74 267.3L231.7 267.8L229 268.42L225 268.99L220 269.56L216.5 269.81ZM170 223.82L169.5 223.78L169 223.41L168.5 222.65L168.13 221.8L167.8 220.8L167.5 219.45L167.32 216.8L167.37 212.3L167.5 210.77L167.68 209.8L168.13 208.3L168.5 207.42L169 206.65L169.5 206.27L170 206.23L170.5 206.53L171.05 207.3L171.69 208.8L173 213.09L173.5 213.81L174 213.82L175.69 212.8L177 212.21L178.5 211.71L180.5 211.24L182.5 210.93L184.5 210.74L186.5 210.66L189 210.71L193 211.14L195 211.56L197 212.18L198.5 212.85L199.9 213.8L200.36 214.3L200.67 214.8L200.84 215.3L200.88 215.8L200.78 216.3L200.2 217.3L199.5 217.95L198.17 218.8L196.5 219.5L195 219.93L193.5 220.23L191 220.5L188.5 220.56L186 220.47L183 220.21L181 219.92L179 219.48L177.5 219.03L175.79 218.3L174 217.19L173.5 217.16L173 217.79L171.32 222.3L171 222.9L170.5 223.54L170 223.82ZM217 269.33L214.5 269.43L212 269.38L208 269.11L204 268.62L201.5 268.18L200 267.8L198.89 267.3L198.68 266.8L199.27 266.3L203.16 264.8L203.54 264.3L203.32 263.8L201.59 261.8L201.02 260.8L200.55 259.3L200.52 257.8L200.82 256.3L202.5 251.96L202.98 250.3L203.94 244.8L204.67 241.8L205.41 239.8L206.5 237.66L207.5 236.2L208.79 234.8L210 233.85L211.5 233.06L212.5 232.75L213.5 232.59L216.5 232.64L217.5 232.5L219 232.14L220 232.12L221 232.5L221.88 233.3L222.57 234.3L223.3 235.8L223.84 237.3L224.38 239.3L224.77 241.3L225.15 244.3L225.32 246.8L225.59 255.8L225.56 257.8L225.34 259.3L224.85 260.8L224.35 261.8L223.05 263.8L223.07 264.3L223.87 264.8L229 266.03L229.89 266.3L230.73 266.8L230.59 267.3L230 267.57L229.43 267.8L227.5 268.23L221.5 269.02L217 269.33ZM170.5 222.84L170 223.15L169.5 223.11L169 222.7L168.5 221.87L168.09 220.8L167.69 219.3L167.5 218.06L167.41 216.3L167.5 212.2L167.95 209.8L168.46 208.3L169 207.36L169.5 206.94L170 206.9L170.5 207.23L170.9 207.8L171.55 209.3L172.72 213.8L172.91 215.3L172.76 216.8L171.78 220.3L171.18 221.8L170.5 222.84ZM192.5 219.8L190 219.99L186.5 219.9L183 219.54L180 218.93L178 218.26L177.04 217.8L176.27 217.3L175.73 216.8L175.37 216.3L175.19 215.8L175.18 215.3L175.34 214.8L175.67 214.3L176.19 213.8L177 213.26L178.5 212.59L180 212.12L182 211.7L185.5 211.34L189.5 211.39L191.5 211.59L193.5 211.95L195 212.34L196.5 212.89L197.5 213.39L198.68 214.3L199.05 214.8L199.28 215.3L199.35 215.8L199.27 216.3L199.06 216.8L198.69 217.3L198.16 217.8L197.43 218.3L196 218.97L194.5 219.44L192.5 219.8ZM220.5 268.84L217.5 269.07L214.5 269.16L211.5 269.1L209 268.93L205 268.49L202 267.92L200.32 267.3L200.09 266.8L200.72 266.3L204.89 264.8L205.28 264.3L205.02 263.8L203.07 261.8L202.43 260.8L201.91 259.3L201.82 257.8L202.24 255.8L203.5 252.32L203.94 250.8L204.91 245.3L205.37 243.3L206.23 240.8L207.24 238.8L208.3 237.3L209.23 236.3L210.5 235.3L211.5 234.76L212.5 234.41L213.5 234.23L216.5 234.19L219.5 233.29L220.5 233.41L221 233.67L221.5 234.08L222.08 234.8L222.89 236.3L223.6 238.3L224.19 240.8L224.73 245.3L224.82 248.3L224.77 255.3L224.72 256.8L224.55 258.3L224.19 259.8L223.79 260.8L223 262.14L221.68 263.8L221.6 264.3L222.32 264.8L228 266.19L228.38 266.3L229.26 266.8L229.11 267.3L227.5 267.88L224 268.48L220.5 268.84ZM170 222.59L169.5 222.54L169 222.1L168.34 220.8L167.71 218.3L167.49 215.3L167.65 212.3L168.18 209.8L168.5 208.88L169 207.96L169.5 207.51L170 207.47L170.5 207.82L171 208.6L171.63 210.3L172.32 213.3L172.48 215.3L172.32 217.3L171.69 219.8L171 221.52L170.5 222.26L170 222.59ZM192.5 219.31L190 219.51L187.5 219.45L184 219.08L181.5 218.61L179.5 217.99L178.1 217.3L177.45 216.8L177.03 216.3L176.82 215.8L176.81 215.3L176.99 214.8L177.5 214.2L178.5 213.51L179.5 213.05L180.5 212.71L182.24 212.3L185.5 211.91L189 211.92L191 212.12L192.5 212.37L194 212.73L195.5 213.27L196.53 213.8L197.21 214.3L197.68 214.8L197.96 215.3L198.07 215.8L198.02 216.3L197.81 216.8L197.42 217.3L196.84 217.8L195.5 218.53L194 219.02L192.5 219.31ZM218 268.81L213 268.93L207 268.52L204.5 268.15L202.84 267.8L201.53 267.3L201.28 266.8L202 266.28L206.46 264.8L206.88 264.3L206.55 263.8L204.5 261.97L203.64 260.8L203.04 259.3L202.91 257.8L203.28 255.8L204.45 252.3L204.85 250.8L205.74 245.8L206.2 243.8L206.88 241.8L207.87 239.8L208.54 238.8L209.5 237.69L210.5 236.83L211.5 236.23L212.5 235.84L213.5 235.64L216.5 235.51L217 235.36L219 234.41L220 234.26L220.5 234.37L221 234.63L221.68 235.3L222.5 236.62L223.16 238.3L223.69 240.3L224.11 242.8L224.34 245.3L224.41 247.8L224.17 255.3L223.98 257.3L223.7 258.8L223.17 260.3L222.62 261.3L221.87 262.3L220.31 263.8L220.14 264.3L220.89 264.8L226.5 266.13L227.09 266.3L228.02 266.8L227.85 267.3L226 267.9L222 268.51L218 268.81ZM170 222.12L169.5 222.07L169 221.6L168.38 220.3L167.79 217.8L167.61 215.3L167.81 212.3L168.38 209.8L169 208.47L169.5 207.99L170 207.94L170.5 208.32L170.81 208.8L171.42 210.3L171.82 211.8L172.1 213.3L172.27 215.3L172.08 217.3L171.46 219.8L170.82 221.3L170.5 221.76L170 222.12ZM192.5 218.86L190.5 219.06L188 219.03L185 218.71L182.5 218.23L180.5 217.59L179.06 216.8L178.57 216.3L178.32 215.8L178.31 215.3L178.52 214.8L178.98 214.3L179.74 213.8L181.5 213.11L183.5 212.67L186 212.41L188.5 212.41L191 212.65L193 213.06L195 213.77L196 214.38L196.47 214.8L196.81 215.3L196.97 215.8L196.94 216.3L196.73 216.8L196.32 217.3L195.66 217.8L194.5 218.35L192.5 218.86ZM222 268.32L219 268.6L216 268.74L212.5 268.74L209.5 268.58L206.5 268.25L203.97 267.8L202.56 267.3L202.29 266.8L202.99 266.3L203.5 266.11L207.95 264.8L208.44 264.3L208.02 263.8L205.99 262.3L205.47 261.8L204.68 260.8L204.01 259.3L203.84 257.8L204.16 255.8L205.11 252.8L205.64 250.8L206.77 244.8L207.4 242.8L208.34 240.8L209 239.79L209.84 238.8L210.5 238.2L211.5 237.52L213 236.96L214 236.83L215.5 236.81L216.5 236.65L217 236.44L219 235.27L219.5 235.1L220 235.06L220.5 235.16L221 235.44L221.79 236.3L222.58 237.8L223.24 239.8L223.74 242.3L224.03 245.3L224.09 247.8L223.97 251.3L223.74 254.8L223.51 256.8L223.22 258.3L222.7 259.8L222.17 260.8L221.4 261.8L220.5 262.64L218.82 263.8L218.53 264.3L219.41 264.8L225.5 266.16L226 266.3L226.98 266.8L226.78 267.3L225.5 267.74L222 268.32ZM170.5 221.34L170 221.71L169.5 221.66L169 221.16L168.8 220.8L168.39 219.8L168.13 218.8L167.87 217.3L167.75 215.8L167.75 214.3L167.88 212.8L168.39 210.3L169 208.91L169.5 208.4L170 208.35L170.5 208.74L171 209.63L171.25 210.3L171.77 212.3L172.06 214.8L172.02 216.3L171.72 218.3L171.09 220.3L170.5 221.34ZM193 218.33L191 218.64L189 218.67L186.5 218.46L184 218.02L182 217.46L180.62 216.8L180 216.26L179.74 215.8L179.72 215.3L179.98 214.8L180.54 214.3L181 214.05L182.5 213.47L184 213.13L186 212.91L188 212.87L190 213L192 213.33L193.5 213.77L194.65 214.3L195.5 214.96L195.78 215.3L195.98 215.8L195.98 216.3L195.76 216.8L195.29 217.3L194.5 217.8L193 218.33ZM220.5 268.33L218 268.53L215 268.63L212 268.59L209.5 268.43L207 268.15L204.97 267.8L203.46 267.3L203.16 266.8L203.9 266.3L204.5 266.1L209.48 264.8L210.15 264.3L209.56 263.8L207.5 262.62L205.99 261.3L205.5 260.66L205.03 259.8L204.65 258.3L204.65 257.3L204.8 256.3L206.22 251.3L207.38 245.3L208 243.32L208.7 241.8L209.32 240.8L210.13 239.8L211 239.02L212 238.41L213.5 237.96L215.5 237.87L216.5 237.65L217 237.39L219 236L219.5 235.8L220 235.74L220.5 235.84L221 236.13L221.5 236.63L222 237.38L222.79 239.3L223.39 241.8L223.72 244.3L223.84 247.3L223.72 250.8L223.36 254.8L223.07 256.8L222.71 258.3L222.1 259.8L221.5 260.76L221 261.36L220 262.22L217.16 263.8L216.71 264.3L217.78 264.8L222.5 265.7L225 266.28L226.07 266.8L225.86 267.3L224.5 267.73L223 268.02L220.5 268.33ZM170 221.36L169.5 221.3L169.03 220.8L168.5 219.65L168.07 217.8L167.86 215.3L167.91 213.8L168.08 212.3L168.5 210.46L169 209.3L169.5 208.77L170 208.71L170.61 209.3L171.26 210.8L171.8 213.3L171.93 215.3L171.77 217.3L171.29 219.3L170.61 220.8L170 221.36ZM193 217.88L191.5 218.19L189.5 218.3L187.5 218.15L185.3 217.8L183.41 217.3L182.22 216.8L181.5 216.29L181.17 215.8L181.15 215.3L181.47 214.8L182.2 214.3L183.55 213.8L185 213.51L186.5 213.36L188.5 213.34L190 213.47L191.5 213.72L193 214.16L194 214.64L194.78 215.3L195.04 215.8L195.05 216.3L194.81 216.8L194.26 217.3L193 217.88ZM215 263.8L214 264.13L213.5 264.18L212.5 264.08L210.5 263.46L209.5 263.05L208.5 262.54L207.5 261.85L206.44 260.8L206 260.14L205.61 259.3L205.35 257.8L205.49 256.3L206.85 251.3L207.7 246.8L208.2 244.8L209 242.8L209.93 241.3L211 240.15L212 239.47L213.5 238.97L215.5 238.85L216.5 238.56L219 236.65L219.5 236.42L220 236.35L220.5 236.44L221 236.74L221.5 237.27L222 238.08L222.82 240.3L223.32 242.8L223.59 245.8L223.6 248.3L223.34 252.3L222.88 255.8L222.5 257.51L222 258.92L221.5 259.86L220.5 261.07L219.5 261.85L218.5 262.43L217 263.12L215 263.8ZM219 268.32L214 268.51L211.5 268.43L209 268.24L207 267.99L205.5 267.7L204.26 267.3L203.94 266.8L204.72 266.3L206.5 265.79L210 265.03L211.46 264.8L212.5 264.47L213.5 264.39L214.5 264.48L215.72 264.8L217.5 265.02L222.5 265.89L224.21 266.3L225.26 266.8L225.02 267.3L223.31 267.8L219 268.32ZM170 221.04L169.5 220.98L169 220.42L168.53 219.3L168.1 217.3L167.97 215.3L168.11 212.8L168.53 210.8L169 209.66L169.5 209.09L170 209.03L170.5 209.46L170.69 209.8L171.27 211.3L171.68 213.3L171.81 215.3L171.64 217.3L171.15 219.3L170.5 220.63L170 221.04ZM191 217.85L189.5 217.9L188 217.8L185.36 217.3L183.9 216.8L183.04 216.3L182.64 215.8L182.65 215.3L183.09 214.8L184.14 214.3L186 213.91L188 213.79L190 213.93L191.5 214.21L193 214.76L193.77 215.3L194.1 215.8L194.13 216.3L193.84 216.8L193 217.36L192 217.68L191 217.85ZM214 263.31L213 263.34L211.5 263.14L210.5 262.86L209.2 262.3L208 261.51L207.24 260.8L206.85 260.3L206.31 259.3L206 257.8L206.11 256.3L207.43 251.3L208.42 246.3L208.86 244.8L209.5 243.3L210.48 241.8L211.5 240.8L212.31 240.3L213 240.03L216 239.64L217 239.05L219 237.23L219.5 236.98L220 236.89L220.5 236.98L221 237.29L221.5 237.85L222.25 239.3L222.84 241.3L223.25 243.8L223.42 246.8L223.33 249.8L222.9 253.8L222.45 256.3L222.01 257.8L221.5 258.96L220.96 259.8L220 260.81L218.51 261.8L217 262.52L215.5 263.04L214 263.31ZM217.5 268.3L213 268.37L208.5 268.06L206.75 267.8L205 267.3L204.65 266.8L205.47 266.3L208 265.65L211.5 265.08L213.5 264.95L216 265.08L220.5 265.68L223.45 266.3L224.53 266.8L224.27 267.3L222.44 267.8L220 268.12L217.5 268.3ZM170.5 220.3L170 220.73L169.5 220.66L169 220.08L168.38 218.3L168.08 215.8L168.15 213.3L168.52 211.3L169 210.01L169.5 209.41L170 209.35L170.5 209.8L171.14 211.3L171.56 213.3L171.69 214.8L171.65 216.3L171.42 217.8L171 219.3L170.5 220.3ZM191 217.37L190 217.45L188.5 217.38L187.5 217.22L185.88 216.8L184.84 216.3L184.38 215.8L184.45 215.3L185.2 214.8L185.5 214.71L187.5 214.36L189.5 214.4L191.5 214.79L192.54 215.3L193 215.8L193.05 216.3L192.5 216.88L191.5 217.28L191 217.37ZM216 262.33L214.5 262.7L213.5 262.79L212.5 262.75L211.5 262.59L210.5 262.29L209 261.54L208.08 260.8L207.62 260.3L207.02 259.3L206.83 258.8L206.65 257.8L206.73 256.3L208.02 251.3L209.06 246.3L209.78 244.3L210.5 243.03L211.5 241.89L212.5 241.21L213.5 240.88L215.5 240.7L216 240.55L216.5 240.27L219 237.8L219.5 237.52L220 237.41L220.5 237.5L221 237.83L221.5 238.42L222 239.35L222.35 240.3L222.84 242.3L223.16 244.8L223.24 247.3L223.09 250.3L222.72 253.3L222.35 255.3L221.96 256.8L221.5 258.01L220.73 259.3L220 260.1L219 260.85L217.5 261.69L216 262.33ZM221.5 267.81L219 268.09L216.5 268.24L213.5 268.27L211 268.17L208.5 267.93L207 267.66L205.71 267.3L205.34 266.8L206.22 266.3L209 265.66L211 265.38L214 265.22L217 265.39L220 265.76L222.69 266.3L223.82 266.8L223.53 267.3L221.5 267.81ZM170 220.43L169.5 220.36L169 219.74L168.81 219.3L168.31 217.3L168.15 215.3L168.25 213.3L168.64 211.3L169 210.35L169.43 209.8L169.5 209.72L170 209.65L170.5 210.13L171.16 211.8L171.44 213.3L171.58 215.3L171.4 217.3L171.04 218.8L170.5 219.98L170 220.43ZM190 216.83L188.95 216.8L188 216.59L187.13 216.3L186.64 215.8L187.09 215.3L188 215.11L189 215.07L190.59 215.3L191.46 215.8L191.5 216.3L190.5 216.76L190 216.83ZM215.5 261.92L214.5 262.16L213.5 262.26L212 262.15L210.5 261.71L209 260.83L208.03 259.8L207.52 258.8L207.27 257.3L207.43 255.8L208.61 251.3L209.58 246.8L210.1 245.3L211 243.65L212 242.6L213 242.03L214 241.8L215.5 241.66L216 241.49L216.5 241.16L217 240.66L218.08 239.3L219 238.35L219.5 238.04L220 237.92L220.5 238.01L221 238.35L221.37 238.8L222 239.99L222.54 241.8L222.88 243.8L223.05 246.3L223.01 248.8L222.72 251.8L222.28 254.3L221.5 257.02L221 258.06L220.5 258.8L219.5 259.79L218.5 260.48L217 261.32L215.5 261.92ZM220.5 267.81L216 268.15L213.5 268.17L211 268.06L208.55 267.8L207 267.46L206.43 267.3L206.03 266.8L206.97 266.3L209 265.85L211.5 265.51L214 265.41L217 265.55L220 265.92L221.93 266.3L223.12 266.8L222.8 267.3L220.5 267.81ZM170 220.12L169.5 220.04L169 219.38L168.78 218.8L168.41 217.3L168.25 215.3L168.35 213.3L168.78 211.3L169 210.72L169.5 210.04L170 209.97L170.5 210.47L171.03 211.8L171.34 213.3L171.46 215.3L171.36 216.8L171.06 218.3L170.5 219.65L170 220.12ZM215.5 261.3L214 261.64L212.5 261.64L211 261.27L210.05 260.8L209.5 260.41L208.88 259.8L208.52 259.3L208.1 258.3L207.96 256.8L208.19 255.3L209.14 251.8L210.19 247.3L210.72 245.8L211.5 244.45L212.1 243.8L213 243.2L214 242.92L215.5 242.75L216 242.54L216.5 242.14L217 241.55L218.22 239.8L219 238.93L219.5 238.58L220 238.44L220.5 238.53L221 238.89L221.5 239.56L222 240.68L222.44 242.3L222.75 244.3L222.87 246.3L222.82 248.8L222.57 251.3L222.11 253.8L221.55 255.8L221.14 256.8L220.5 257.92L220 258.52L219 259.37L217.56 260.3L215.5 261.3ZM219.5 267.8L215 268.06L211 267.93L209.5 267.78L207.2 267.3L206.76 266.8L207.78 266.3L209.5 265.94L212 265.64L214 265.57L216.5 265.67L219.5 266.01L221.11 266.3L222.37 266.8L222.02 267.3L219.5 267.8ZM170 219.77L169.5 219.68L168.94 218.8L168.54 217.3L168.36 215.3L168.47 213.3L168.94 211.3L169.5 210.4L170 210.33L170.5 210.86L171 212.23L171.28 213.8L171.35 215.3L171.24 216.8L171 217.97L170.5 219.26L170 219.77ZM214.5 260.84L213.5 260.97L212.5 260.92L211 260.46L210 259.8L209.53 259.3L208.98 258.3L208.78 257.3L208.87 255.8L210.84 248.3L211.5 246.52L212 245.69L212.5 245.13L213 244.76L213.5 244.53L215.5 244.19L216 243.92L216.5 243.4L218.08 240.8L219 239.59L219.5 239.2L220 239.04L220.5 239.13L221 239.51L221.21 239.8L221.5 240.25L221.93 241.3L222.31 242.8L222.59 244.8L222.68 246.8L222.57 249.3L222.23 251.8L221.78 253.8L221 255.98L220.5 256.86L220 257.49L219 258.35L216.86 259.8L215.5 260.52L214.5 260.84ZM217.5 267.84L214 267.93L211 267.79L208.11 267.3L207.62 266.8L208.77 266.3L210 266.07L212 265.84L214 265.76L216.5 265.85L219 266.12L220.1 266.3L221.51 266.8L221.09 267.3L219.5 267.61L217.5 267.84ZM170 219.47L169.5 219.38L169 218.6L168.65 217.3L168.45 215.3L168.57 213.3L168.9 211.8L169.5 210.71L170 210.62L170.5 211.2L170.89 212.3L171.17 213.8L171.25 215.3L171.13 216.8L170.92 217.8L170.5 218.93L170 219.47ZM213.5 260.31L212.5 260.24L212 260.12L211 259.65L210.5 259.25L210 258.63L209.64 257.8L209.53 257.3L209.52 256.3L209.69 255.3L211.5 249.11L212 247.81L212.64 246.8L213 246.43L213.5 246.1L214 245.94L215.5 245.68L216 245.33L216.5 244.67L218.2 241.3L218.88 240.3L219.5 239.72L220 239.54L220.5 239.64L221 240.04L221.17 240.3L221.5 240.85L221.86 241.8L222.22 243.3L222.46 245.3L222.5 247.3L222.33 249.8L222 251.85L221.5 253.77L221 255.06L220.5 255.95L220 256.58L219.5 257.03L215.5 259.78L214.5 260.16L213.5 260.31ZM216 267.8L213 267.8L210.5 267.57L208.93 267.3L208.37 266.8L210 266.24L212 266L214 265.91L216 265.96L218.5 266.2L219.16 266.3L220.74 266.8L220.25 267.3L218 267.65L216 267.8ZM170 219.19L169.5 219.09L169 218.25L168.67 216.8L168.54 215.3L168.67 213.3L169 211.86L169.5 211L170 210.91L170.5 211.52L170.9 212.8L171.08 213.8L171.15 215.3L171.03 216.8L170.8 217.8L170.5 218.61L170 219.19ZM214.5 259.39L213.5 259.57L212.5 259.47L211.5 259.03L210.77 258.3L210.5 257.8L210.3 256.8L210.36 255.8L210.73 254.3L212 250.76L212.5 249.58L213 248.74L213.5 248.23L214 247.99L215.5 247.76L216 247.28L216.5 246.29L217.82 242.8L218.58 241.3L219 240.7L219.5 240.22L220 240.03L220.5 240.12L221 240.56L221.63 241.8L222.04 243.3L222.29 245.3L222.34 247.3L222.21 249.3L222 250.8L221.5 252.88L221 254.2L220.5 255.1L220 255.7L219.5 256.09L218 256.76L217.5 257.08L215.64 258.8L214.5 259.39ZM219 267.36L216 267.66L213 267.66L209.77 267.3L209.13 266.8L211 266.26L214.5 266.05L218.12 266.3L219.97 266.8L219.39 267.3L219 267.36ZM170 218.96L169.5 218.86L169 217.94L168.75 216.8L168.62 215.3L168.69 213.8L169 212.17L169.5 211.24L170 211.15L170.5 211.79L170.81 212.8L171 213.84L171.07 215.3L170.94 216.8L170.69 217.8L170.5 218.34L170 218.96ZM213.5 258.83L212.5 258.68L212 258.41L211.5 257.92L211.19 257.3L211.07 256.8L211.1 255.8L211.5 254.31L212.5 252.15L213 251.36L213.5 250.82L214 250.57L214.5 250.58L215.5 251L216 250.88L216.5 248.97L216.78 247.3L217.26 245.3L218.11 242.8L218.9 241.3L219.5 240.64L220 240.42L220.5 240.52L221 240.98L221.62 242.3L222 243.93L222.19 245.8L222.19 247.8L222 249.8L221.59 251.8L221.09 253.3L220.5 254.42L220 254.98L219.5 255.3L219 255.43L217.5 255.34L217 255.64L216 257.3L215.5 257.89L215.02 258.3L214.5 258.58L213.5 258.83ZM218.5 267.31L216 267.55L213 267.55L210.54 267.3L209.8 266.8L211 266.45L212 266.27L214 266.17L216 266.22L217.5 266.38L219.28 266.8L218.5 267.31ZM170 218.79L169.5 218.68L169 217.71L168.8 216.8L168.67 215.3L168.74 213.8L169 212.41L169.5 211.42L170 211.32L170.5 212L170.74 212.8L170.93 213.8L171.02 215.3L170.87 216.8L170.62 217.8L170.5 218.14L170 218.79ZM220 254.48L219.5 254.73L219 254.76L218.5 254.58L218.13 254.3L217.72 253.8L217.29 252.8L217.18 252.3L216.97 249.8L217.19 246.8L217.93 243.8L218.5 242.37L219 241.5L219.5 240.95L220 240.71L220.5 240.81L221 241.3L221.5 242.34L221.95 244.3L222.12 246.8L221.96 249.3L221.5 251.64L221 253.06L220.5 253.94L220 254.48ZM214 258.01L213.5 258.1L213 258.05L212.44 257.8L211.99 257.3L211.76 256.3L212 254.96L212.5 253.89L213 253.19L213.5 252.78L214 252.65L214.5 252.82L215.02 253.3L215.56 254.3L215.72 255.3L215.57 256.3L215.36 256.8L215 257.34L214.5 257.79L214 258.01ZM217.5 267.35L215 267.5L212.5 267.43L211.18 267.3L210.32 266.8L212.5 266.33L214.5 266.25L216.5 266.36L218.73 266.8L217.93 267.3L217.5 267.35ZM170 218.52L169.5 218.4L169 217.32L168.76 215.3L168.83 213.8L169 212.8L169.5 211.7L170 211.59L170.5 212.33L170.64 212.8L170.84 213.8L170.92 215.3L170.66 217.3L170.5 217.82L170 218.52ZM219.5 253.87L219 253.72L218.5 253.23L217.88 251.8L217.54 249.8L217.51 247.8L217.82 245.3L218.4 243.3L219 242.05L219.5 241.44L220 241.18L220.5 241.28L221 241.82L221.5 243L221.9 245.3L221.95 247.3L221.84 248.8L221.61 250.3L221 252.32L220.5 253.21L220 253.7L219.5 253.87ZM216.5 267.31L214.5 267.38L212.47 267.3L211.26 266.8L213 266.51L214.5 266.44L216 266.52L217.76 266.8L216.5 267.31ZM170 217.63L169.5 217.47L169.43 217.3L169.14 216.3L169.02 215.3L169.14 213.8L169.43 212.8L169.5 212.64L170 212.49L170.5 213.59L170.64 215.3L170.5 216.57L170 217.63ZM220 251.44L219.5 251.32L219.11 250.8L218.89 250.3L218.55 248.8L218.47 247.3L218.6 245.8L218.94 244.3L219.5 243.13L220 242.75L220.5 242.89L221 243.7L221.35 245.3L221.44 246.8L221.33 248.3L221 249.96L220.5 251.03L220 251.44Z" fill="none" stroke="#111" stroke-width="0.5"/>
</g>
<rect x="168.5" y="180.3" width="88.5" height="88.2" fill="none" stroke="#555" stroke-width="0.8"/>
<path d="M165.9 190.1L168.5 190.1" stroke="#222" stroke-width="0.9"/>
<text x="150.4" y="193.35" font-size="9.1" stroke="#222" stroke-width="0.22" textLength="8.7" lengthAdjust="spacingAndGlyphs">10</text>
<text x="159.3" y="189.45" font-size="5.9" stroke="#222" stroke-width="0.22" textLength="3.1" lengthAdjust="spacingAndGlyphs">5</text>
<path d="M165.9 209.6L168.5 209.6" stroke="#222" stroke-width="0.9"/>
<text x="150.4" y="212.85" font-size="9.1" stroke="#222" stroke-width="0.22" textLength="8.7" lengthAdjust="spacingAndGlyphs">10</text>
<text x="159.3" y="208.95" font-size="5.9" stroke="#222" stroke-width="0.22" textLength="3.1" lengthAdjust="spacingAndGlyphs">4</text>
<path d="M165.9 228.7L168.5 228.7" stroke="#222" stroke-width="0.9"/>
<text x="150.4" y="231.95" font-size="9.1" stroke="#222" stroke-width="0.22" textLength="8.7" lengthAdjust="spacingAndGlyphs">10</text>
<text x="159.3" y="228.05" font-size="5.9" stroke="#222" stroke-width="0.22" textLength="3.1" lengthAdjust="spacingAndGlyphs">3</text>
<path d="M165.9 248.8L168.5 248.8" stroke="#222" stroke-width="0.9"/>
<text x="150.4" y="252.05" font-size="9.1" stroke="#222" stroke-width="0.22" textLength="8.7" lengthAdjust="spacingAndGlyphs">10</text>
<text x="159.3" y="248.15" font-size="5.9" stroke="#222" stroke-width="0.22" textLength="3.1" lengthAdjust="spacingAndGlyphs">2</text>
<path d="M165.9 263.7L168.5 263.7" stroke="#222" stroke-width="0.9"/>
<text x="162.9" y="266.95" font-size="9.1" stroke="#222" stroke-width="0.22" text-anchor="end" textLength="4.4" lengthAdjust="spacingAndGlyphs">0</text>
<path d="M167.1 242.9h1.4M167.1 239.45h1.4M167.1 237h1.4M167.1 235.1h1.4M167.1 233.55h1.4M167.1 232.24h1.4M167.1 231.1h1.4M167.1 230.1h1.4M167.1 222.8h1.4M167.1 219.35h1.4M167.1 216.9h1.4M167.1 215h1.4M167.1 213.45h1.4M167.1 212.14h1.4M167.1 211h1.4M167.1 210h1.4M167.1 203.7h1.4M167.1 200.25h1.4M167.1 197.8h1.4M167.1 195.9h1.4M167.1 194.35h1.4M167.1 193.04h1.4M167.1 191.9h1.4M167.1 190.9h1.4M167.1 251.7h1.4M167.1 254.6h1.4M167.1 257.5h1.4M167.1 260.4h1.4M167.1 263.3h1.4" stroke="#333" stroke-width="0.6"/>
<text x="172.7" y="282.6" font-size="9.1" stroke="#222" stroke-width="0.22" text-anchor="middle" textLength="4.4" lengthAdjust="spacingAndGlyphs">0</text>
<path d="M172.7 268.5L172.7 271.1" stroke="#222" stroke-width="0.9"/>
<text x="182.7" y="282.6" font-size="9.1" stroke="#222" stroke-width="0.22" textLength="8.7" lengthAdjust="spacingAndGlyphs">10</text>
<text x="191.6" y="278.7" font-size="5.9" stroke="#222" stroke-width="0.22" textLength="3.1" lengthAdjust="spacingAndGlyphs">2</text>
<path d="M188.9 268.5L188.9 271.1" stroke="#222" stroke-width="0.9"/>
<text x="203.5" y="282.6" font-size="9.1" stroke="#222" stroke-width="0.22" textLength="8.7" lengthAdjust="spacingAndGlyphs">10</text>
<text x="212.4" y="278.7" font-size="5.9" stroke="#222" stroke-width="0.22" textLength="3.1" lengthAdjust="spacingAndGlyphs">3</text>
<path d="M209.7 268.5L209.7 271.1" stroke="#222" stroke-width="0.9"/>
<text x="223.7" y="282.6" font-size="9.1" stroke="#222" stroke-width="0.22" textLength="8.7" lengthAdjust="spacingAndGlyphs">10</text>
<text x="232.6" y="278.7" font-size="5.9" stroke="#222" stroke-width="0.22" textLength="3.1" lengthAdjust="spacingAndGlyphs">4</text>
<path d="M229.9 268.5L229.9 271.1" stroke="#222" stroke-width="0.9"/>
<text x="242.3" y="282.6" font-size="9.1" stroke="#222" stroke-width="0.22" textLength="8.7" lengthAdjust="spacingAndGlyphs">10</text>
<text x="251.2" y="278.7" font-size="5.9" stroke="#222" stroke-width="0.22" textLength="3.1" lengthAdjust="spacingAndGlyphs">5</text>
<path d="M248.5 268.5L248.5 271.1" stroke="#222" stroke-width="0.9"/>
<path d="M194.98 268.5v1.4M198.54 268.5v1.4M201.06 268.5v1.4M203.02 268.5v1.4M204.62 268.5v1.4M205.97 268.5v1.4M207.14 268.5v1.4M208.18 268.5v1.4M215.78 268.5v1.4M219.34 268.5v1.4M221.86 268.5v1.4M223.82 268.5v1.4M225.42 268.5v1.4M226.77 268.5v1.4M227.94 268.5v1.4M228.98 268.5v1.4M235.98 268.5v1.4M239.54 268.5v1.4M242.06 268.5v1.4M244.02 268.5v1.4M245.62 268.5v1.4M246.97 268.5v1.4M248.14 268.5v1.4M249.18 268.5v1.4M175.5 268.5v1.4M178.3 268.5v1.4M181.1 268.5v1.4M183.9 268.5v1.4M186.7 268.5v1.4" stroke="#333" stroke-width="0.6"/>
<text x="214.25" y="295.7" font-size="10.5" stroke="#222" stroke-width="0.22" text-anchor="middle" textLength="20" lengthAdjust="spacingAndGlyphs">CD19</text>
<text x="143.7" y="221.3" font-size="10.4" stroke="#222" stroke-width="0.22" text-anchor="middle" textLength="20" lengthAdjust="spacingAndGlyphs" transform="rotate(-90 143.7 221.3)">CD33</text>
<path d="M169 253.8L186.7 244.2L204.5 228.2L210.8 214.2L211.7 198.8L194.6 192.3L169 195.2L169 253.8" stroke="#5a66f0" stroke-width="0.8" fill="none" stroke-linejoin="round"/>
<path d="M186.7 268.5L186.7 244.2L204.5 228.2L217.5 221L228.8 222.1L234 259.6L236.5 268.5" stroke="#5a66f0" stroke-width="0.8" fill="none" stroke-linejoin="round"/>
<text x="205.8" y="194.1" font-size="7.2" stroke="#4450ee" stroke-width="0.12" fill="#4450ee" textLength="12.1" lengthAdjust="spacingAndGlyphs">18.6</text>
<text x="236.5" y="237.8" font-size="7.2" stroke="#4450ee" stroke-width="0.12" fill="#4450ee" textLength="12.1" lengthAdjust="spacingAndGlyphs">80.9</text>
<clipPath id="c5"><rect x="40.6" y="301.7" width="87.9" height="87.3"/></clipPath>
<g clip-path="url(#c5)">
<path d="M67.75 330.5h0m-8.25 .75h0m5.5 .75h0m-8.25 .75h0m7.5 0h0m-13.75 1.5h0m-7.75 .75h0m1 .5h0m15.25 0h0m31.25 2.75h0m-43.25 2.25h0m55.75 2.5h0m-42 .5h0m2.75 .5h0m1.5 0h0m-5.75 .5h0m-2.25 .25h0m-2 .75h0m6 0h0m-19 1.5h0m36.75 0h0m1.5 .5h0m-11.5 .5h0m2 0h0m7.5 .5h0m7 .25h0m-10.75 .25h0m5.25 .25h0m-1.25 .25h0m-36.5 .25h0m34 0h0m.25 0h0m-3.75 .25h0m-6 .25h0m10.25 0h0m-35.25 .25h0m1 0h0m22.75 0h0m2.75 0h0m3.5 0h0m4.75 .25h0m13.5 0h0m-14.25 .25h0m-3 .25h0m-22.75 .25h0m27.5 0h0m8 0h0m-42.75 .25h0m35.75 0h0m7.5 0h0m4.75 0h0m-20 .25h0m1.25 0h0m2 0h0m3.75 0h0m.25 0h0m-7.75 .25h0m4.25 0h0m-16.25 .25h0m20.5 0h0m4.5 0h0m1.5 0h0m-19 .25h0m4.5 0h0m2.75 0h0m6.75 0h0m1 0h0m-5 .25h0m-30.75 .25h0m1 0h0m23.25 0h0m5.25 0h0m1.75 0h0m9 0h0m-20.75 .25h0m4 0h0m1.25 0h0m6.25 0h0m5.25 .25h0m1.75 0h0m-41.5 .25h0m20.75 0h0m5.75 0h0m4.5 0h0m5.25 0h0m1.25 0h0m4.75 0h0m-41 .25h0m8.25 0h0m14.75 0h0m2 0h0m2.5 0h0m1.5 0h0m6 0h0m1.5 0h0m1.5 0h0m1.5 0h0m13.25 0h0m-53 .25h0m13.5 0h0m16 0h0m3 0h0m3.5 0h0m-22.25 .25h0m6.25 0h0m2.25 0h0m1.75 0h0m7.25 0h0m.5 0h0m5.25 0h0m7.75 0h0m-45.25 .25h0m.5 0h0m.75 0h0m16.25 0h0m7.25 0h0m2.75 0h0m10 0h0m-38 .25h0m10 0h0m5.75 0h0m4.5 0h0m9.5 0h0m2.25 0h0m12.5 0h0m-42.75 .25h0m19.25 0h0m2.25 0h0m3.75 0h0m3 0h0m2 0h0m.5 0h0m1.5 0h0m1.25 0h0m11.75 0h0m-46.25 .25h0m20.75 0h0m3.75 0h0m8.25 0h0m1.5 0h0m1.75 0h0m-13.25 .25h0m.25 0h0m9.5 0h0m4.75 0h0m8.5 0h0m-18.25 .25h0m2.5 0h0m8 0h0m-15.5 .25h0m2.75 0h0m5.5 0h0m2.5 0h0m2.75 0h0m7.5 0h0m13 0h0m-55.25 .25h0m14.5 0h0m5.75 0h0m2 0h0m9.75 0h0m-33.25 .25h0m.25 0h0m18.25 0h0m12.5 0h0m7.75 0h0m-38 .25h0m17 0h0m5.5 0h0m.25 0h0m2.5 0h0m6.75 0h0m-32.5 .25h0m13.25 0h0m.75 0h0m9.25 0h0m-21.75 .25h0m4.25 0h0m9.25 0h0m.25 0h0m7 0h0m18.5 0h0m1 0h0m-5.25 .25h0m8.5 0h0m-41.25 .25h0m10.25 0h0m4.75 0h0m.5 0h0m19.25 0h0m-39.75 .25h0m1.75 0h0m.75 0h0m.75 0h0m11.75 0h0m.75 0h0m.25 0h0m6 0h0m2.25 0h0m.25 0h0m5 0h0m-17.75 .25h0m11 0h0m2.75 0h0m-18.25 .25h0m4 0h0m5.25 0h0m1 0h0m8.5 0h0m6.5 0h0m7.25 0h0m-40 .25h0m12 0h0m8.25 0h0m2.5 0h0m4 0h0m.75 0h0m20.5 0h0m-28.5 .25h0m12 0h0m1.25 0h0m-30 .25h0m4 0h0m16.25 0h0m.5 0h0m-8.5 .25h0m15.25 0h0m.25 0h0m7.25 0h0m-35 .25h0m1 0h0m5.5 0h0m9.75 0h0m.25 0h0m1.5 0h0m.5 0h0m9 0h0m2.5 0h0m2.5 0h0m2.25 0h0m3.25 0h0m-29.75 .25h0m.5 0h0m4 0h0m2.5 0h0m3.75 0h0m4.75 0h0m2.75 0h0m1.25 0h0m-24.25 .25h0m.5 0h0m3 0h0m3.75 0h0m13 0h0m1.25 0h0m1.5 0h0m-13.75 .25h0m4 0h0m.75 0h0m7.75 0h0m.25 0h0m3 0h0m-28.25 .25h0m17 0h0m12.5 0h0m3.5 0h0m-26 .25h0m3 0h0m3.25 0h0m.25 0h0m5.25 0h0m9.75 0h0m-24 .25h0m1.5 0h0m3 0h0m5.75 0h0m8.75 0h0m15.5 0h0m-33 .25h0m1.5 0h0m3.25 0h0m2.5 0h0m1.25 0h0m3 0h0m1.5 0h0m5 0h0m.25 0h0m1.25 0h0m8.75 0h0m-32.25 .25h0m3 0h0m3.5 0h0m7 0h0m1.25 0h0m-14 .25h0m.5 0h0m3.75 0h0m7.25 0h0m3.25 0h0m16.5 0h0m15.25 0h0m5 0h0m-53.25 .25h0m.25 0h0m5.5 0h0m1.75 0h0m1 0h0m1 0h0m3 0h0m.5 0h0m17 0h0m9.25 0h0m13.5 0h0m-48.25 .25h0m5.25 0h0m4 0h0m.5 0h0m.75 0h0m1.5 0h0m12 0h0m9 0h0m13.25 0h0m-50.25 .25h0m.5 0h0m4.75 0h0m3.75 0h0m1 0h0m.25 0h0m.25 0h0m2.75 0h0m.5 0h0m1.25 0h0m2 0h0m6.25 0h0m1.5 0h0m1.25 0h0m2 0h0m-25.5 .25h0m.25 0h0m1 0h0m.75 0h0m2.75 0h0m4 0h0m20 0h0m8.75 0h0m17.25 0h0m-57.25 .25h0m3 0h0m.5 0h0m.5 0h0m1.5 0h0m9 0h0m-12.75 .25h0m.25 0h0m11.75 0h0m.25 0h0m2.25 0h0m10 0h0m4 0h0m-30 .25h0m3 0h0m1.25 0h0m13.75 0h0m4 0h0m.25 0h0m4 0h0m-27 .25h0m.75 0h0m16.5 0h0m.75 0h0m13 0h0m4.75 0h0m15.25 0h0m-34.25 .25h0m7.75 0h0m.75 0h0m1.75 0h0m-25.5 .25h0m21 0h0m4.5 0h0m-26.25 .25h0m.75 0h0m16.5 0h0m7 0h0m2.25 0h0m1 0h0m3 0h0m4 0h0m-19 .25h0m.25 0h0m6.25 0h0m2.5 0h0m4.5 0h0m-13.75 .25h0m7.75 0h0m-.25 .25h0m-1 .25h0m3.5 .25h0m28.75 0h0m-37.25 .25h0m5.5 .25h0m1.25 0h0m-1.5 .25h0m29 0h0m-34 .25h0m.25 0h0m7.5 0h0m1.25 0h0m-2.5 .25h0m0 .25h0m21.5 0h0m-22.25 .5h0m9.5 1h0m-5.75 .25h0m-3.75 .25h0m0 .5h0m11.5 0h0m-12 .25h0m4.75 0h0m-3.75 1.75h0m-1 .25h0m.25 .5h0m2 0h0m3.5 0h0m29.75 0h0m-33.75 .25h0m.5 .25h0m-1.25 .25h0m3.75 0h0m-3.5 .5h0m8.75 0h0m.75 0h0m6.25 0h0m2.25 0h0m-18.25 .25h0m.75 0h0m-.25 .5h0m1 .25h0m-1.75 .5h0m1 0h0m1.75 0h0m13.5 .25h0m1.5 0h0m-18 .5h0m-.25 .25h0m0 .25h0m34.75 0h0m-12.25 .25h0m9.5 0h0m-31.25 .75h0m-.5 .25h0m.25 0h0m33 0h0m-31.25 .25h0m10.25 0h0m-8.25 .25h0m13 .25h0m-12.5 .25h0m17.75 0h0m9.75 0h0m-30.25 .25h0m4.5 0h0m-4 .5h0m7 0h0m-8.5 .25h0m11.25 0h0m10.25 .75h0m-9.25 .5h0m-8.25 .25h0m11.5 0h0m10.5 .5h0m.25 .25h0m-25.75 .25h0m.75 .25h0m-2 .25h0m9 0h0m8.5 0h0m12.25 0h0m-30 .5h0m1 0h0m27.25 0h0m-28.5 .25h0m3.75 0h0m9.5 0h0m13.5 0h0m-26.25 .25h0m1.25 0h0m-1.25 .5h0m.25 0h0m-1 .25h0m5.5 0h0m13 .25h0m-16.5 .5h0m2.5 0h0m2.25 .25h0m-5 .25h0m2 0h0m1.75 0h0m5.25 0h0m15 0h0m-24.25 .25h0m1.25 0h0m.75 .25h0m5.25 0h0m3.75 0h0m-1 .25h0m-5.25 .25h0m1.75 0h0m1.25 0h0m12.25 0h0m-8.25 .25h0m3.75 0h0m-7.5 .25h0m1 0h0m.75 0h0m-.25 .25h0m4.75 0h0" stroke="#333" stroke-width=".55" stroke-linecap="square" transform="translate(.28 .28)"/>
<path d="M67.6 390.27L65.6 390.5L42.1 390.65L39.6 390.49L39.31 390.2L39.15 388.7L39.25 385.7L39.2 376.7L39.27 371.2L39.42 367.7L39.73 364.7L40.4 361.2L40.97 359.2L41.6 357.99L42.1 357.79L42.6 358.23L42.84 358.7L43.39 360.2L44.1 363.03L44.6 364.57L45.1 365.24L45.6 365.32L49.1 364.28L52.6 363.66L55.6 363.44L57.1 363.49L58.1 363.62L59.1 363.96L59.6 364.31L60.1 364.9L61.64 367.7L62.1 368.33L62.6 368.61L63.13 367.7L63.41 365.7L63.55 362.2L63.71 361.2L64.08 360.2L64.69 359.2L65.1 358.8L65.6 358.58L66.1 358.63L66.82 359.2L67.2 360.2L67.1 365.2L67.83 373.2L67.99 376.2L67.98 380.2L67.82 382.7L67.52 385.2L67.5 385.7L67.6 386.05L67.68 386.2L68.6 386.6L73.6 387.43L74.61 387.7L75.62 388.2L75.51 388.7L74.1 389.24L71.1 389.8L67.6 390.27Z" fill="#fff" fill-rule="evenodd"/>
<path d="M59.1 389.23L55.6 389.47L51.6 389.53L48.1 389.42L44.6 389.1L43.6 389.22L42.6 389.56L42.1 389.63L41.6 389.52L41.1 389.22L40.57 388.7L40.45 388.2L41.23 386.7L41.27 386.2L40.85 383.7L40.6 380.7L40.54 377.7L40.68 374.7L40.94 372.2L41.22 370.7L41.6 369.38L42.1 368.94L42.6 369.69L43.1 371.64L43.45 373.7L43.84 377.2L43.88 379.2L43.75 381.2L43.39 383.7L42.9 386.2L42.99 386.7L43.1 386.85L43.6 387.33L44.1 387.51L44.6 387.56L49.6 387.1L53.6 387.08L59.6 387.56L60.64 387.7L62.68 388.2L62.36 388.7L59.1 389.23ZM51.6 381.28L50.6 381.31L50.1 381.2L49.6 380.95L49.1 380.55L48.57 379.7L48.48 378.7L48.6 378.19L49.1 377.44L49.6 377.03L50.1 376.79L51.1 376.64L52.1 376.88L52.65 377.2L53.13 377.7L53.39 378.2L53.52 378.7L53.53 379.2L53.18 380.2L52.6 380.82L51.6 381.28Z" fill="#aaa" fill-rule="evenodd"/>
<path d="M56.6 389.22L53.6 389.35L50.1 389.32L47.6 389.16L44.6 388.78L43.6 388.89L42.6 389.26L42.1 389.32L41.6 389.18L41 388.7L40.86 388.2L41.07 387.7L41.6 386.85L41.8 386.7L41.86 386.2L41.6 385.75L41.33 384.7L40.93 382.2L40.76 379.2L40.84 375.7L41.07 373.2L41.35 371.7L41.6 370.75L42.1 370.23L42.6 371.07L43.07 373.2L43.4 375.7L43.53 378.2L43.49 380.2L43.3 382.2L42.82 384.7L42.6 385.52L42.28 386.2L42.37 386.7L43.1 387.39L44.1 387.92L44.6 387.95L46.6 387.61L48.6 387.41L53.1 387.3L58.1 387.62L61.08 388.2L60.72 388.7L58.6 389.03L56.6 389.22Z" fill="#777" fill-rule="evenodd"/>
<path d="M42.1 383.7L41.6 382.91L41.47 382.2L41.25 380.2L41.19 378.2L41.27 376.2L41.5 374.2L41.6 373.61L42.1 372.81L42.64 374.2L42.9 376.2L42.99 378.2L42.93 380.2L42.69 382.2L42.6 382.67L42.1 383.7ZM42.6 388.31L42.1 388.47L41.86 388.2L42.1 387.97L42.6 388.12L42.68 388.2L42.6 388.31ZM57.1 388.71L53.6 388.95L50.1 388.9L47.85 388.7L47.17 388.2L49.6 387.83L52.1 387.7L55.1 387.83L57.85 388.2L57.1 388.71Z" fill="#333" fill-rule="evenodd"/>
<path d="M67.6 390.27L65.6 390.5L42.1 390.65L39.6 390.49L39.31 390.2L39.15 388.7L39.25 385.7L39.2 376.7L39.27 371.2L39.42 367.7L39.73 364.7L40.4 361.2L40.97 359.2L41.6 357.99L42.1 357.79L42.6 358.23L42.84 358.7L43.39 360.2L44.1 363.03L44.6 364.57L45.1 365.24L45.6 365.32L49.1 364.28L52.6 363.66L55.6 363.44L57.1 363.49L58.1 363.62L59.1 363.96L59.6 364.31L60.1 364.9L61.64 367.7L62.1 368.33L62.6 368.61L63.13 367.7L63.41 365.7L63.55 362.2L63.71 361.2L64.08 360.2L64.69 359.2L65.1 358.8L65.6 358.58L66.1 358.63L66.82 359.2L67.2 360.2L67.1 365.2L67.83 373.2L67.99 376.2L67.98 380.2L67.82 382.7L67.52 385.2L67.5 385.7L67.6 386.05L67.68 386.2L68.6 386.6L73.6 387.43L74.61 387.7L75.62 388.2L75.51 388.7L74.1 389.24L71.1 389.8L67.6 390.27ZM61.6 390.22L54.1 390.47L44.6 390.39L42.1 390.57L40.6 390.45L39.6 390.12L39.29 389.2L39.24 388.2L39.5 386.2L39.34 378.2L39.54 371.2L39.8 368.7L40.47 364.7L41.1 362.3L41.6 361.3L42.1 361.06L42.6 361.56L43.23 363.2L44.1 366.7L44.6 368.07L45.1 368.58L45.6 368.58L48.6 367.6L50.6 367.3L52.1 367.28L53.1 367.37L55.1 367.86L57.1 368.81L58.1 369.49L59.1 370.33L60.8 372.2L62.6 374.8L63.1 374.56L63.6 372.83L64.33 369.2L64.76 367.7L65.1 366.86L65.6 366.65L66.1 367.53L66.6 369.7L66.94 372.2L67.18 375.7L67.15 380.2L66.89 383.2L66.46 385.7L66.51 386.2L66.94 386.7L67.6 387L70.68 387.7L71.87 388.2L71.73 388.7L71.1 388.94L70.1 389.23L67.56 389.7L66.1 390.11L65.1 390.19L63.6 390.14L61.6 390.22ZM63.93 386.2L64.17 385.7L63.6 383.75L63.1 382.83L62.6 382.99L61.23 385.2L61.1 385.7L61.81 386.2L63.1 386.35L63.93 386.2ZM58.6 390.22L52.1 390.37L45.1 390.23L42.1 390.51L40.6 390.34L40.19 390.2L39.6 389.8L39.38 389.2L39.3 388.2L39.44 387.2L39.72 386.2L39.45 379.7L39.6 372.96L39.83 370.7L40.43 366.7L41 364.2L41.6 362.77L42.1 362.5L42.6 363.03L43.21 364.7L44.1 368.38L44.6 369.71L45.1 370.16L45.6 370.12L48.1 369.17L49.6 368.85L51.6 368.75L53.1 368.91L55.1 369.5L56.6 370.26L57.6 370.94L58.49 371.7L59.83 373.2L60.76 374.7L61.38 376.2L61.74 377.7L61.84 379.2L61.66 380.7L61.24 382.2L60.53 383.7L59.5 385.2L59.29 385.7L59.6 385.97L59.86 386.2L62.39 386.7L63.1 386.75L64.03 386.7L65.1 386.24L65.6 386.23L66.2 386.7L67.18 387.2L68.94 387.7L70.19 388.2L70.04 388.7L68.46 389.2L65.6 389.9L63.1 389.93L58.6 390.22ZM65.6 385.56L65.1 385.44L64.39 383.7L63.77 380.7L63.63 378.2L63.82 375.2L64.48 371.2L65.1 369.29L65.6 369.04L66.1 370.04L66.52 372.2L66.77 374.7L66.86 377.7L66.77 380.2L66.5 382.7L66.1 384.53L65.6 385.56ZM55.6 390.21L50.1 390.26L44.6 390.08L42.6 390.43L41.6 390.43L40.52 390.2L39.6 389.55L39.37 388.7L39.41 387.7L39.6 387.01L39.86 386.7L40.01 386.2L39.68 382.7L39.57 380.2L39.6 375.99L39.79 373.2L40.35 368.7L40.94 365.7L41.6 363.93L42.1 363.65L42.6 364.21L42.98 365.2L44.1 369.75L44.6 371.08L45.1 371.49L45.6 371.41L47.6 370.5L49.1 370.08L51.1 369.89L52.6 370.01L54.6 370.55L56.1 371.3L57.6 372.41L58.39 373.2L59.1 374.11L59.75 375.2L60.34 376.7L60.62 378.2L60.63 379.7L60.37 381.2L59.79 382.7L59.21 383.7L57.68 385.7L58.18 386.2L60.62 386.7L62.6 386.91L63.6 386.96L65.1 386.81L65.6 386.84L68.89 388.2L68.73 388.7L66.6 389.43L65.6 389.64L63.4 389.7L59.6 390.02L55.6 390.21ZM65.6 383.65L65.1 383.52L64.6 382.15L64.28 380.2L64.17 377.7L64.3 375.2L64.6 373.07L65.1 371.28L65.6 371L66.1 372.29L66.25 373.2L66.45 375.2L66.53 377.2L66.48 379.2L66.3 381.2L66.1 382.4L65.6 383.65ZM43.1 390.29L42.1 390.39L40.81 390.2L40.24 389.7L39.6 389.32L39.44 388.7L39.42 388.2L39.6 387.32L40.1 386.76L40.22 386.2L39.8 381.7L39.71 378.7L39.82 375.2L40.21 371.2L40.65 368.2L41.1 366.14L41.6 364.89L42.1 364.59L42.6 365.17L42.97 366.2L44.1 370.94L44.6 372.29L45.1 372.69L45.6 372.57L47.6 371.52L49.1 371.06L50.6 370.87L52.6 371L54.1 371.41L55.72 372.2L57.1 373.26L58.34 374.7L58.91 375.7L59.46 377.2L59.67 378.7L59.58 380.2L59.17 381.7L58.39 383.2L57.6 384.2L56.1 385.7L56.57 386.2L59.13 386.7L62.6 387.1L63.6 387.18L65.1 387.1L65.6 387.15L67.05 387.7L67.92 388.2L67.77 388.7L66.58 389.2L65.1 389.5L63.1 389.57L58.1 389.98L54.1 390.14L49.6 390.14L44.6 389.92L43.1 390.29ZM65.6 381.77L65.1 381.58L64.99 381.2L64.7 379.7L64.58 377.7L64.68 375.7L65.01 373.7L65.1 373.31L65.6 372.96L66.1 375.09L66.2 377.2L66.1 379.67L65.6 381.77ZM45.71 386.2L45.93 385.7L45.6 385.43L45.1 385.2L44.6 385.53L44.6 386.21L45.1 386.29L45.71 386.2ZM43.1 390.22L42.1 390.34L41.04 390.2L40.48 389.7L39.6 389.13L39.49 388.7L39.47 388.2L39.6 387.54L40.1 387.05L40.29 386.7L40.37 386.2L39.95 381.7L39.85 378.7L39.94 375.7L40.28 371.7L40.72 368.7L41.1 366.92L41.6 365.61L42.1 365.29L42.6 365.89L42.89 366.7L43.31 368.2L44.1 371.87L44.6 373.29L45.1 373.68L45.6 373.51L47.1 372.57L48.6 371.95L49.6 371.72L50.6 371.61L52.1 371.67L53.6 372.02L55.11 372.7L56.6 373.81L57.77 375.2L58.31 376.2L58.79 377.7L58.91 379.2L58.69 380.7L58.11 382.2L57.47 383.2L56.55 384.2L54.6 385.7L55.08 386.2L57.91 386.7L62.16 387.2L65.6 387.36L66.56 387.7L67.32 388.2L67.17 388.7L66.1 389.16L65.1 389.34L58.1 389.87L54.1 390.05L49.6 390.04L44.6 389.78L44.1 389.84L43.1 390.22ZM65.6 379.65L65.1 379.2L65 377.7L65.1 375.75L65.6 375.12L65.79 377.2L65.6 379.65ZM47.26 386.2L47.47 385.7L45.6 384.41L45.1 384.2L44.6 384.46L44.1 385.7L44.1 386.21L44.6 386.6L45.1 386.65L47.26 386.2ZM42.6 390.26L41.6 390.26L41.1 390.08L39.6 388.93L39.52 388.2L39.6 387.75L40.1 387.29L40.43 386.7L40.51 386.2L40.16 382.7L39.98 378.7L40.04 376.2L40.39 371.7L41.1 367.59L41.6 366.22L42.1 365.88L42.6 366.5L43 367.7L44.1 372.72L44.6 374.23L45.1 374.64L45.6 374.41L47.1 373.32L48.6 372.63L50.1 372.3L51.1 372.25L52.1 372.33L53.1 372.54L54.1 372.91L55.45 373.7L56.6 374.75L57.57 376.2L58.1 377.7L58.23 379.2L57.99 380.7L57.6 381.73L56.62 383.2L55.6 384.15L54.1 385.05L52.54 385.7L53.21 386.2L56.75 386.7L63.1 387.41L65.6 387.53L66.12 387.7L66.87 388.2L66.71 388.7L65.6 389.12L60.6 389.59L56.1 389.89L52.6 389.99L49.1 389.94L44.6 389.67L44.1 389.71L42.6 390.26ZM46.3 386.7L49.1 386.2L49.53 385.7L47.6 384.9L45.1 383.26L44.6 383.53L44.1 384.74L43.89 386.2L44.1 386.61L44.6 386.8L46.3 386.7ZM42.6 390.21L41.6 390.22L41.1 389.93L39.6 388.74L39.57 388.2L39.6 388.02L40.31 387.2L40.57 386.7L40.63 386.2L40.25 382.7L40.1 379.2L40.16 375.7L40.44 372.2L41.1 368.19L41.6 366.76L42.1 366.41L42.6 367.05L42.98 368.2L44.1 373.53L44.6 375.2L45.1 375.65L45.6 375.34L47.1 374.04L48.6 373.27L49.6 372.98L50.6 372.86L51.6 372.87L52.6 373.03L53.6 373.35L54.6 373.86L55.6 374.6L56.1 375.11L56.6 375.76L57.12 376.7L57.45 377.7L57.6 378.7L57.56 379.7L57.34 380.7L56.6 382.23L55.78 383.2L55.1 383.78L54.1 384.38L53.1 384.79L52.1 385.03L51.1 385.12L50.1 385.06L49.1 384.85L48.1 384.48L47.1 383.92L45.1 382.26L44.6 382.58L44.1 383.96L43.72 385.7L43.69 386.2L43.93 386.7L44.6 386.94L45.1 386.94L49.6 386.39L52.6 386.36L63.1 387.52L65.1 387.62L65.6 387.7L66.48 388.2L66.3 388.7L65.6 388.95L60.1 389.55L55.6 389.83L52.1 389.91L49.1 389.85L44.6 389.59L43.72 389.7L42.6 390.21ZM42.1 390.2L41.6 390.11L40.36 389.2L39.78 388.7L39.67 388.2L40.45 387.2L40.69 386.7L40.74 386.2L40.34 382.7L40.19 379.7L40.22 376.2L40.48 372.7L41.1 368.76L41.6 367.27L42.1 366.9L42.6 367.56L42.81 368.2L43.33 370.2L44.1 374.39L44.6 376.4L45.1 376.98L46.64 375.2L47.22 374.7L48.1 374.14L49.1 373.73L50.1 373.5L51.1 373.44L52.1 373.54L53.1 373.8L54.1 374.26L54.76 374.7L55.6 375.47L56.15 376.2L56.6 377.09L56.8 377.7L56.96 378.7L56.92 379.7L56.68 380.7L56.21 381.7L55.6 382.51L54.86 383.2L54.1 383.71L53.1 384.16L52.1 384.42L51.1 384.51L50.1 384.45L49.1 384.23L48.1 383.82L47.13 383.2L46.6 382.73L45.1 380.95L44.6 381.41L44.1 383.13L43.55 385.7L43.52 386.2L43.71 386.7L44.1 386.96L44.6 387.07L50.1 386.58L53.1 386.61L57.6 386.96L65.1 387.8L66.09 388.2L65.84 388.7L65.1 388.89L59.6 389.52L55.1 389.77L52.1 389.83L49.1 389.76L44.6 389.5L43.6 389.64L42.6 390.1L42.1 390.2ZM55.1 389.7L50.6 389.75L44.6 389.43L43.6 389.56L42.6 389.99L42.1 390.1L41.6 389.99L39.96 388.7L39.84 388.2L40.6 387.13L40.78 386.7L40.83 386.2L40.42 382.7L40.27 380.2L40.27 376.7L40.46 373.7L40.75 371.2L41.1 369.23L41.6 367.68L42.1 367.3L42.6 367.97L43.11 369.7L44.76 378.7L44.75 379.2L44.4 381.2L43.45 385.7L43.41 386.2L43.6 386.76L44.1 387.08L44.6 387.19L50.1 386.73L55.1 386.83L61.1 387.44L65.1 387.99L65.71 388.2L65.36 388.7L65.1 388.76L60.1 389.41L55.1 389.7ZM52.6 383.79L51.6 383.98L50.1 383.95L49.1 383.7L48.1 383.24L47.34 382.7L46.6 381.94L46.1 381.2L45.65 380.2L45.38 379.2L45.39 378.7L45.67 377.7L46.14 376.7L46.6 376.03L47.42 375.2L48.14 374.7L49.1 374.26L50.1 374.02L51.1 373.95L52.1 374.05L53.1 374.35L54.1 374.86L55.1 375.69L55.6 376.32L56.08 377.2L56.36 378.2L56.43 379.2L56.28 380.2L55.88 381.2L55.18 382.2L54.6 382.76L53.6 383.4L52.6 383.79ZM42.6 389.87L42.1 389.98L41.6 389.86L41.1 389.55L40.14 388.7L40.02 388.2L40.68 387.2L40.89 386.7L40.93 386.2L40.51 382.7L40.34 380.2L40.34 376.7L40.54 373.7L41.11 369.7L41.6 368.12L42.1 367.73L42.6 368.41L43.11 370.2L43.84 374.2L44.33 377.7L44.38 379.2L44.3 380.2L43.29 386.2L43.41 386.7L43.6 386.91L44.1 387.21L44.6 387.28L49.6 386.84L52.1 386.8L54.6 386.88L60.6 387.45L65.13 388.2L64.49 388.7L61.3 389.2L58.6 389.47L55.1 389.65L51.6 389.69L48.1 389.6L44.6 389.35L43.6 389.48L42.6 389.87ZM52.1 383.33L51.1 383.45L50.1 383.37L48.6 382.86L47.65 382.2L47.17 381.7L46.6 380.82L46.35 380.2L46.16 379.2L46.24 378.2L46.57 377.2L46.86 376.7L47.6 375.82L48.1 375.42L48.6 375.11L49.6 374.71L50.6 374.53L51.6 374.56L53.1 374.97L54.1 375.58L54.6 376.03L55.14 376.7L55.62 377.7L55.81 378.7L55.76 379.7L55.6 380.32L55.19 381.2L54.6 381.95L53.68 382.7L53.1 383L52.1 383.33ZM42.6 389.75L42.1 389.85L41.6 389.73L41.1 389.44L40.28 388.7L40.18 388.2L40.79 387.2L40.99 386.7L41.03 386.2L40.64 383.2L40.4 379.7L40.42 376.7L40.67 373.2L40.93 371.2L41.24 369.7L41.6 368.54L42.1 368.13L42.6 368.84L43.1 370.66L43.8 374.7L44.03 376.7L44.14 378.7L44 381.2L43.16 386.2L43.27 386.7L43.6 387.07L44.1 387.31L44.6 387.37L50.1 386.9L54.6 386.96L60.6 387.53L64.04 388.2L63.53 388.7L60.67 389.2L58.1 389.44L54.6 389.61L51.1 389.63L48.1 389.54L44.6 389.27L43.6 389.4L42.6 389.75ZM52.1 382.71L50.6 382.83L49.87 382.7L49.1 382.42L48.03 381.7L47.58 381.2L47.04 380.2L46.9 379.7L46.84 378.7L47.07 377.7L47.31 377.2L48.11 376.2L48.82 375.7L49.6 375.35L50.21 375.2L51.1 375.13L51.77 375.2L52.6 375.43L53.6 375.98L54.1 376.42L54.6 377.06L54.92 377.7L55.1 378.32L55.16 379.2L55.1 379.71L54.74 380.7L54.1 381.57L53.6 382L53.1 382.32L52.1 382.71ZM42.1 389.74L41.6 389.63L40.92 389.2L40.42 388.7L40.3 388.2L40.89 387.2L41.09 386.7L41.13 386.2L40.71 383.2L40.49 380.2L40.47 377.2L40.69 373.7L40.93 371.7L41.22 370.2L41.6 368.94L42.1 368.51L42.6 369.24L43.1 371.12L43.47 373.2L43.93 376.7L44.01 378.7L43.93 380.7L43.75 382.2L43.04 386.2L43.14 386.7L43.59 387.2L44.1 387.4L44.6 387.46L49.6 387.01L54.1 387.01L60.1 387.54L61.23 387.7L63.29 388.2L62.93 388.7L60.6 389.13L58.1 389.38L54.6 389.56L51.1 389.58L48.1 389.48L44.6 389.2L43.6 389.32L42.1 389.74ZM51.1 382.21L50.1 382.1L49.6 381.94L48.6 381.32L48.1 380.77L47.77 380.2L47.52 379.2L47.6 378.3L47.81 377.7L48.1 377.2L48.55 376.7L49.6 376.04L50.1 375.88L51.1 375.77L52.1 375.94L52.6 376.13L53.6 376.86L54.19 377.7L54.37 378.2L54.47 379.2L54.23 380.2L53.54 381.2L52.6 381.85L52.1 382.04L51.1 382.21ZM59.1 389.23L55.6 389.47L51.6 389.53L48.1 389.42L44.6 389.1L43.6 389.22L42.6 389.56L42.1 389.63L41.6 389.52L41.1 389.22L40.57 388.7L40.45 388.2L41.23 386.7L41.27 386.2L40.85 383.7L40.6 380.7L40.54 377.7L40.68 374.7L40.94 372.2L41.22 370.7L41.6 369.38L42.1 368.94L42.6 369.69L43.1 371.64L43.45 373.7L43.84 377.2L43.88 379.2L43.75 381.2L43.39 383.7L42.9 386.2L42.99 386.7L43.1 386.85L43.6 387.33L44.1 387.51L44.6 387.56L49.6 387.1L53.6 387.08L59.6 387.56L60.64 387.7L62.68 388.2L62.36 388.7L59.1 389.23ZM51.6 381.28L50.6 381.31L50.1 381.2L49.6 380.95L49.1 380.55L48.57 379.7L48.48 378.7L48.6 378.19L49.1 377.44L49.6 377.03L50.1 376.79L51.1 376.64L52.1 376.88L52.65 377.2L53.13 377.7L53.39 378.2L53.52 378.7L53.53 379.2L53.18 380.2L52.6 380.82L51.6 381.28ZM58.6 389.21L55.1 389.44L51.1 389.48L47.6 389.32L44.6 389.01L44.1 389.03L42.6 389.48L42.1 389.54L41.6 389.43L41.1 389.11L40.69 388.7L40.58 388.2L41.35 386.7L41.38 386.2L40.93 383.7L40.69 381.2L40.6 378.2L40.74 374.7L41.02 372.2L41.33 370.7L41.6 369.77L42.1 369.3L42.6 370.07L43.1 372.11L43.44 374.2L43.73 377.2L43.77 379.2L43.68 380.7L43.38 383.2L42.77 386.2L42.85 386.7L43.1 387.02L43.6 387.43L44.1 387.6L44.6 387.64L47.6 387.32L50.6 387.14L55.6 387.26L60.1 387.7L62.21 388.2L61.9 388.7L58.6 389.21ZM51.1 380.22L50.6 380.17L50.1 379.88L49.69 379.2L49.71 378.7L49.99 378.2L50.6 377.83L51.1 377.77L51.6 377.92L52.01 378.2L52.28 378.7L52.3 379.2L52.1 379.7L51.6 380.08L51.1 380.22ZM56.6 389.22L53.6 389.35L50.1 389.32L47.6 389.16L44.6 388.78L43.6 388.89L42.6 389.26L42.1 389.32L41.6 389.18L41 388.7L40.86 388.2L41.07 387.7L41.6 386.85L41.8 386.7L41.86 386.2L41.6 385.75L41.33 384.7L40.93 382.2L40.76 379.2L40.84 375.7L41.07 373.2L41.35 371.7L41.6 370.75L42.1 370.23L42.6 371.07L43.07 373.2L43.4 375.7L43.53 378.2L43.49 380.2L43.3 382.2L42.82 384.7L42.6 385.52L42.28 386.2L42.37 386.7L43.1 387.39L44.1 387.92L44.6 387.95L46.6 387.61L48.6 387.41L53.1 387.3L58.1 387.62L61.08 388.2L60.72 388.7L58.6 389.03L56.6 389.22ZM42.1 384.7L41.6 384.05L41.33 382.7L41.09 380.7L41.01 378.2L41.1 375.73L41.35 373.7L41.6 372.43L42.1 371.78L42.6 372.78L42.87 374.2L43.11 376.2L43.2 378.7L43.11 380.7L42.84 382.7L42.6 383.83L42.1 384.7ZM42.6 388.85L42.1 388.9L41.57 388.7L41.37 388.2L41.62 387.7L42.1 387.43L42.6 387.59L43.34 388.2L43 388.7L42.6 388.85ZM58.6 388.71L54.6 389.08L50.6 389.09L48.6 388.97L46.44 388.7L45.9 388.2L47.6 387.84L49.1 387.65L51.6 387.55L54.1 387.58L56.6 387.76L59.17 388.2L58.6 388.71ZM42.1 383.7L41.6 382.91L41.47 382.2L41.25 380.2L41.19 378.2L41.27 376.2L41.5 374.2L41.6 373.61L42.1 372.81L42.64 374.2L42.9 376.2L42.99 378.2L42.93 380.2L42.69 382.2L42.6 382.67L42.1 383.7ZM42.6 388.31L42.1 388.47L41.86 388.2L42.1 387.97L42.6 388.12L42.68 388.2L42.6 388.31ZM57.1 388.71L53.6 388.95L50.1 388.9L47.85 388.7L47.17 388.2L49.6 387.83L52.1 387.7L55.1 387.83L57.85 388.2L57.1 388.71ZM42.1 381.74L41.6 380.29L41.52 378.2L41.6 376.28L42.1 374.82L42.56 376.7L42.64 378.2L42.6 379.7L42.1 381.74ZM54.6 388.32L53.6 388.56L52.1 388.65L51.1 388.52L50 388.2L52.6 388.09L54.92 388.2L54.6 388.32Z" fill="none" stroke="#111" stroke-width="0.5"/>
</g>
<rect x="40.6" y="301.7" width="87.9" height="87.3" fill="none" stroke="#555" stroke-width="0.8"/>
<path d="M38 311.5L40.6 311.5" stroke="#222" stroke-width="0.9"/>
<text x="22.5" y="314.75" font-size="9.1" stroke="#222" stroke-width="0.22" textLength="8.7" lengthAdjust="spacingAndGlyphs">10</text>
<text x="31.4" y="310.85" font-size="5.9" stroke="#222" stroke-width="0.22" textLength="3.1" lengthAdjust="spacingAndGlyphs">5</text>
<path d="M38 331L40.6 331" stroke="#222" stroke-width="0.9"/>
<text x="22.5" y="334.25" font-size="9.1" stroke="#222" stroke-width="0.22" textLength="8.7" lengthAdjust="spacingAndGlyphs">10</text>
<text x="31.4" y="330.35" font-size="5.9" stroke="#222" stroke-width="0.22" textLength="3.1" lengthAdjust="spacingAndGlyphs">4</text>
<path d="M38 350.1L40.6 350.1" stroke="#222" stroke-width="0.9"/>
<text x="22.5" y="353.35" font-size="9.1" stroke="#222" stroke-width="0.22" textLength="8.7" lengthAdjust="spacingAndGlyphs">10</text>
<text x="31.4" y="349.45" font-size="5.9" stroke="#222" stroke-width="0.22" textLength="3.1" lengthAdjust="spacingAndGlyphs">3</text>
<path d="M38 370.2L40.6 370.2" stroke="#222" stroke-width="0.9"/>
<text x="22.5" y="373.45" font-size="9.1" stroke="#222" stroke-width="0.22" textLength="8.7" lengthAdjust="spacingAndGlyphs">10</text>
<text x="31.4" y="369.55" font-size="5.9" stroke="#222" stroke-width="0.22" textLength="3.1" lengthAdjust="spacingAndGlyphs">2</text>
<path d="M38 385.1L40.6 385.1" stroke="#222" stroke-width="0.9"/>
<text x="35" y="388.35" font-size="9.1" stroke="#222" stroke-width="0.22" text-anchor="end" textLength="4.4" lengthAdjust="spacingAndGlyphs">0</text>
<path d="M39.2 364.3h1.4M39.2 360.85h1.4M39.2 358.4h1.4M39.2 356.5h1.4M39.2 354.95h1.4M39.2 353.64h1.4M39.2 352.5h1.4M39.2 351.5h1.4M39.2 344.2h1.4M39.2 340.75h1.4M39.2 338.3h1.4M39.2 336.4h1.4M39.2 334.85h1.4M39.2 333.54h1.4M39.2 332.4h1.4M39.2 331.4h1.4M39.2 325.1h1.4M39.2 321.65h1.4M39.2 319.2h1.4M39.2 317.3h1.4M39.2 315.75h1.4M39.2 314.44h1.4M39.2 313.3h1.4M39.2 312.3h1.4M39.2 373.1h1.4M39.2 376h1.4M39.2 378.9h1.4M39.2 381.8h1.4M39.2 384.7h1.4" stroke="#333" stroke-width="0.6"/>
<text x="44.8" y="403.1" font-size="9.1" stroke="#222" stroke-width="0.22" text-anchor="middle" textLength="4.4" lengthAdjust="spacingAndGlyphs">0</text>
<path d="M44.8 389L44.8 391.6" stroke="#222" stroke-width="0.9"/>
<text x="54.8" y="403.1" font-size="9.1" stroke="#222" stroke-width="0.22" textLength="8.7" lengthAdjust="spacingAndGlyphs">10</text>
<text x="63.7" y="399.2" font-size="5.9" stroke="#222" stroke-width="0.22" textLength="3.1" lengthAdjust="spacingAndGlyphs">2</text>
<path d="M61 389L61 391.6" stroke="#222" stroke-width="0.9"/>
<text x="75.6" y="403.1" font-size="9.1" stroke="#222" stroke-width="0.22" textLength="8.7" lengthAdjust="spacingAndGlyphs">10</text>
<text x="84.5" y="399.2" font-size="5.9" stroke="#222" stroke-width="0.22" textLength="3.1" lengthAdjust="spacingAndGlyphs">3</text>
<path d="M81.8 389L81.8 391.6" stroke="#222" stroke-width="0.9"/>
<text x="95.8" y="403.1" font-size="9.1" stroke="#222" stroke-width="0.22" textLength="8.7" lengthAdjust="spacingAndGlyphs">10</text>
<text x="104.7" y="399.2" font-size="5.9" stroke="#222" stroke-width="0.22" textLength="3.1" lengthAdjust="spacingAndGlyphs">4</text>
<path d="M102 389L102 391.6" stroke="#222" stroke-width="0.9"/>
<text x="114.4" y="403.1" font-size="9.1" stroke="#222" stroke-width="0.22" textLength="8.7" lengthAdjust="spacingAndGlyphs">10</text>
<text x="123.3" y="399.2" font-size="5.9" stroke="#222" stroke-width="0.22" textLength="3.1" lengthAdjust="spacingAndGlyphs">5</text>
<path d="M120.6 389L120.6 391.6" stroke="#222" stroke-width="0.9"/>
<path d="M67.08 389v1.4M70.64 389v1.4M73.16 389v1.4M75.12 389v1.4M76.72 389v1.4M78.07 389v1.4M79.24 389v1.4M80.28 389v1.4M87.88 389v1.4M91.44 389v1.4M93.96 389v1.4M95.92 389v1.4M97.52 389v1.4M98.87 389v1.4M100.04 389v1.4M101.08 389v1.4M108.08 389v1.4M111.64 389v1.4M114.16 389v1.4M116.12 389v1.4M117.72 389v1.4M119.07 389v1.4M120.24 389v1.4M121.28 389v1.4M47.6 389v1.4M50.4 389v1.4M53.2 389v1.4M56 389v1.4M58.8 389v1.4" stroke="#333" stroke-width="0.6"/>
<text x="86.05" y="416.2" font-size="10.5" stroke="#222" stroke-width="0.22" text-anchor="middle" textLength="25" lengthAdjust="spacingAndGlyphs">NKp46</text>
<text x="15.7" y="346.5" font-size="10.4" stroke="#222" stroke-width="0.22" text-anchor="middle" textLength="15.4" lengthAdjust="spacingAndGlyphs" transform="rotate(-90 15.7 346.5)">CD3</text>
<path d="M41 357.5L41 327.3L64.2 327.3L71.3 336.3L73.8 345.4L64.6 354.2L41 357.5" stroke="#5a66f0" stroke-width="0.8" fill="none" stroke-linejoin="round"/>
<path d="M76.2 389.6L78.1 373.8L87.3 359.4L98.3 360L105.4 369L102.7 389.6" stroke="#5a66f0" stroke-width="0.8" fill="none" stroke-linejoin="round"/>
<text x="77.1" y="327.6" font-size="7.2" stroke="#4450ee" stroke-width="0.12" fill="#4450ee" textLength="19.0" lengthAdjust="spacingAndGlyphs">0.0366</text>
<text x="106" y="359.7" font-size="7.2" stroke="#4450ee" stroke-width="0.12" fill="#4450ee" textLength="15.55" lengthAdjust="spacingAndGlyphs">0.151</text>
<clipPath id="c6"><rect x="168.7" y="302.3" width="88.3" height="87.7"/></clipPath>
<g clip-path="url(#c6)">
<path d="M180 331.5h0m14.75 .75h0m-13.25 .25h0m-5.25 .5h0m15 .25h0m-20.75 .5h0m24.5 0h0m-12.25 .25h0m16.75 1.5h0m-29.5 2h0m8 .25h0m12 .5h0m2 1.75h0m-7.75 1.25h0m-10.5 1h0m34 .5h0m-26.75 .25h0m6 .75h0m4.75 .75h0m-14.5 1h0m21.5 0h0m14.5 0h0m-10 1.5h0m2.75 0h0m5.5 .25h0m-19.75 .5h0m12.75 0h0m6 .25h0m4.5 0h0m-15 .25h0m-1.75 .25h0m-26.5 .75h0m38.75 0h0m-20.25 1h0m1 0h0m2 .25h0m8.25 0h0m1.5 0h0m.5 0h0m-14.25 .5h0m19.25 0h0m-39.25 .25h0m29.75 0h0m7.25 0h0m19.75 0h0m-24.5 .25h0m1 0h0m3.75 0h0m.25 0h0m-1.75 .25h0m-36 .5h0m2.5 .25h0m24.5 0h0m4.25 .25h0m.5 0h0m1.5 0h0m.75 0h0m.25 0h0m3.5 0h0m6 0h0m1 0h0m-17.5 .25h0m-25.5 .25h0m9.25 0h0m17 0h0m1.5 0h0m3 0h0m5.25 0h0m5.75 0h0m-16.25 .25h0m4.75 0h0m-14.5 .25h0m2.75 0h0m7.5 0h0m1.25 0h0m4.5 0h0m7.25 .25h0m-22.75 .25h0m3.75 0h0m15 0h0m2.75 0h0m-13.5 .25h0m3 0h0m1.5 .5h0m7.5 0h0m6.5 0h0m-12.5 .25h0m-30 .25h0m31.5 0h0m.5 0h0m.25 0h0m16 0h0m-48.75 .25h0m1.75 0h0m11.25 0h0m14 0h0m8.5 0h0m2 0h0m-32 .25h0m6.5 0h0m5 0h0m.75 0h0m9.75 0h0m8.25 0h0m-35.25 .25h0m1 0h0m26.75 0h0m8.25 0h0m-35.5 .25h0m8.25 0h0m8.75 0h0m2.5 0h0m2 0h0m.25 0h0m5.25 0h0m1.25 0h0m7.5 0h0m7 0h0m-42.75 .25h0m19.25 0h0m4.75 0h0m2.75 0h0m1.75 0h0m5.5 0h0m-35.5 .25h0m1.75 0h0m.5 0h0m4.25 0h0m9.75 0h0m9.75 0h0m.5 0h0m.25 0h0m3 0h0m4 0h0m-21.75 .25h0m3.25 0h0m2.5 0h0m3.75 0h0m1.75 0h0m3.75 0h0m4 0h0m.25 0h0m1.5 0h0m3.25 0h0m-16.25 .25h0m8.5 0h0m.5 0h0m-29.25 .25h0m2.5 0h0m7.75 0h0m2 0h0m19 0h0m5.5 0h0m17.5 0h0m-54.5 .25h0m1 0h0m2.25 0h0m9 0h0m8.5 0h0m10 0h0m5.25 0h0m5.25 0h0m-39 .25h0m16.25 0h0m5 0h0m7.5 0h0m10.25 0h0m2 0h0m-42.5 .25h0m.25 0h0m17.5 0h0m.75 0h0m7.5 0h0m4.25 0h0m7.75 0h0m3.25 0h0m-41.75 .25h0m1.75 0h0m5.75 0h0m10 0h0m3.5 0h0m3.25 0h0m3.5 0h0m5.25 0h0m.25 0h0m-31.5 .25h0m2.5 0h0m4.25 0h0m12 0h0m4.25 0h0m.5 0h0m4 0h0m9 0h0m-16 .25h0m.5 0h0m7 0h0m-27.5 .25h0m11.5 0h0m6.25 0h0m16.5 0h0m-30.75 .25h0m1.75 0h0m2 0h0m9 0h0m1.75 0h0m9.5 0h0m6 0h0m-19.5 .25h0m2 0h0m2.75 0h0m.25 0h0m.5 0h0m3.75 0h0m1.25 0h0m3.5 0h0m.75 0h0m1 0h0m2.75 0h0m.25 0h0m1.25 0h0m-16.75 .25h0m1.25 0h0m9.25 0h0m3.5 0h0m15.5 0h0m-31.25 .25h0m1.5 0h0m6 0h0m10.75 0h0m-28.25 .25h0m8.5 0h0m9.5 0h0m-22.75 .25h0m14.5 0h0m1 0h0m1.25 0h0m1.5 0h0m4 0h0m7.25 0h0m4 0h0m1.5 0h0m5.75 0h0m-41.5 .25h0m2.25 0h0m25.25 0h0m.75 0h0m9.25 0h0m1.5 0h0m-39 .25h0m7.5 0h0m7.5 0h0m8 0h0m9.25 0h0m.25 0h0m-28.75 .25h0m7 0h0m.25 0h0m.25 0h0m.75 0h0m.5 0h0m10.75 0h0m10.75 0h0m-28.5 .25h0m1.5 0h0m1.75 0h0m2 0h0m5.5 0h0m22.25 0h0m-37.25 .25h0m3.25 0h0m2 0h0m.75 0h0m3.5 0h0m.25 0h0m2.5 0h0m2.5 0h0m2 0h0m14.25 0h0m.25 0h0m9.75 0h0m-40 .25h0m2.5 0h0m3.75 0h0m6.75 0h0m8.5 0h0m8.25 0h0m-28.25 .25h0m9.75 0h0m.75 0h0m9 0h0m17.25 0h0m-33.25 .25h0m2.5 0h0m1 0h0m1.25 0h0m6.25 0h0m18 0h0m-27.25 .25h0m.75 0h0m2.75 0h0m2.75 0h0m2 0h0m1.25 0h0m.25 0h0m6.25 0h0m1.75 0h0m2.25 0h0m5.5 0h0m1 0h0m11.25 0h0m-45.75 .25h0m6 0h0m1.75 0h0m2.5 0h0m1.5 0h0m1.75 0h0m2.25 0h0m.5 0h0m11 0h0m27 0h0m-51.5 .25h0m1 0h0m4 0h0m.25 0h0m2 0h0m2 0h0m3.5 0h0m7 0h0m.5 0h0m11 0h0m9.5 0h0m6 0h0m-47 .25h0m3.5 0h0m6.25 0h0m3 0h0m16.75 0h0m-30.5 .25h0m2 0h0m.25 0h0m1.5 0h0m6.5 0h0m3 0h0m7 0h0m.75 0h0m3.5 0h0m3 0h0m8 0h0m-37 .25h0m2 0h0m3.25 0h0m.25 0h0m28.75 0h0m.25 0h0m-32 .25h0m11.5 0h0m13.75 0h0m3.25 .25h0m25.5 0h0m-55 .25h0m14 0h0m.5 0h0m14.25 0h0m-3.25 .5h0m-10.5 .25h0m.25 0h0m-2 .5h0m7.25 0h0m3.5 0h0m7.5 0h0m-18 .25h0m.25 0h0m8.75 0h0m4 0h0m-6.25 .25h0m1.75 0h0m18 0h0m-23.75 .25h0m4.25 0h0m9.25 0h0m10.5 0h0m-25 .25h0m.75 0h0m5.25 0h0m-5 .25h0m-.25 .25h0m.25 0h0m15 0h0m18.75 0h0m-36 .25h0m.75 0h0m28.5 0h0m-27 .25h0m41.25 0h0m-41.5 .25h0m.25 0h0m37.75 0h0m-39 .25h0m.5 0h0m6 0h0m34 0h0m-40 .25h0m.25 0h0m8.25 0h0m-8.25 .25h0m4.75 0h0m25.5 .25h0m0 .25h0m-31 .25h0m6 0h0m10.5 0h0m2.75 .25h0m-12.75 .25h0m12.25 .25h0m-10.75 .5h0m30.25 .75h0m-15.75 .25h0m17 0h0m-32.75 .5h0m33.25 0h0m-31.75 .25h0m3.5 0h0m-6 .25h0m28.25 0h0m-27.75 .25h0m.25 0h0m5.75 .25h0m11.5 0h0m-14.5 .25h0m-2 1.5h0m18.5 0h0m4.25 0h0m-24.25 .25h0m.25 0h0m.25 0h0m-.25 .5h0m0 .25h0m1 .5h0m15.25 0h0m-13 .5h0m-2 .75h0m17.75 0h0m-18.75 .25h0m23.5 0h0m9.5 0h0m-13.5 .5h0m-17.75 .25h0m-2.25 .25h0m1 0h0m4 0h0m17.5 .5h0m-1 .25h0m7.75 0h0m-28.75 .5h0m1.25 .25h0m27.5 .25h0m-29.25 .25h0m1 .25h0m35.75 .25h0m-27.75 .25h0m9.25 .25h0m-4.75 .25h0m-12.25 .25h0m27.75 .25h0m.75 0h0m-29.5 .25h0m1 .25h0m24.25 0h0m-12 .25h0m-13.25 .25h0m-.5 1.25h0m15.75 0h0m-15.75 .25h0m1.5 0h0m2.5 0h0m-2.25 .25h0m14.75 .25h0m6.25 0h0m-22.75 .25h0m5.25 0h0m13 0h0m.75 0h0m15.75 0h0m-34.5 .25h0m1 0h0m2 0h0m-1 .25h0m3 0h0m.5 0h0m-4 .25h0m7 0h0m-5 .25h0m1.25 0h0m.75 0h0m2 0h0m-3.25 .25h0m5 0h0m4.25 0h0m-5 .25h0m-.75 .25h0m.75 0h0m2 0h0m.25 0h0m-.75 .25h0m2.75 0h0m4 0h0m4.75 0h0m10.5 0h0m3.75 0h0m-25.25 .25h0m8 0h0" stroke="#333" stroke-width=".55" stroke-linecap="square" transform="translate(.28 .28)"/>
<path d="M194.7 391.33L192.7 391.59L170.2 391.75L167.7 391.59L167.41 391.3L167.25 389.3L167.33 386.8L167.28 377.3L167.35 371.8L167.51 367.8L167.84 364.8L168.44 361.8L169.06 359.8L169.7 358.74L170.2 358.67L170.7 359.23L171.33 360.8L172.2 364.08L172.7 365.38L173.2 365.86L173.7 365.87L176.7 365L179.7 364.48L182.7 364.29L184.2 364.34L185.2 364.49L186.04 364.8L186.7 365.4L187.94 368.3L188.7 369.78L189.2 370.47L189.7 370.61L190.2 369.32L190.26 368.8L190.44 366.3L190.39 362.8L190.81 361.3L191.05 360.8L191.7 359.86L192.2 359.44L192.7 359.27L193.2 359.33L193.7 359.6L194.36 360.3L194.53 360.8L194.55 361.3L194.2 363.8L194.14 366.3L194.79 375.3L194.89 378.3L194.83 381.3L194.46 386.8L194.8 387.3L195.2 387.43L199.7 388.05L201.7 388.43L203.07 388.8L203.85 389.3L203.52 389.8L201.7 390.38L198.2 390.94L194.7 391.33Z" fill="#fff" fill-rule="evenodd"/>
<path d="M185.2 390.33L182.2 390.48L178.7 390.51L176.2 390.42L172.2 390.1L170.2 390.62L169.7 390.55L169.2 390.27L168.67 389.8L168.46 389.3L169.2 387.8L169.28 387.3L168.87 384.8L168.63 382.3L168.53 379.8L168.58 377.3L169.02 372.8L169.2 371.78L169.7 370.25L170.2 370.04L170.78 371.3L171.41 374.3L171.9 378.3L171.89 381.3L171.49 384.3L170.96 386.8L170.9 387.3L171.04 387.8L171.56 388.3L172.2 388.53L173.2 388.52L177.2 388.12L181.2 388.12L187.7 388.66L188.7 388.8L190.63 389.3L189.64 389.8L185.2 390.33ZM178.7 381.94L178.2 382.05L177.7 382.04L177.2 381.9L176.4 381.3L176.1 380.8L175.96 380.3L175.95 379.8L176.05 379.3L176.31 378.8L176.7 378.38L177.2 378.09L177.7 377.95L178.2 377.94L178.7 378.05L179.2 378.3L179.7 378.8L179.94 379.3L180.05 379.8L180.04 380.3L179.9 380.8L179.6 381.3L179.2 381.68L178.7 381.94Z" fill="#aaa" fill-rule="evenodd"/>
<path d="M170.2 386.8L169.7 386.47L169.2 384.59L168.94 382.3L168.83 379.3L168.94 376.3L169.2 373.96L169.7 372.02L170.2 371.75L170.7 372.87L171.08 374.8L171.39 377.3L171.48 379.8L171.34 382.3L171.04 384.3L170.7 385.76L170.2 386.8ZM187.2 389.81L183.2 390.18L178.7 390.25L175.2 390.04L173.39 389.8L172.7 389.55L172.2 389.52L170.7 390.1L170.2 390.19L169.7 390.09L169.26 389.8L169.01 389.3L169.16 388.8L169.7 388.05L170.2 387.85L171.7 388.94L172.2 389.14L172.7 389.12L174.2 388.76L176.2 388.53L180.2 388.4L182.7 388.5L185.7 388.74L188.25 389.3L187.2 389.81Z" fill="#777" fill-rule="evenodd"/>
<path d="M170.2 384.31L169.7 383.85L169.59 383.3L169.32 381.3L169.24 379.3L169.32 377.3L169.58 375.3L169.7 374.69L170.2 374.26L170.7 375.92L170.95 379.3L170.88 381.3L170.7 382.8L170.2 384.31ZM182.7 389.82L180.2 389.89L177.34 389.8L175.51 389.3L177.7 388.91L179.7 388.8L182.2 388.91L184.94 389.3L183.7 389.66L182.7 389.82Z" fill="#333" fill-rule="evenodd"/>
<path d="M194.7 391.33L192.7 391.59L170.2 391.75L167.7 391.59L167.41 391.3L167.25 389.3L167.33 386.8L167.28 377.3L167.35 371.8L167.51 367.8L167.84 364.8L168.44 361.8L169.06 359.8L169.7 358.74L170.2 358.67L170.7 359.23L171.33 360.8L172.2 364.08L172.7 365.38L173.2 365.86L173.7 365.87L176.7 365L179.7 364.48L182.7 364.29L184.2 364.34L185.2 364.49L186.04 364.8L186.7 365.4L187.94 368.3L188.7 369.78L189.2 370.47L189.7 370.61L190.2 369.32L190.26 368.8L190.44 366.3L190.39 362.8L190.81 361.3L191.05 360.8L191.7 359.86L192.2 359.44L192.7 359.27L193.2 359.33L193.7 359.6L194.36 360.3L194.53 360.8L194.55 361.3L194.2 363.8L194.14 366.3L194.79 375.3L194.89 378.3L194.83 381.3L194.46 386.8L194.8 387.3L195.2 387.43L199.7 388.05L201.7 388.43L203.07 388.8L203.85 389.3L203.52 389.8L201.7 390.38L198.2 390.94L194.7 391.33ZM188.2 391.32L181.2 391.55L172.7 391.48L170.2 391.67L168.7 391.58L167.7 391.27L167.38 390.3L167.32 389.3L167.53 386.8L167.4 378.8L167.6 371.3L167.85 368.8L168.46 365.3L169.15 362.8L169.7 361.84L170.2 361.76L170.7 362.38L171.38 364.3L172.2 367.48L172.7 368.61L173.2 368.96L173.7 368.92L175.2 368.43L176.7 368.08L178.2 367.94L179.2 367.95L181.2 368.29L182.2 368.63L183.2 369.12L184.2 369.78L185.2 370.6L186.2 371.63L187.13 372.8L188.34 374.8L189.7 377.91L190.2 376.8L190.99 371.8L191.7 368.44L192.2 367.29L192.7 367.28L193.2 368.43L193.59 370.3L193.93 372.8L194.12 375.3L194.14 380.8L193.93 383.8L193.49 386.8L193.65 387.3L194.37 387.8L199.2 388.75L200.29 389.3L199.9 389.8L198.7 390.16L197.2 390.47L194.82 390.8L193.2 391.2L192.2 391.3L190.2 391.22L188.2 391.32ZM190.74 387.3L191.21 386.8L191.18 386.3L190.2 382.3L189.7 381.79L188.94 383.8L187.74 386.3L187.79 386.8L189.08 387.3L190.2 387.36L190.74 387.3ZM184.7 391.31L179.2 391.44L172.7 391.32L170.7 391.59L169.7 391.6L168.7 391.46L168.23 391.3L167.7 390.89L167.48 390.3L167.38 389.3L167.71 386.8L167.5 379.8L167.55 375.8L167.7 372.65L167.97 370.3L168.56 366.8L169.2 364.37L169.7 363.46L170.2 363.36L170.7 364.03L171.3 365.8L172.2 369.31L172.7 370.37L173.2 370.66L173.7 370.58L175.7 369.89L177.7 369.58L179.2 369.63L180.7 369.92L182.2 370.5L183.7 371.42L185.2 372.77L186.2 374L186.98 375.3L187.61 376.8L187.98 378.3L188.12 380.3L187.96 381.8L187.57 383.3L186.91 384.8L185.99 386.3L185.92 386.8L186.92 387.3L190.2 387.71L191.2 387.57L192.08 387.3L192.2 387.12L192.7 387.26L193.53 387.8L194.2 388.06L197.4 388.8L198.42 389.3L197.98 389.8L197.7 389.89L192.7 390.98L190.2 390.99L184.7 391.31ZM192.2 386.31L191.7 385.29L191.56 384.8L191.07 382.3L190.88 380.3L190.87 377.8L191.12 374.8L191.7 371.38L192.2 370.09L192.7 370.05L193.2 371.37L193.58 373.8L193.79 376.8L193.79 379.8L193.57 382.8L193.2 384.99L192.7 386.25L192.2 386.31ZM180.2 391.31L176.7 391.29L172.7 391.13L170.7 391.51L169.7 391.53L168.56 391.3L167.7 390.63L167.57 390.3L167.46 389.8L167.48 388.8L167.94 387.3L167.95 386.8L167.7 384.19L167.61 381.3L167.62 377.3L167.76 374.3L168.02 371.8L168.55 368.3L169.2 365.63L169.7 364.66L170.2 364.55L170.7 365.26L171.36 367.3L172.2 370.7L172.7 371.74L173.2 371.99L175.7 371.1L177.2 370.82L178.7 370.8L180.2 371.05L181.7 371.59L183.2 372.5L184.2 373.36L185.41 374.8L186.24 376.3L186.76 377.8L187 379.3L186.99 380.8L186.73 382.3L186.19 383.8L185.64 384.8L184.53 386.3L184.36 386.8L185.24 387.3L188.49 387.8L190.2 387.92L192.2 387.75L192.7 387.81L194.2 388.34L195.94 388.8L197.02 389.3L196.55 389.8L192.7 390.73L189.83 390.8L184.7 391.17L180.2 391.31ZM192.7 384.23L192.2 384.3L191.7 382.91L191.4 380.8L191.32 378.8L191.41 376.3L191.7 373.92L192.2 372.23L192.7 372.2L193.24 374.3L193.42 376.3L193.47 378.3L193.41 380.3L193.22 382.3L192.7 384.23ZM171.2 391.35L170.2 391.48L168.85 391.3L168.33 390.8L167.7 390.41L167.53 389.8L167.5 389.3L167.7 388.19L168.02 387.8L168.19 387.3L167.81 383.3L167.7 380.69L167.76 376.8L168.04 373.3L168.5 369.8L169.02 367.3L169.2 366.65L169.7 365.61L170.2 365.49L170.7 366.23L170.9 366.8L172.2 371.85L172.7 372.89L173.2 373.11L175.2 372.26L176.7 371.85L178.2 371.74L179.7 371.93L181.2 372.42L182.7 373.3L183.83 374.3L184.96 375.8L185.47 376.8L185.94 378.3L186.12 379.8L186.02 381.3L185.62 382.8L185.17 383.8L184.55 384.8L183.19 386.3L182.9 386.8L183.74 387.3L186.97 387.8L190.2 388.08L192.7 388.05L194.91 388.8L195.92 389.3L195.44 389.8L193.2 390.46L192.2 390.6L180.7 391.18L176.7 391.16L172.7 390.95L172.2 391L171.2 391.35ZM192.7 382.14L192.2 382.24L191.88 380.8L191.73 379.3L191.78 376.8L192.2 374.36L192.7 374.35L193.07 376.8L193.06 379.8L192.7 382.14ZM170.7 391.38L169.7 391.41L169.12 391.3L168.59 390.8L167.7 390.19L167.55 389.3L167.7 388.45L168.2 387.88L168.35 387.3L167.93 382.8L167.83 379.8L167.93 376.3L168.32 372.3L168.78 369.3L169.2 367.51L169.7 366.42L170.2 366.29L170.7 367.05L170.95 367.8L172.2 372.88L172.7 373.94L173.2 374.15L175.2 373.15L176.7 372.7L178.2 372.58L179.2 372.68L180.7 373.12L182.2 373.95L183.2 374.81L184.32 376.3L184.81 377.3L185.22 378.8L185.31 380.3L185.09 381.8L184.53 383.3L183.92 384.3L183.04 385.3L181.8 386.3L181.32 386.8L182.21 387.3L185.62 387.8L190.2 388.24L192.7 388.28L194.22 388.8L195.06 389.3L194.62 389.8L193.2 390.27L192.2 390.44L184.2 390.94L180.7 391.06L176.7 391.03L172.7 390.79L172.2 390.83L170.7 391.38ZM174.35 387.3L174.8 386.8L174.2 386.3L173.2 385.75L172.7 385.84L172.21 386.8L172.31 387.3L172.7 387.48L173.2 387.49L174.35 387.3ZM170.7 391.32L169.7 391.35L169.2 391.17L167.7 389.99L167.61 389.3L167.7 388.67L168.2 388.15L168.39 387.8L168.5 387.3L168.08 382.8L167.96 379.8L168.04 376.8L168.38 372.8L168.75 370.3L169.2 368.24L169.7 367.09L170.2 366.95L170.7 367.74L170.89 368.3L172.2 373.79L172.7 374.91L173.2 375.1L175.2 373.94L176.7 373.44L177.7 373.31L179.2 373.42L180.7 373.9L182.14 374.8L183.2 375.88L184.05 377.3L184.51 378.8L184.61 380.3L184.37 381.8L183.74 383.3L182.7 384.66L181.7 385.49L179.7 386.54L178.84 386.8L180.36 387.3L184.4 387.8L190.2 388.36L192.7 388.45L193.73 388.8L194.45 389.3L194.05 389.8L193.2 390.1L192.2 390.29L186.2 390.72L180.7 390.96L177.2 390.93L172.7 390.69L171.7 390.81L170.7 391.32ZM176.15 387.3L177.26 386.8L176.7 386.66L175.2 386.02L173.2 384.81L172.7 384.89L172.2 385.76L171.95 386.8L171.97 387.3L172.2 387.59L172.7 387.8L173.2 387.79L176.15 387.3ZM170.2 391.32L169.7 391.29L167.7 389.8L167.65 389.3L167.78 388.8L168.2 388.39L168.54 387.8L168.63 387.3L168.27 383.8L168.08 379.8L168.17 376.8L168.49 372.8L168.88 370.3L169.2 368.88L169.7 367.68L170.2 367.52L170.7 368.34L170.85 368.8L171.37 370.8L172.2 374.66L172.7 375.89L173.2 376.07L175.2 374.68L176.7 374.12L178.2 373.98L179.7 374.23L181.2 374.93L182.2 375.73L182.7 376.3L183.55 377.8L183.93 379.3L183.92 380.8L183.51 382.3L182.7 383.68L181.54 384.8L180.7 385.33L179.7 385.73L178.7 385.94L177.7 385.98L176.7 385.83L175.7 385.51L174.7 384.98L173.2 383.86L172.7 383.94L172.2 384.92L171.71 386.8L171.72 387.3L172.09 387.8L172.7 387.93L173.2 387.92L177.2 387.44L180.2 387.47L190.2 388.47L192.2 388.53L193.29 388.8L193.98 389.3L193.58 389.8L192.2 390.15L186.2 390.64L181.2 390.85L177.7 390.84L172.2 390.61L171.42 390.8L170.7 391.19L170.2 391.32ZM170.7 391.03L170.2 391.19L169.7 391.12L167.93 389.8L167.71 389.3L168.68 387.8L168.76 387.3L168.37 383.8L168.21 380.3L168.26 376.8L168.54 373.3L169.2 369.48L169.7 368.23L170.2 368.07L170.7 368.91L170.97 369.8L172.2 375.58L172.7 377.02L173.2 377.2L174.7 375.79L175.44 375.3L176.2 374.95L177.7 374.64L179.2 374.78L180.7 375.39L181.7 376.16L182.2 376.72L182.7 377.5L183.05 378.3L183.32 379.8L183.16 381.3L182.52 382.8L181.73 383.8L181.2 384.25L180.29 384.8L179.7 385.04L178.7 385.28L177.7 385.31L176.2 385.01L175.2 384.52L174.7 384.17L173.2 382.74L172.7 382.83L172.2 384.03L171.64 386.3L171.55 387.3L171.8 387.8L172.2 388L172.7 388.07L177.2 387.65L180.2 387.66L185.2 388.05L190.2 388.58L192.2 388.68L192.79 388.8L193.55 389.3L193.11 389.8L192.2 390.01L186.7 390.53L183.2 390.71L179.2 390.78L176.2 390.71L172.7 390.49L171.7 390.6L170.7 391.03ZM170.7 390.9L170.2 391.06L169.7 390.98L169.2 390.69L168.12 389.8L167.89 389.3L168.7 387.99L168.86 387.3L168.45 383.8L168.28 380.8L168.31 377.3L168.57 373.8L169.2 369.97L169.7 368.67L170.2 368.5L170.7 369.36L171.1 370.8L172.2 376.44L172.7 378.34L173.2 378.59L174.44 376.8L174.96 376.3L175.7 375.79L177.2 375.27L178.7 375.25L180.2 375.75L181.02 376.3L181.54 376.8L182.2 377.74L182.45 378.3L182.76 379.8L182.58 381.3L182.17 382.3L181.7 383L180.87 383.8L180.2 384.23L178.7 384.71L177.2 384.7L176.2 384.41L175.7 384.17L174.56 383.3L174.12 382.8L173.2 381.36L172.7 381.5L172.2 383.19L171.43 386.8L171.41 387.3L171.61 387.8L172.2 388.12L172.7 388.18L175.7 387.89L178.2 387.77L183.2 387.96L192.13 388.8L192.7 388.99L193.21 389.3L192.67 389.8L192.2 389.89L186.2 390.5L182.7 390.68L179.2 390.72L176.2 390.65L172.7 390.41L171.7 390.52L170.7 390.9ZM170.2 390.94L169.7 390.86L169.2 390.59L168.26 389.8L168.04 389.3L168.88 387.8L168.95 387.3L168.52 383.8L168.34 380.8L168.37 377.3L168.59 374.3L169.2 370.39L169.7 369.04L170.2 368.86L170.7 369.75L171.23 371.8L172.54 379.3L172.55 380.3L172.44 381.3L171.32 386.8L171.29 387.3L171.48 387.8L172.2 388.23L172.7 388.28L175.7 387.97L177.7 387.87L180.2 387.87L183.2 388.02L191.7 388.92L192.2 389.01L192.86 389.3L192.11 389.8L185.7 390.48L179.2 390.68L172.2 390.35L170.2 390.94ZM179.7 383.9L179.2 384.08L178.2 384.25L177.2 384.18L176.7 384.05L176.09 383.8L175.2 383.2L174.7 382.68L174.12 381.8L173.91 381.3L173.69 380.3L173.68 379.8L173.87 378.8L174.34 377.8L174.7 377.29L175.2 376.77L176.2 376.12L177.16 375.8L177.7 375.73L178.7 375.78L179.7 376.08L180.82 376.8L181.3 377.3L181.9 378.3L182.2 379.3L182.25 380.3L182.18 380.8L181.85 381.8L181.2 382.81L180.69 383.3L179.7 383.9ZM170.2 390.81L169.7 390.75L169.2 390.49L168.39 389.8L168.2 389.3L168.39 388.8L168.98 387.8L169.05 387.3L168.6 383.8L168.42 381.3L168.42 377.8L168.61 374.8L169.2 370.83L169.7 369.43L170.2 369.24L170.7 370.15L171.34 372.8L172.01 376.8L172.24 379.3L172.24 380.3L172.07 382.3L171.2 386.8L171.17 387.3L171.34 387.8L171.7 388.12L172.1 388.3L172.7 388.37L177.7 387.94L180.2 387.94L183.2 388.09L188.7 388.64L191.7 389.1L192.42 389.3L191.11 389.8L187.7 390.24L185.2 390.45L181.7 390.61L178.7 390.62L172.2 390.28L170.2 390.81ZM179.2 383.47L178.7 383.61L177.7 383.66L176.39 383.3L175.7 382.87L175.2 382.38L174.56 381.3L174.41 380.8L174.32 379.8L174.38 379.3L174.7 378.36L175.49 377.3L176.15 376.8L176.7 376.54L177.2 376.39L178.2 376.31L179.2 376.51L179.7 376.72L180.7 377.5L181.2 378.19L181.47 378.8L181.61 379.3L181.66 380.3L181.43 381.3L181.21 381.8L180.37 382.8L179.7 383.26L179.2 383.47ZM186.2 390.31L182.7 390.52L179.2 390.57L176.2 390.47L172.2 390.18L170.2 390.71L169.7 390.64L169.2 390.37L168.54 389.8L168.34 389.3L169.1 387.8L169.16 387.3L168.74 384.3L168.53 381.8L168.46 379.3L168.54 376.8L169.02 372.3L169.2 371.34L169.7 369.87L170.2 369.67L170.75 370.8L171.42 373.8L172.03 378.3L172.02 381.3L171.59 384.3L171.07 386.8L171.03 387.3L171.17 387.8L171.7 388.27L172.2 388.44L173.2 388.44L177.2 388.05L181.2 388.05L187.7 388.59L189.23 388.8L191.56 389.3L190.2 389.8L186.2 390.31ZM178.7 382.83L177.7 382.89L176.7 382.6L176.2 382.29L175.71 381.8L175.2 380.8L175.1 379.8L175.35 378.8L175.63 378.3L176.08 377.8L176.7 377.38L177.2 377.19L178.2 377.09L179.2 377.33L179.7 377.63L180.2 378.1L180.65 378.8L180.82 379.3L180.89 380.3L180.6 381.3L180.28 381.8L179.78 382.3L178.7 382.83ZM185.2 390.33L182.2 390.48L178.7 390.51L176.2 390.42L172.2 390.1L170.2 390.62L169.7 390.55L169.2 390.27L168.67 389.8L168.46 389.3L169.2 387.8L169.28 387.3L168.87 384.8L168.63 382.3L168.53 379.8L168.58 377.3L169.02 372.8L169.2 371.78L169.7 370.25L170.2 370.04L170.78 371.3L171.41 374.3L171.9 378.3L171.89 381.3L171.49 384.3L170.96 386.8L170.9 387.3L171.04 387.8L171.56 388.3L172.2 388.53L173.2 388.52L177.2 388.12L181.2 388.12L187.7 388.66L188.7 388.8L190.63 389.3L189.64 389.8L185.2 390.33ZM178.7 381.94L178.2 382.05L177.7 382.04L177.2 381.9L176.4 381.3L176.1 380.8L175.96 380.3L175.95 379.8L176.05 379.3L176.31 378.8L176.7 378.38L177.2 378.09L177.7 377.95L178.2 377.94L178.7 378.05L179.2 378.3L179.7 378.8L179.94 379.3L180.05 379.8L180.04 380.3L179.9 380.8L179.6 381.3L179.2 381.68L178.7 381.94ZM184.2 390.33L181.2 390.45L178.2 390.44L172.2 390.01L170.2 390.52L169.7 390.44L168.8 389.8L168.59 389.3L168.77 388.8L169.34 387.8L169.42 387.3L169.03 385.3L168.74 382.8L168.61 380.3L168.65 377.3L169.02 373.3L169.2 372.25L169.7 370.65L170.2 370.43L170.7 371.43L171.4 374.8L171.77 378.3L171.82 379.8L171.75 381.3L171.47 383.8L170.83 386.8L170.77 387.3L170.89 387.8L171.38 388.3L172.2 388.63L172.7 388.65L177.2 388.21L181.2 388.2L187.2 388.67L188.15 388.8L189.99 389.3L189.09 389.8L186.7 390.12L184.2 390.33ZM170.2 386.8L169.7 386.47L169.2 384.59L168.94 382.3L168.83 379.3L168.94 376.3L169.2 373.96L169.7 372.02L170.2 371.75L170.7 372.87L171.08 374.8L171.39 377.3L171.48 379.8L171.34 382.3L171.04 384.3L170.7 385.76L170.2 386.8ZM187.2 389.81L183.2 390.18L178.7 390.25L175.2 390.04L173.39 389.8L172.7 389.55L172.2 389.52L170.7 390.1L170.2 390.19L169.7 390.09L169.26 389.8L169.01 389.3L169.16 388.8L169.7 388.05L170.2 387.85L171.7 388.94L172.2 389.14L172.7 389.12L174.2 388.76L176.2 388.53L180.2 388.4L182.7 388.5L185.7 388.74L188.25 389.3L187.2 389.81ZM170.2 385.55L169.7 385.2L169.37 383.8L169.11 381.8L169.03 379.3L169.12 376.8L169.36 374.8L169.7 373.3L170.2 372.97L170.7 374.28L170.88 375.3L171.12 377.3L171.21 379.3L171.14 381.3L170.91 383.3L170.7 384.41L170.2 385.55ZM170.2 389.87L169.7 389.69L169.44 389.3L169.7 388.7L170.2 388.5L170.83 388.8L171.27 389.3L170.7 389.78L170.2 389.87ZM185.2 389.82L181.2 390.07L177.7 390.02L175.13 389.8L173.91 389.3L175.82 388.8L179.7 388.6L184.15 388.8L186.68 389.3L185.2 389.82ZM170.2 384.31L169.7 383.85L169.59 383.3L169.32 381.3L169.24 379.3L169.32 377.3L169.58 375.3L169.7 374.69L170.2 374.26L170.7 375.92L170.95 379.3L170.88 381.3L170.7 382.8L170.2 384.31ZM182.7 389.82L180.2 389.89L177.34 389.8L175.51 389.3L177.7 388.91L179.7 388.8L182.2 388.91L184.94 389.3L183.7 389.66L182.7 389.82ZM170.2 382.85L169.7 382.15L169.51 379.3L169.7 376.43L170.2 375.76L170.53 377.3L170.69 379.3L170.55 381.3L170.2 382.85ZM182.2 389.37L179.7 389.51L177.7 389.3L180.2 389.16L182.61 389.3L182.2 389.37Z" fill="none" stroke="#111" stroke-width="0.5"/>
</g>
<rect x="168.7" y="302.3" width="88.3" height="87.7" fill="none" stroke="#555" stroke-width="0.8"/>
<path d="M166.1 312.1L168.7 312.1" stroke="#222" stroke-width="0.9"/>
<text x="150.6" y="315.35" font-size="9.1" stroke="#222" stroke-width="0.22" textLength="8.7" lengthAdjust="spacingAndGlyphs">10</text>
<text x="159.5" y="311.45" font-size="5.9" stroke="#222" stroke-width="0.22" textLength="3.1" lengthAdjust="spacingAndGlyphs">5</text>
<path d="M166.1 331.6L168.7 331.6" stroke="#222" stroke-width="0.9"/>
<text x="150.6" y="334.85" font-size="9.1" stroke="#222" stroke-width="0.22" textLength="8.7" lengthAdjust="spacingAndGlyphs">10</text>
<text x="159.5" y="330.95" font-size="5.9" stroke="#222" stroke-width="0.22" textLength="3.1" lengthAdjust="spacingAndGlyphs">4</text>
<path d="M166.1 350.7L168.7 350.7" stroke="#222" stroke-width="0.9"/>
<text x="150.6" y="353.95" font-size="9.1" stroke="#222" stroke-width="0.22" textLength="8.7" lengthAdjust="spacingAndGlyphs">10</text>
<text x="159.5" y="350.05" font-size="5.9" stroke="#222" stroke-width="0.22" textLength="3.1" lengthAdjust="spacingAndGlyphs">3</text>
<path d="M166.1 370.8L168.7 370.8" stroke="#222" stroke-width="0.9"/>
<text x="150.6" y="374.05" font-size="9.1" stroke="#222" stroke-width="0.22" textLength="8.7" lengthAdjust="spacingAndGlyphs">10</text>
<text x="159.5" y="370.15" font-size="5.9" stroke="#222" stroke-width="0.22" textLength="3.1" lengthAdjust="spacingAndGlyphs">2</text>
<path d="M166.1 385.7L168.7 385.7" stroke="#222" stroke-width="0.9"/>
<text x="163.1" y="388.95" font-size="9.1" stroke="#222" stroke-width="0.22" text-anchor="end" textLength="4.4" lengthAdjust="spacingAndGlyphs">0</text>
<path d="M167.3 364.9h1.4M167.3 361.45h1.4M167.3 359h1.4M167.3 357.1h1.4M167.3 355.55h1.4M167.3 354.24h1.4M167.3 353.1h1.4M167.3 352.1h1.4M167.3 344.8h1.4M167.3 341.35h1.4M167.3 338.9h1.4M167.3 337h1.4M167.3 335.45h1.4M167.3 334.14h1.4M167.3 333h1.4M167.3 332h1.4M167.3 325.7h1.4M167.3 322.25h1.4M167.3 319.8h1.4M167.3 317.9h1.4M167.3 316.35h1.4M167.3 315.04h1.4M167.3 313.9h1.4M167.3 312.9h1.4M167.3 373.7h1.4M167.3 376.6h1.4M167.3 379.5h1.4M167.3 382.4h1.4M167.3 385.3h1.4" stroke="#333" stroke-width="0.6"/>
<text x="172.9" y="404.1" font-size="9.1" stroke="#222" stroke-width="0.22" text-anchor="middle" textLength="4.4" lengthAdjust="spacingAndGlyphs">0</text>
<path d="M172.9 390L172.9 392.6" stroke="#222" stroke-width="0.9"/>
<text x="182.9" y="404.1" font-size="9.1" stroke="#222" stroke-width="0.22" textLength="8.7" lengthAdjust="spacingAndGlyphs">10</text>
<text x="191.8" y="400.2" font-size="5.9" stroke="#222" stroke-width="0.22" textLength="3.1" lengthAdjust="spacingAndGlyphs">2</text>
<path d="M189.1 390L189.1 392.6" stroke="#222" stroke-width="0.9"/>
<text x="203.7" y="404.1" font-size="9.1" stroke="#222" stroke-width="0.22" textLength="8.7" lengthAdjust="spacingAndGlyphs">10</text>
<text x="212.6" y="400.2" font-size="5.9" stroke="#222" stroke-width="0.22" textLength="3.1" lengthAdjust="spacingAndGlyphs">3</text>
<path d="M209.9 390L209.9 392.6" stroke="#222" stroke-width="0.9"/>
<text x="223.9" y="404.1" font-size="9.1" stroke="#222" stroke-width="0.22" textLength="8.7" lengthAdjust="spacingAndGlyphs">10</text>
<text x="232.8" y="400.2" font-size="5.9" stroke="#222" stroke-width="0.22" textLength="3.1" lengthAdjust="spacingAndGlyphs">4</text>
<path d="M230.1 390L230.1 392.6" stroke="#222" stroke-width="0.9"/>
<text x="242.5" y="404.1" font-size="9.1" stroke="#222" stroke-width="0.22" textLength="8.7" lengthAdjust="spacingAndGlyphs">10</text>
<text x="251.4" y="400.2" font-size="5.9" stroke="#222" stroke-width="0.22" textLength="3.1" lengthAdjust="spacingAndGlyphs">5</text>
<path d="M248.7 390L248.7 392.6" stroke="#222" stroke-width="0.9"/>
<path d="M195.18 390v1.4M198.74 390v1.4M201.26 390v1.4M203.22 390v1.4M204.82 390v1.4M206.17 390v1.4M207.34 390v1.4M208.38 390v1.4M215.98 390v1.4M219.54 390v1.4M222.06 390v1.4M224.02 390v1.4M225.62 390v1.4M226.97 390v1.4M228.14 390v1.4M229.18 390v1.4M236.18 390v1.4M239.74 390v1.4M242.26 390v1.4M244.22 390v1.4M245.82 390v1.4M247.17 390v1.4M248.34 390v1.4M249.38 390v1.4M175.7 390v1.4M178.5 390v1.4M181.3 390v1.4M184.1 390v1.4M186.9 390v1.4" stroke="#333" stroke-width="0.6"/>
<text x="214.35" y="417.2" font-size="10.5" stroke="#222" stroke-width="0.22" text-anchor="middle" textLength="25" lengthAdjust="spacingAndGlyphs">NKp46</text>
<text x="145" y="347.5" font-size="10.4" stroke="#222" stroke-width="0.22" text-anchor="middle" textLength="15.4" lengthAdjust="spacingAndGlyphs" transform="rotate(-90 145 347.5)">CD3</text>
<path d="M169 358.5L169 327.7L192.3 327.7L200 337L202.3 345.4L192.7 355L169 358.5" stroke="#5a66f0" stroke-width="0.8" fill="none" stroke-linejoin="round"/>
<path d="M204.6 390.2L206.2 374.8L216.2 360L226.9 360.4L233.5 369L231.5 390.2" stroke="#5a66f0" stroke-width="0.8" fill="none" stroke-linejoin="round"/>
<text x="202.7" y="331.4" font-size="7.2" stroke="#4450ee" stroke-width="0.12" fill="#4450ee" textLength="19.0" lengthAdjust="spacingAndGlyphs">0.0585</text>
<text x="234" y="360.7" font-size="7.2" stroke="#4450ee" stroke-width="0.12" fill="#4450ee" textLength="15.55" lengthAdjust="spacingAndGlyphs">0.178</text>
<text x="7.6" y="18.6" font-size="12.6" stroke="#000" stroke-width="0.22" font-weight="bold" fill="#000">A</text>
<text x="93.9" y="30.5" font-size="10.2" stroke="#222" stroke-width="0.22" textLength="102.8" lengthAdjust="spacingAndGlyphs">Injected bone marrow</text>
<path d="M57.3 35.6L233.4 35.6" stroke="#222" stroke-width="1.1"/>
<text x="69" y="49.6" font-size="8.9" stroke="#222" stroke-width="0.22" textLength="22.1" lengthAdjust="spacingAndGlyphs">BRGS</text>
<text x="91.7" y="46.1" font-size="6.3" stroke="#222" stroke-width="0.1" font-style="italic" textLength="14.4" lengthAdjust="spacingAndGlyphs">NOD</text>
<text x="192.2" y="49.6" font-size="8.9" stroke="#222" stroke-width="0.22" textLength="21.6" lengthAdjust="spacingAndGlyphs">BRGS</text>
<text x="214.4" y="45.9" font-size="6.0" stroke="#222" stroke-width="0.05" textLength="19.6" lengthAdjust="spacingAndGlyphs">human</text>
<text x="280.3" y="18.7" font-size="12.6" stroke="#000" stroke-width="0.22" font-weight="bold" fill="#000">B</text>
<rect x="311.2" y="61.8" width="98.7" height="126" fill="#c5c3c8"/>
<path d="M311.2 61.5L311.2 188.5" stroke="#222" stroke-width="1.4"/>
<path d="M307.2 187.8L311.2 187.8" stroke="#222" stroke-width="0.9"/>
<text x="304.5" y="191" font-size="9.3" stroke="#222" stroke-width="0.22" text-anchor="end" textLength="4.2" lengthAdjust="spacingAndGlyphs">0</text>
<path d="M307.2 146.4L311.2 146.4" stroke="#222" stroke-width="0.9"/>
<text x="304.5" y="149.6" font-size="9.3" stroke="#222" stroke-width="0.22" text-anchor="end" textLength="9.8" lengthAdjust="spacingAndGlyphs">20</text>
<path d="M307.2 105L311.2 105" stroke="#222" stroke-width="0.9"/>
<text x="304.5" y="108.2" font-size="9.3" stroke="#222" stroke-width="0.22" text-anchor="end" textLength="9.8" lengthAdjust="spacingAndGlyphs">40</text>
<path d="M307.2 63.6L311.2 63.6" stroke="#222" stroke-width="0.9"/>
<text x="304.5" y="66.8" font-size="9.3" stroke="#222" stroke-width="0.22" text-anchor="end" textLength="9.8" lengthAdjust="spacingAndGlyphs">60</text>
<path d="M409.9 61L409.9 191" stroke="#222" stroke-width="1.1"/>
<path d="M310.7 187.8L512 187.8" stroke="#222" stroke-width="1.4"/>
<path d="M311 187.8L311 191" stroke="#222" stroke-width="0.9"/>
<path d="M360.7 187.8L360.7 191" stroke="#222" stroke-width="0.9"/>
<path d="M409.9 187.8L409.9 191" stroke="#222" stroke-width="0.9"/>
<path d="M459.4 187.8L459.4 191" stroke="#222" stroke-width="0.9"/>
<path d="M509 187.8L509 191" stroke="#222" stroke-width="0.9"/>
<text x="411.4" y="30" font-size="10.2" stroke="#222" stroke-width="0.22" text-anchor="middle" textLength="103.4" lengthAdjust="spacingAndGlyphs">Injected bone marrow</text>
<text x="411.7" y="42.2" font-size="10.2" stroke="#222" stroke-width="0.22" text-anchor="middle" textLength="61.1" lengthAdjust="spacingAndGlyphs">human CD33</text>
<text x="289.4" y="124" font-size="8.3" stroke="#222" stroke-width="0.22" text-anchor="middle" textLength="68.9" lengthAdjust="spacingAndGlyphs" transform="rotate(-90 289.4 124)">% of hCD45+ cells</text>
<path d="M333.5 116.5V55.5H384.5V58.5" stroke="#222" stroke-width="1" fill="none"/>
<circle cx="357.2" cy="51.3" r="1.15" fill="#222"/>
<circle cx="360.8" cy="51.3" r="1.15" fill="#222"/>
<path d="M432.5 117V55.5H483.5V68.3" stroke="#222" stroke-width="1" fill="none"/>
<circle cx="458.2" cy="51.5" r="1.15" fill="#222"/>
<path d="M315.3 169.1L355.7 169.1" stroke="#222" stroke-width="1.4"/>
<path d="M365.1 143L405.3 143" stroke="#222" stroke-width="1.4"/>
<path d="M414.2 160.8L454.8 160.8" stroke="#222" stroke-width="1.4"/>
<path d="M464.6 133.4L504.8 133.4" stroke="#222" stroke-width="1.4"/>
<path d="M333.1 148.1L338.1 148.1L335.6 143.8Z" fill="#ae022d"/>
<path d="M333.1 153.9L338.1 153.9L335.6 149.6Z" fill="#ae022d"/>
<path d="M338.2 166.9L343.2 166.9L340.7 162.6Z" fill="#ae022d"/>
<path d="M328.1 171.1L333.1 171.1L330.6 166.8Z" fill="#ae022d"/>
<path d="M333.1 170.7L338.1 170.7L335.6 166.4Z" fill="#ae022d"/>
<path d="M323.2 173.2L328.2 173.2L325.7 168.9Z" fill="#ae022d"/>
<path d="M333.1 174.6L338.1 174.6L335.6 170.3Z" fill="#ae022d"/>
<path d="M338.2 174.9L343.2 174.9L340.7 170.6Z" fill="#ae022d"/>
<path d="M343.3 173.5L348.3 173.5L345.8 169.2Z" fill="#ae022d"/>
<path d="M318.1 177L323.1 177L320.6 172.7Z" fill="#ae022d"/>
<path d="M325.7 177L330.7 177L328.2 172.7Z" fill="#ae022d"/>
<path d="M333.1 179.3L338.1 179.3L335.6 175Z" fill="#ae022d"/>
<path d="M333.1 183.6L338.1 183.6L335.6 179.3Z" fill="#ae022d"/>
<path d="M432.3 154.3L437.3 154.3L434.8 150Z" fill="#ae022d"/>
<path d="M432.3 160.7L437.3 160.7L434.8 156.4Z" fill="#ae022d"/>
<path d="M437.1 161.1L442.1 161.1L439.6 156.8Z" fill="#ae022d"/>
<path d="M432.3 164.9L437.3 164.9L434.8 160.6Z" fill="#ae022d"/>
<path d="M427.2 169.1L432.2 169.1L429.7 164.8Z" fill="#ae022d"/>
<path d="M432.3 170.8L437.3 170.8L434.8 166.5Z" fill="#ae022d"/>
<circle cx="385.1" cy="71.1" r="2.65" fill="#ae022d"/>
<circle cx="385.1" cy="117.9" r="2.65" fill="#ae022d"/>
<circle cx="385.1" cy="129.4" r="2.65" fill="#ae022d"/>
<circle cx="380.1" cy="140.2" r="2.65" fill="#ae022d"/>
<circle cx="385.1" cy="142" r="2.65" fill="#ae022d"/>
<circle cx="390.2" cy="143.9" r="2.65" fill="#ae022d"/>
<circle cx="385.1" cy="147.4" r="2.65" fill="#ae022d"/>
<circle cx="385.1" cy="151.8" r="2.65" fill="#ae022d"/>
<circle cx="380.1" cy="156.8" r="2.65" fill="#ae022d"/>
<circle cx="385.1" cy="156.8" r="2.65" fill="#ae022d"/>
<circle cx="390.2" cy="157.4" r="2.65" fill="#ae022d"/>
<circle cx="380.1" cy="163.1" r="2.65" fill="#ae022d"/>
<circle cx="390.2" cy="163.1" r="2.65" fill="#ae022d"/>
<circle cx="385.1" cy="165.6" r="2.65" fill="#ae022d"/>
<circle cx="484.2" cy="75.5" r="2.65" fill="#ae022d"/>
<circle cx="484.5" cy="125.2" r="2.65" fill="#ae022d"/>
<circle cx="484.5" cy="130.1" r="2.65" fill="#ae022d"/>
<circle cx="484.5" cy="137.9" r="2.65" fill="#ae022d"/>
<circle cx="479.4" cy="142.8" r="2.65" fill="#ae022d"/>
<circle cx="484.5" cy="143.8" r="2.65" fill="#ae022d"/>
<circle cx="488.9" cy="146.4" r="2.65" fill="#ae022d"/>
<circle cx="479.4" cy="149.8" r="2.65" fill="#ae022d"/>
<circle cx="484.5" cy="148.7" r="2.65" fill="#ae022d"/>
<text x="343.7" y="166.6" font-size="8.25" stroke="#222" stroke-width="0.22" textLength="15.55" lengthAdjust="spacingAndGlyphs">9.08</text>
<text x="388.8" y="140.7" font-size="8.25" stroke="#222" stroke-width="0.22" textLength="20.0" lengthAdjust="spacingAndGlyphs">21.65</text>
<text x="442.8" y="159.9" font-size="8.25" stroke="#222" stroke-width="0.22" textLength="20.0" lengthAdjust="spacingAndGlyphs">12.88</text>
<text x="492.2" y="132.2" font-size="8.25" stroke="#222" stroke-width="0.22" textLength="20.0" lengthAdjust="spacingAndGlyphs">26.21</text>
<rect x="311.2" y="272" width="96.6" height="127.6" fill="#c5c3c8"/>
<path d="M311.2 271.7L311.2 400.3" stroke="#222" stroke-width="1.4"/>
<path d="M307.2 399.6L311.2 399.6" stroke="#222" stroke-width="0.9"/>
<text x="304.5" y="402.8" font-size="9.3" stroke="#222" stroke-width="0.22" text-anchor="end" textLength="4.2" lengthAdjust="spacingAndGlyphs">0</text>
<path d="M307.2 374.62L311.2 374.62" stroke="#222" stroke-width="0.9"/>
<text x="304.5" y="377.82" font-size="9.3" stroke="#222" stroke-width="0.22" text-anchor="end" textLength="9.8" lengthAdjust="spacingAndGlyphs">20</text>
<path d="M307.2 349.64L311.2 349.64" stroke="#222" stroke-width="0.9"/>
<text x="304.5" y="352.84" font-size="9.3" stroke="#222" stroke-width="0.22" text-anchor="end" textLength="9.8" lengthAdjust="spacingAndGlyphs">40</text>
<path d="M307.2 324.66L311.2 324.66" stroke="#222" stroke-width="0.9"/>
<text x="304.5" y="327.86" font-size="9.3" stroke="#222" stroke-width="0.22" text-anchor="end" textLength="9.8" lengthAdjust="spacingAndGlyphs">60</text>
<path d="M307.2 299.68L311.2 299.68" stroke="#222" stroke-width="0.9"/>
<text x="304.5" y="302.88" font-size="9.3" stroke="#222" stroke-width="0.22" text-anchor="end" textLength="9.8" lengthAdjust="spacingAndGlyphs">80</text>
<path d="M307.2 274.7L311.2 274.7" stroke="#222" stroke-width="0.9"/>
<text x="304.5" y="277.9" font-size="9.3" stroke="#222" stroke-width="0.22" text-anchor="end" textLength="14.2" lengthAdjust="spacingAndGlyphs">100</text>
<path d="M407.8 271.2L407.8 402.8" stroke="#222" stroke-width="1.1"/>
<path d="M310.7 399.6L507 399.6" stroke="#222" stroke-width="1.4"/>
<path d="M310.8 399.6L310.8 402.8" stroke="#222" stroke-width="0.9"/>
<path d="M359.3 399.6L359.3 402.8" stroke="#222" stroke-width="0.9"/>
<path d="M407.9 399.6L407.9 402.8" stroke="#222" stroke-width="0.9"/>
<path d="M456.5 399.6L456.5 402.8" stroke="#222" stroke-width="0.9"/>
<path d="M505.2 399.6L505.2 402.8" stroke="#222" stroke-width="0.9"/>
<text x="409.2" y="239.3" font-size="10.2" stroke="#222" stroke-width="0.22" text-anchor="middle" textLength="102.2" lengthAdjust="spacingAndGlyphs">Injected bone marrow</text>
<text x="409.1" y="250.8" font-size="10.2" stroke="#222" stroke-width="0.22" text-anchor="middle" textLength="60.7" lengthAdjust="spacingAndGlyphs">human CD19</text>
<text x="284.6" y="336" font-size="8.3" stroke="#222" stroke-width="0.22" text-anchor="middle" textLength="68.2" lengthAdjust="spacingAndGlyphs" transform="rotate(-90 284.6 336)">% of hCD45+ cells</text>
<path d="M333 276V265.4H384.5V274.8" stroke="#222" stroke-width="1" fill="none"/>
<circle cx="358.6" cy="261.3" r="1.15" fill="#222"/>
<path d="M432.6 277.6V267.4H481.6V275.3" stroke="#222" stroke-width="1" fill="none"/>
<text x="456.55" y="263.9" font-size="8.0" stroke="#222" stroke-width="0.22" text-anchor="middle" textLength="29.5" lengthAdjust="spacingAndGlyphs">p=0.091</text>
<path d="M315.2 292.3L354.8 292.3" stroke="#222" stroke-width="1.4"/>
<path d="M363.7 306.1L402.9 306.1" stroke="#222" stroke-width="1.4"/>
<path d="M412.1 292.6L451.9 292.6" stroke="#222" stroke-width="1.4"/>
<path d="M460.8 317.6L500.6 317.6" stroke="#222" stroke-width="1.4"/>
<path d="M332.5 284.9L337.5 284.9L335 280.6Z" fill="#ae022d"/>
<path d="M318.1 289.5L323.1 289.5L320.6 285.2Z" fill="#ae022d"/>
<path d="M323 291.2L328 291.2L325.5 286.9Z" fill="#ae022d"/>
<path d="M327.3 288.7L332.3 288.7L329.8 284.4Z" fill="#ae022d"/>
<path d="M332.5 289.5L337.5 289.5L335 285.2Z" fill="#ae022d"/>
<path d="M332.5 291.8L337.5 291.8L335 287.5Z" fill="#ae022d"/>
<path d="M337.1 291.8L342.1 291.8L339.6 287.5Z" fill="#ae022d"/>
<path d="M327.3 293.5L332.3 293.5L329.8 289.2Z" fill="#ae022d"/>
<path d="M332.5 293.8L337.5 293.8L335 289.5Z" fill="#ae022d"/>
<path d="M342 294.5L347 294.5L344.5 290.2Z" fill="#ae022d"/>
<path d="M329.6 299.1L334.6 299.1L332.1 294.8Z" fill="#ae022d"/>
<path d="M335.4 300.7L340.4 300.7L337.9 296.4Z" fill="#ae022d"/>
<path d="M332.3 304.5L337.3 304.5L334.8 300.2Z" fill="#ae022d"/>
<path d="M332.3 309.1L337.3 309.1L334.8 304.8Z" fill="#ae022d"/>
<path d="M424.2 289.7L429.2 289.7L426.7 285.4Z" fill="#ae022d"/>
<path d="M433.9 290.2L438.9 290.2L436.4 285.9Z" fill="#ae022d"/>
<path d="M424.2 293.5L429.2 293.5L426.7 289.2Z" fill="#ae022d"/>
<path d="M429.5 292.8L434.5 292.8L432 288.5Z" fill="#ae022d"/>
<path d="M429.5 300.1L434.5 300.1L432 295.8Z" fill="#ae022d"/>
<path d="M429.5 303.9L434.5 303.9L432 299.6Z" fill="#ae022d"/>
<circle cx="378.5" cy="291.9" r="2.6" fill="#ae022d"/>
<circle cx="383.5" cy="292.2" r="2.6" fill="#ae022d"/>
<circle cx="388.4" cy="290.8" r="2.6" fill="#ae022d"/>
<circle cx="388.4" cy="294.8" r="2.6" fill="#ae022d"/>
<circle cx="378.5" cy="297.5" r="2.6" fill="#ae022d"/>
<circle cx="383.5" cy="299.6" r="2.6" fill="#ae022d"/>
<circle cx="393" cy="301.7" r="2.6" fill="#ae022d"/>
<circle cx="378.5" cy="305.9" r="2.6" fill="#ae022d"/>
<circle cx="388.4" cy="307.7" r="2.6" fill="#ae022d"/>
<circle cx="383.5" cy="309.8" r="2.6" fill="#ae022d"/>
<circle cx="378.5" cy="312.3" r="2.6" fill="#ae022d"/>
<circle cx="383.5" cy="316.2" r="2.6" fill="#ae022d"/>
<circle cx="383.5" cy="322.1" r="2.6" fill="#ae022d"/>
<circle cx="383.4" cy="346.1" r="2.6" fill="#ae022d"/>
<circle cx="470.3" cy="307" r="2.6" fill="#ae022d"/>
<circle cx="475.4" cy="304.8" r="2.6" fill="#ae022d"/>
<circle cx="480.2" cy="301.9" r="2.6" fill="#ae022d"/>
<circle cx="485.1" cy="303.2" r="2.6" fill="#ae022d"/>
<circle cx="475.4" cy="314.3" r="2.6" fill="#ae022d"/>
<circle cx="480.2" cy="312.1" r="2.6" fill="#ae022d"/>
<circle cx="485.1" cy="315.2" r="2.6" fill="#ae022d"/>
<circle cx="480.2" cy="321.8" r="2.6" fill="#ae022d"/>
<circle cx="479.8" cy="379.2" r="2.6" fill="#ae022d"/>
<text x="345.8" y="290.6" font-size="8.25" stroke="#222" stroke-width="0.22" textLength="20.0" lengthAdjust="spacingAndGlyphs">86.18</text>
<text x="387.7" y="320.1" font-size="8.25" stroke="#222" stroke-width="0.22" textLength="20.0" lengthAdjust="spacingAndGlyphs">75.18</text>
<text x="440" y="291.1" font-size="8.25" stroke="#222" stroke-width="0.22" textLength="20.0" lengthAdjust="spacingAndGlyphs">85.77</text>
<text x="489" y="315.4" font-size="8.25" stroke="#222" stroke-width="0.22" textLength="20.0" lengthAdjust="spacingAndGlyphs">65.72</text>
<rect x="311.2" y="474.5" width="98.5" height="127.8" fill="#c5c3c8"/>
<path d="M311.2 474.2L311.2 603" stroke="#222" stroke-width="1.4"/>
<path d="M307.2 602.3L311.2 602.3" stroke="#222" stroke-width="0.9"/>
<text x="304.5" y="605.5" font-size="9.3" stroke="#222" stroke-width="0.22" text-anchor="end" textLength="4.2" lengthAdjust="spacingAndGlyphs">0</text>
<path d="M307.2 571.1L311.2 571.1" stroke="#222" stroke-width="0.9"/>
<text x="304.5" y="574.3" font-size="9.3" stroke="#222" stroke-width="0.22" text-anchor="end" textLength="9.8" lengthAdjust="spacingAndGlyphs">10</text>
<path d="M307.2 539.9L311.2 539.9" stroke="#222" stroke-width="0.9"/>
<text x="304.5" y="543.1" font-size="9.3" stroke="#222" stroke-width="0.22" text-anchor="end" textLength="9.8" lengthAdjust="spacingAndGlyphs">20</text>
<path d="M307.2 508.7L311.2 508.7" stroke="#222" stroke-width="0.9"/>
<text x="304.5" y="511.9" font-size="9.3" stroke="#222" stroke-width="0.22" text-anchor="end" textLength="9.8" lengthAdjust="spacingAndGlyphs">30</text>
<path d="M307.2 477.5L311.2 477.5" stroke="#222" stroke-width="0.9"/>
<text x="304.5" y="480.7" font-size="9.3" stroke="#222" stroke-width="0.22" text-anchor="end" textLength="9.8" lengthAdjust="spacingAndGlyphs">40</text>
<path d="M409.7 473.7L409.7 605.5" stroke="#222" stroke-width="1.1"/>
<path d="M310.7 602.3L512 602.3" stroke="#222" stroke-width="1.4"/>
<path d="M311 602.3L311 605.5" stroke="#222" stroke-width="0.9"/>
<path d="M360.5 602.3L360.5 605.5" stroke="#222" stroke-width="0.9"/>
<path d="M409.9 602.3L409.9 605.5" stroke="#222" stroke-width="0.9"/>
<path d="M459.2 602.3L459.2 605.5" stroke="#222" stroke-width="0.9"/>
<path d="M509 602.3L509 605.5" stroke="#222" stroke-width="0.9"/>
<text x="411.7" y="450.7" font-size="10.2" stroke="#222" stroke-width="0.22" text-anchor="middle" textLength="102.7" lengthAdjust="spacingAndGlyphs">Injected bone marrow</text>
<text x="411.5" y="462.2" font-size="10.2" stroke="#222" stroke-width="0.22" text-anchor="middle" textLength="54.7" lengthAdjust="spacingAndGlyphs">human CD3</text>
<text x="289.4" y="538" font-size="8.3" stroke="#222" stroke-width="0.22" text-anchor="middle" textLength="68.7" lengthAdjust="spacingAndGlyphs" transform="rotate(-90 289.4 538)">% of hCD45+ cells</text>
<path d="M438.8 529.3V478.5H484.6V488.2" stroke="#222" stroke-width="1" fill="none"/>
<text x="461.7" y="474.8" font-size="8.0" stroke="#222" stroke-width="0.22" text-anchor="middle" textLength="26.4" lengthAdjust="spacingAndGlyphs">p=0.17</text>
<path d="M312 602.2L356 602.2" stroke="#222" stroke-width="1.4"/>
<path d="M362 602.2L408 602.2" stroke="#222" stroke-width="1.4"/>
<path d="M415 598.8L454.8 598.8" stroke="#222" stroke-width="1.4"/>
<path d="M464.3 583.1L504.1 583.1" stroke="#222" stroke-width="1.4"/>
<path d="M313.5 604.4L318.5 604.4L316 600.1Z" fill="#ae022d"/>
<path d="M317.5 604.4L322.5 604.4L320 600.1Z" fill="#ae022d"/>
<path d="M321.5 604.4L326.5 604.4L324 600.1Z" fill="#ae022d"/>
<path d="M325.5 604.4L330.5 604.4L328 600.1Z" fill="#ae022d"/>
<path d="M330 604.4L335 604.4L332.5 600.1Z" fill="#ae022d"/>
<path d="M333 604.4L338 604.4L335.5 600.1Z" fill="#ae022d"/>
<path d="M336 604.4L341 604.4L338.5 600.1Z" fill="#ae022d"/>
<path d="M343.5 604.4L348.5 604.4L346 600.1Z" fill="#ae022d"/>
<path d="M349 604.4L354 604.4L351.5 600.1Z" fill="#ae022d"/>
<path d="M354 604.4L359 604.4L356.5 600.1Z" fill="#ae022d"/>
<path d="M427.3 596.8L432.3 596.8L429.8 592.5Z" fill="#ae022d"/>
<path d="M432.4 594.6L437.4 594.6L434.9 590.3Z" fill="#ae022d"/>
<path d="M422.4 603.9L427.4 603.9L424.9 599.6Z" fill="#ae022d"/>
<path d="M427.3 603.9L432.3 603.9L429.8 599.6Z" fill="#ae022d"/>
<path d="M432.4 603.9L437.4 603.9L434.9 599.6Z" fill="#ae022d"/>
<path d="M437.5 603.9L442.5 603.9L440 599.6Z" fill="#ae022d"/>
<circle cx="366.8" cy="600.9" r="2.6" fill="#ae022d"/>
<circle cx="371.1" cy="600.9" r="2.6" fill="#ae022d"/>
<circle cx="375.4" cy="600.9" r="2.6" fill="#ae022d"/>
<circle cx="379.8" cy="600.9" r="2.6" fill="#ae022d"/>
<circle cx="384.1" cy="600.9" r="2.6" fill="#ae022d"/>
<circle cx="388.4" cy="600.9" r="2.6" fill="#ae022d"/>
<circle cx="392.7" cy="600.9" r="2.6" fill="#ae022d"/>
<circle cx="397" cy="600.9" r="2.6" fill="#ae022d"/>
<circle cx="401.3" cy="600.9" r="2.6" fill="#ae022d"/>
<circle cx="405.3" cy="600.9" r="2.6" fill="#ae022d"/>
<circle cx="484.2" cy="517.3" r="2.6" fill="#ae022d"/>
<circle cx="484" cy="574.5" r="2.6" fill="#ae022d"/>
<circle cx="484" cy="582.7" r="2.6" fill="#ae022d"/>
<circle cx="489.1" cy="583.8" r="2.6" fill="#ae022d"/>
<circle cx="479.1" cy="595.9" r="2.6" fill="#ae022d"/>
<circle cx="484" cy="595.9" r="2.6" fill="#ae022d"/>
<circle cx="489.1" cy="595.9" r="2.6" fill="#ae022d"/>
<circle cx="479.1" cy="601.7" r="2.6" fill="#ae022d"/>
<circle cx="486.9" cy="601.7" r="2.6" fill="#ae022d"/>
<text x="324.6" y="596.6" font-size="8.25" stroke="#222" stroke-width="0.22" textLength="15.55" lengthAdjust="spacingAndGlyphs">0.14</text>
<text x="374" y="596.6" font-size="8.25" stroke="#222" stroke-width="0.22" textLength="15.55" lengthAdjust="spacingAndGlyphs">0.15</text>
<text x="440.2" y="597.7" font-size="8.25" stroke="#222" stroke-width="0.22" textLength="15.55" lengthAdjust="spacingAndGlyphs">1.02</text>
<text x="491.7" y="582.2" font-size="8.25" stroke="#222" stroke-width="0.22" textLength="15.55" lengthAdjust="spacingAndGlyphs">6.09</text>
<text x="362.1" y="510.8" font-size="7.8" stroke="#222" stroke-width="0.22" text-anchor="middle">n.s.</text>
<text x="316.9" y="205.4" font-size="8.6" stroke="#222" stroke-width="0.22" textLength="21.6" lengthAdjust="spacingAndGlyphs">BRGS</text>
<text x="338.9" y="202" font-size="6.4" stroke="#222" stroke-width="0.1" font-style="italic" textLength="16.5" lengthAdjust="spacingAndGlyphs">NOD</text>
<text x="364.5" y="205.4" font-size="8.6" stroke="#222" stroke-width="0.22" textLength="21.6" lengthAdjust="spacingAndGlyphs">BRGS</text>
<text x="386.7" y="202" font-size="6.3" stroke="#222" stroke-width="0.05" textLength="19.099999999999998" lengthAdjust="spacingAndGlyphs">human</text>
<text x="416" y="205.4" font-size="8.6" stroke="#222" stroke-width="0.22" textLength="21.6" lengthAdjust="spacingAndGlyphs">BRGS</text>
<text x="438" y="202" font-size="6.4" stroke="#222" stroke-width="0.1" font-style="italic" textLength="15.200000000000003" lengthAdjust="spacingAndGlyphs">NOD</text>
<text x="464.3" y="205.4" font-size="8.6" stroke="#222" stroke-width="0.22" textLength="21.6" lengthAdjust="spacingAndGlyphs">BRGS</text>
<text x="486.5" y="202" font-size="6.3" stroke="#222" stroke-width="0.05" textLength="19.2" lengthAdjust="spacingAndGlyphs">human</text>
<text x="316.9" y="417.2" font-size="8.6" stroke="#222" stroke-width="0.22" textLength="21.6" lengthAdjust="spacingAndGlyphs">BRGS</text>
<text x="338.9" y="413.8" font-size="6.4" stroke="#222" stroke-width="0.1" font-style="italic" textLength="15.200000000000003" lengthAdjust="spacingAndGlyphs">NOD</text>
<text x="363.5" y="417.2" font-size="8.6" stroke="#222" stroke-width="0.22" textLength="21.6" lengthAdjust="spacingAndGlyphs">BRGS</text>
<text x="385.7" y="413.8" font-size="6.3" stroke="#222" stroke-width="0.05" textLength="19.2" lengthAdjust="spacingAndGlyphs">human</text>
<text x="413.4" y="417.2" font-size="8.6" stroke="#222" stroke-width="0.22" textLength="21.6" lengthAdjust="spacingAndGlyphs">BRGS</text>
<text x="435.4" y="413.8" font-size="6.4" stroke="#222" stroke-width="0.1" font-style="italic" textLength="16" lengthAdjust="spacingAndGlyphs">NOD</text>
<text x="459.9" y="417.2" font-size="8.6" stroke="#222" stroke-width="0.22" textLength="21.6" lengthAdjust="spacingAndGlyphs">BRGS</text>
<text x="482.1" y="413.8" font-size="6.3" stroke="#222" stroke-width="0.05" textLength="18.8" lengthAdjust="spacingAndGlyphs">human</text>
<text x="317" y="619.6" font-size="8.6" stroke="#222" stroke-width="0.22" textLength="21.6" lengthAdjust="spacingAndGlyphs">BRGS</text>
<text x="339" y="616.2" font-size="6.4" stroke="#222" stroke-width="0.1" font-style="italic" textLength="16" lengthAdjust="spacingAndGlyphs">NOD</text>
<text x="364.3" y="619.6" font-size="8.6" stroke="#222" stroke-width="0.22" textLength="21.6" lengthAdjust="spacingAndGlyphs">BRGS</text>
<text x="386.5" y="616.2" font-size="6.3" stroke="#222" stroke-width="0.05" textLength="19.2" lengthAdjust="spacingAndGlyphs">human</text>
<text x="416.5" y="619.6" font-size="8.6" stroke="#222" stroke-width="0.22" textLength="21.6" lengthAdjust="spacingAndGlyphs">BRGS</text>
<text x="438.5" y="616.2" font-size="6.4" stroke="#222" stroke-width="0.1" font-style="italic" textLength="15.600000000000001" lengthAdjust="spacingAndGlyphs">NOD</text>
<text x="464.3" y="619.6" font-size="8.6" stroke="#222" stroke-width="0.22" textLength="21.6" lengthAdjust="spacingAndGlyphs">BRGS</text>
<text x="486.5" y="616.2" font-size="6.3" stroke="#222" stroke-width="0.05" textLength="19.2" lengthAdjust="spacingAndGlyphs">human</text>
<path d="M324.3 210.6L396.3 210.6" stroke="#222" stroke-width="1"/>
<path d="M423.1 210.6L495.7 210.6" stroke="#222" stroke-width="1"/>
<text x="360.3" y="221.3" font-size="8.7" stroke="#222" stroke-width="0.22" text-anchor="middle" textLength="48.6" lengthAdjust="spacingAndGlyphs">10-12 weeks</text>
<text x="459.1" y="221.3" font-size="8.7" stroke="#222" stroke-width="0.22" text-anchor="middle" textLength="48.6" lengthAdjust="spacingAndGlyphs">20-24 weeks</text>
<path d="M323.3 422.4L394.8 422.4" stroke="#222" stroke-width="1"/>
<path d="M419.7 422.4L491.2 422.4" stroke="#222" stroke-width="1"/>
<text x="359.05" y="433.1" font-size="8.7" stroke="#222" stroke-width="0.22" text-anchor="middle" textLength="48.6" lengthAdjust="spacingAndGlyphs">10-12 weeks</text>
<text x="455.15" y="433.1" font-size="8.7" stroke="#222" stroke-width="0.22" text-anchor="middle" textLength="48.6" lengthAdjust="spacingAndGlyphs">20-24 weeks</text>
<path d="M324.5 625.3L396.3 625.3" stroke="#222" stroke-width="1"/>
<path d="M423.1 625.3L495.7 625.3" stroke="#222" stroke-width="1"/>
<text x="360.4" y="634.8" font-size="8.7" stroke="#222" stroke-width="0.22" text-anchor="middle" textLength="48.6" lengthAdjust="spacingAndGlyphs">10-12 weeks</text>
<text x="459.1" y="634.8" font-size="8.7" stroke="#222" stroke-width="0.22" text-anchor="middle" textLength="48.6" lengthAdjust="spacingAndGlyphs">20-24 weeks</text>
<path d="M0 0H520V1H0ZM0 0H1.1V647H0ZM518.9 0H520V647H518.9ZM0 645.6H520V647H0Z" fill="#000"/>
</svg></body></html>
